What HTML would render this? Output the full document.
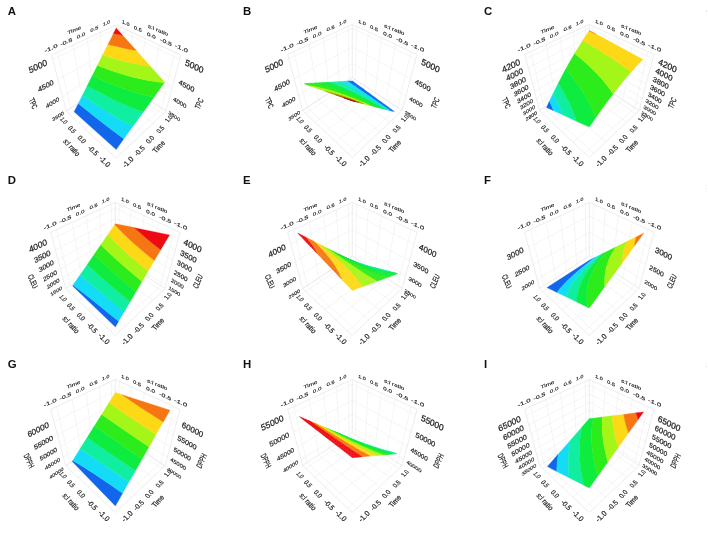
<!DOCTYPE html>
<html><head><meta charset="utf-8"><title>Response surface plots</title>
<style>html,body{margin:0;padding:0;background:#fff}svg{display:block}text{font-family:"Liberation Sans",sans-serif}</style></head>
<body>
<svg width="708" height="541" viewBox="0 0 708 541">
<rect width="708" height="541" fill="#fff"/>
<g transform="translate(0 0)">
<g fill="none" stroke="#efefef" stroke-width="0.6"><path d="M120.7 153.9L70.8 108.3"/><path d="M111.6 153.9L161.5 108.3"/><path d="M70.8 108.3L57.5 52.2"/><path d="M161.5 108.3L174.8 52.2"/><path d="M132.6 142.7L82.5 100.6"/><path d="M99.7 142.7L149.8 100.6"/><path d="M82.5 100.6L73 45"/><path d="M149.8 100.6L159.2 45"/><path d="M143.5 132.4L93.3 93.5"/><path d="M88.8 132.4L139 93.5"/><path d="M93.3 93.5L87.2 38.4"/><path d="M139 93.5L145.1 38.4"/><path d="M153.5 122.9L103.4 86.8"/><path d="M78.8 122.9L128.8 86.8"/><path d="M103.4 86.8L100.2 32.4"/><path d="M128.8 86.8L132.1 32.4"/><path d="M162.7 114.1L112.9 80.6"/><path d="M69.5 114.1L119.4 80.6"/><path d="M112.9 80.6L112.1 26.9"/><path d="M119.4 80.6L120.2 26.9"/><path d="M66.3 110.7L116.1 78"/><path d="M116.1 78L166 110.7"/><path d="M62.4 96.2L116.1 63.8"/><path d="M116.1 63.8L169.8 96.2"/><path d="M57.9 79.3L116.1 47.6"/><path d="M116.1 47.6L174.3 79.3"/><path d="M52.6 59.3L116.1 28.9"/><path d="M116.1 28.9L179.6 59.3"/></g><g fill="none" stroke="#e5e5e5" stroke-width="0.7"><path d="M66.4 111.2L116.1 158.2"/><path d="M116.1 158.2L165.9 111.2"/><path d="M165.9 111.2L116.1 78.5"/><path d="M116.1 78.5L66.4 111.2"/><path d="M66.4 111.2L51.5 55"/><path d="M165.9 111.2L180.8 55"/><path d="M116.1 78.5L116.1 25"/><path d="M51.5 55L116.1 25"/><path d="M116.1 25L180.8 55"/></g>
<g stroke-width="0.3" stroke-linejoin="round"><polygon points="78.3,103.5 74.1,111.8 116.2,149.6 123.9,138.8 112.9,130.7 102.8,123 91.7,114.2" fill="#1266ec" stroke="#1266ec"/><polygon points="82.3,95.4 78.3,103.5 91.6,114.3 102.8,123 115,132.3 123.9,138.8 132.9,126.3 127.8,123.7 120.4,119.7 115.8,117 109.2,113 102.9,109.1 96.9,105.3 89.4,100.3" fill="#14dcf6" stroke="#14dcf6"/><polygon points="87.3,85.6 82.3,95.5 89.4,100.3 96.9,105.3 102.8,109.2 109.1,113.1 115.8,117.1 120.4,119.7 127.7,123.7 132.9,126.4 143.5,111.7 134.9,108.7 129.4,106.6 123.5,104.1 116.8,101.1 109.8,97.8 103.2,94.4 95,90" fill="#10eea2" stroke="#10eea2"/><polygon points="92.3,75.6 87.2,85.7 94.9,90 101.1,93.3 107.6,96.7 113.2,99.5 119.2,102.3 126.8,105.6 132.1,107.7 137.6,109.8 143.5,111.7 154,97.2 144.4,95 138.4,93.5 132.6,91.8 124.5,89.1 116.8,86.3 109.6,83.4 100.6,79.5" fill="#0eec40" stroke="#0eec40"/><polygon points="97.4,65.4 92.3,75.7 98.5,78.6 105,81.5 112,84.4 116.8,86.3 124.5,89.1 129.8,90.9 135.5,92.7 141.3,94.3 147.5,95.8 154,97.2 164.4,82.8 155.2,81.6 147.4,80.3 141.1,79.1 132.3,76.9 123.9,74.6 116.1,72.2 106.4,68.8" fill="#2cec1c" stroke="#2cec1c"/><polygon points="102.6,55 97.4,65.5 106.4,68.9 116.1,72.3 121.3,73.9 126.6,75.5 135.1,77.7 144.2,79.8 149.6,80.8 153.9,81.5 160.4,82.4 164.4,82.8 164.8,82.2 150.6,66.5 145.1,65.6 139.3,64.6 133.1,63.3 126.6,61.8 120.1,60.2 114.8,58.7 109.8,57.2" fill="#a4f618" stroke="#a4f618"/><polygon points="108,44.3 102.6,55 109.8,57.3 114.8,58.8 120,60.2 126.6,61.9 133.1,63.4 139.3,64.6 145.1,65.7 150.6,66.5 136.4,50.6 129.5,49.3 121,47.5 115.7,46.3" fill="#fcd816" stroke="#fcd816"/><polygon points="113.5,33.4 108,44.4 115.6,46.3 123.8,48.2 130.3,49.6 136.4,50.6 122.6,35.3" fill="#f57612" stroke="#f57612"/><polygon points="116.2,28.1 113.4,33.5 122.6,35.3 122.6,35.3" fill="#ee0a12" stroke="#ee0a12"/></g>
<g fill="#222" stroke="#222" stroke-width="0.28" font-size="10" dominant-baseline="central"><text transform="matrix(0.505 -0.331 0.122 0.432 63.6 112.5)" text-anchor="end">3500</text><text transform="matrix(0.505 0.331 -0.122 0.432 168.7 112.5)" text-anchor="start">3500</text><text transform="matrix(0.586 -0.354 0.152 0.532 58.9 98.4)" text-anchor="end">4000</text><text transform="matrix(0.586 0.354 -0.152 0.532 173.4 98.4)" text-anchor="start">4000</text><text transform="matrix(0.685 -0.374 0.191 0.662 53.4 81.8)" text-anchor="end">4500</text><text transform="matrix(0.685 0.374 -0.191 0.662 178.9 81.8)" text-anchor="start">4500</text><text transform="matrix(0.806 -0.386 0.244 0.833 46.8 62.1)" text-anchor="end">5000</text><text transform="matrix(0.806 0.386 -0.244 0.833 185.4 62.1)" text-anchor="start">5000</text><text transform="matrix(0.208 0.492 -0.707 0.407 33.3 103.5)" text-anchor="middle">TPC</text><text transform="matrix(0.208 -0.492 0.707 0.407 199 103.5)" text-anchor="middle">TPC</text><text transform="matrix(0.752 -0.333 0.125 0.480 50.9 48.1)" text-anchor="middle">-1.0</text><text transform="matrix(0.752 0.333 -0.125 0.480 181.4 48.1)" text-anchor="middle">-1.0</text><text transform="matrix(0.685 -0.305 0.091 0.470 66.2 41.7)" text-anchor="middle">-0.5</text><text transform="matrix(0.685 0.305 -0.091 0.470 166.1 41.7)" text-anchor="middle">-0.5</text><text transform="matrix(0.624 -0.278 0.061 0.459 81 35.5)" text-anchor="middle">0.0</text><text transform="matrix(0.624 0.278 -0.061 0.459 151.3 35.5)" text-anchor="middle">0.0</text><text transform="matrix(0.573 -0.254 0.036 0.451 94.4 28.8)" text-anchor="middle">0.5</text><text transform="matrix(0.573 0.254 -0.036 0.451 137.9 28.8)" text-anchor="middle">0.5</text><text transform="matrix(0.528 -0.233 0.015 0.443 106.5 22.9)" text-anchor="middle">1.0</text><text transform="matrix(0.528 0.233 -0.015 0.443 125.8 22.9)" text-anchor="middle">1.0</text><text transform="matrix(0.617 -0.259 0.073 0.467 74.3 30.1)" text-anchor="middle">Time</text><text transform="matrix(0.624 0.262 -0.073 0.472 158 30.1)" text-anchor="middle">s:l ratio</text><text transform="matrix(0.362 0.362 -0.531 0.362 63.8 120.6)" text-anchor="middle">1.0</text><text transform="matrix(0.391 0.390 -0.538 0.390 72.3 129.3)" text-anchor="middle">0.5</text><text transform="matrix(0.424 0.425 -0.544 0.425 82 139.3)" text-anchor="middle">0.0</text><text transform="matrix(0.464 0.465 -0.548 0.465 93.2 150.5)" text-anchor="middle">-0.5</text><text transform="matrix(0.506 0.505 -0.550 0.505 104.8 161.4)" text-anchor="middle">-1.0</text><text transform="matrix(0.359 -0.356 0.527 0.356 168.6 118.8)" text-anchor="middle">1.0</text><text transform="matrix(0.390 -0.390 0.538 0.390 160 129.3)" text-anchor="middle">0.5</text><text transform="matrix(0.425 -0.425 0.543 0.425 149.8 139.4)" text-anchor="middle">0.0</text><text transform="matrix(0.464 -0.466 0.549 0.466 139.3 150.8)" text-anchor="middle">-0.5</text><text transform="matrix(0.507 -0.508 0.552 0.508 127.9 162)" text-anchor="middle">-1.0</text><text transform="matrix(0.434 0.469 -0.600 0.469 71.8 147.3)" text-anchor="middle">s:l ratio</text><text transform="matrix(0.437 -0.467 0.595 0.467 158.7 146.7)" text-anchor="middle">Time</text></g>
</g>
<text x="7.7" y="15.1" font-size="11.4" font-weight="bold" fill="#111">A</text>
<g transform="translate(236.2 -0.6)">
<g fill="none" stroke="#efefef" stroke-width="0.6"><path d="M120.7 153.9L70.8 108.3"/><path d="M111.6 153.9L161.5 108.3"/><path d="M70.8 108.3L57.5 52.2"/><path d="M161.5 108.3L174.8 52.2"/><path d="M132.6 142.7L82.5 100.6"/><path d="M99.7 142.7L149.8 100.6"/><path d="M82.5 100.6L73 45"/><path d="M149.8 100.6L159.2 45"/><path d="M143.5 132.4L93.3 93.5"/><path d="M88.8 132.4L139 93.5"/><path d="M93.3 93.5L87.2 38.4"/><path d="M139 93.5L145.1 38.4"/><path d="M153.5 122.9L103.4 86.8"/><path d="M78.8 122.9L128.8 86.8"/><path d="M103.4 86.8L100.2 32.4"/><path d="M128.8 86.8L132.1 32.4"/><path d="M162.7 114.1L112.9 80.6"/><path d="M69.5 114.1L119.4 80.6"/><path d="M112.9 80.6L112.1 26.9"/><path d="M119.4 80.6L120.2 26.9"/><path d="M66.3 110.7L116.1 78"/><path d="M116.1 78L166 110.7"/><path d="M62.4 96.2L116.1 63.8"/><path d="M116.1 63.8L169.8 96.2"/><path d="M57.9 79.3L116.1 47.6"/><path d="M116.1 47.6L174.3 79.3"/><path d="M52.6 59.3L116.1 28.9"/><path d="M116.1 28.9L179.6 59.3"/></g><g fill="none" stroke="#e5e5e5" stroke-width="0.7"><path d="M66.4 111.2L116.1 158.2"/><path d="M116.1 158.2L165.9 111.2"/><path d="M165.9 111.2L116.1 78.5"/><path d="M116.1 78.5L66.4 111.2"/><path d="M66.4 111.2L51.5 55"/><path d="M165.9 111.2L180.8 55"/><path d="M116.1 78.5L116.1 25"/><path d="M51.5 55L116.1 25"/><path d="M116.1 25L180.8 55"/></g>
<g stroke-width="0.35" stroke-linejoin="round"><polygon points="116.1,82.7 117.7,82.6 116.1,81.5 114.6,81.6" fill="#1266ec" stroke="#1266ec"/><polygon points="117.7,83.8 119.2,83.8 117.7,82.6 116.1,82.7" fill="#1266ec" stroke="#1266ec"/><polygon points="119.3,84.9 120.8,84.9 119.2,83.8 117.7,83.8" fill="#1266ec" stroke="#1266ec"/><polygon points="120.9,86.1 122.4,86.1 120.8,84.9 119.3,84.9" fill="#1266ec" stroke="#1266ec"/><polygon points="122.5,87.2 124,87.3 122.4,86.1 120.9,86.1" fill="#1266ec" stroke="#1266ec"/><polygon points="124.1,88.4 125.6,88.4 124,87.3 122.5,87.2" fill="#1266ec" stroke="#1266ec"/><polygon points="125.8,89.6 127.3,89.6 125.6,88.4 124.1,88.4" fill="#1266ec" stroke="#1266ec"/><polygon points="127.5,90.8 128.9,90.9 127.3,89.6 125.8,89.6" fill="#1266ec" stroke="#1266ec"/><polygon points="129.1,92 130.6,92.1 128.9,90.9 127.5,90.8" fill="#1266ec" stroke="#1266ec"/><polygon points="130.9,93.2 132.3,93.3 130.6,92.1 129.1,92" fill="#1266ec" stroke="#1266ec"/><polygon points="132.6,94.5 134,94.6 132.3,93.3 130.9,93.2" fill="#1266ec" stroke="#1266ec"/><polygon points="134.3,95.7 135.7,95.9 134,94.6 132.6,94.5" fill="#1266ec" stroke="#1266ec"/><polygon points="136.1,97 137.5,97.1 135.7,95.9 134.3,95.7" fill="#1266ec" stroke="#1266ec"/><polygon points="137.9,98.3 139.2,98.4 137.5,97.1 136.1,97" fill="#1266ec" stroke="#1266ec"/><polygon points="139.7,99.6 141,99.8 139.2,98.4 137.9,98.3" fill="#1266ec" stroke="#1266ec"/><polygon points="141.5,100.9 142.8,101.1 141,99.8 139.7,99.6" fill="#1266ec" stroke="#1266ec"/><polygon points="143.4,102.2 144.7,102.4 142.8,101.1 141.5,100.9" fill="#1266ec" stroke="#1266ec"/><polygon points="145.2,103.6 146.5,103.8 144.7,102.4 143.4,102.2" fill="#1266ec" stroke="#1266ec"/><polygon points="147.1,104.9 148.4,105.1 146.5,103.8 145.2,103.6" fill="#1266ec" stroke="#1266ec"/><polygon points="149,106.3 150.3,106.5 148.4,105.1 147.1,104.9" fill="#1266ec" stroke="#1266ec"/><polygon points="151,107.7 152.2,107.9 150.3,106.5 149,106.3" fill="#1266ec" stroke="#1266ec"/><polygon points="152.9,109.1 154.1,109.4 152.2,107.9 151,107.7" fill="#1266ec" stroke="#1266ec"/><polygon points="154.9,110.5 156.1,110.8 154.1,109.4 152.9,109.1" fill="#1266ec" stroke="#1266ec"/><polygon points="156.9,111.9 158.1,112.2 156.1,110.8 154.9,110.5" fill="#1266ec" stroke="#1266ec"/><polygon points="114.6,82.7 116.1,82.7 114.6,81.6 113,81.7" fill="#1266ec" stroke="#1266ec"/><polygon points="116.1,83.9 117.7,83.8 116.1,82.7 114.6,82.7" fill="#1266ec" stroke="#1266ec"/><polygon points="117.7,85 119.3,84.9 117.7,83.8 116.1,83.9" fill="#1266ec" stroke="#1266ec"/><polygon points="119.3,86.1 120.9,86.1 119.3,84.9 117.7,85" fill="#1266ec" stroke="#1266ec"/><polygon points="121,87.2 122.5,87.2 120.9,86.1 119.3,86.1" fill="#1266ec" stroke="#1266ec"/><polygon points="122.6,88.4 124.1,88.4 122.5,87.2 121,87.2" fill="#1266ec" stroke="#1266ec"/><polygon points="124.3,89.6 125.8,89.6 124.1,88.4 122.6,88.4" fill="#1266ec" stroke="#1266ec"/><polygon points="126,90.7 127.5,90.8 125.8,89.6 124.3,89.6" fill="#1266ec" stroke="#1266ec"/><polygon points="127.7,91.9 129.1,92 127.5,90.8 126,90.7" fill="#1266ec" stroke="#1266ec"/><polygon points="129.4,93.1 130.9,93.2 129.1,92 127.7,91.9" fill="#1266ec" stroke="#1266ec"/><polygon points="131.1,94.4 132.6,94.5 130.9,93.2 129.4,93.1" fill="#1266ec" stroke="#1266ec"/><polygon points="132.9,95.6 134.3,95.7 132.6,94.5 131.1,94.4" fill="#1266ec" stroke="#1266ec"/><polygon points="134.7,96.8 136.1,97 134.3,95.7 132.9,95.6" fill="#1266ec" stroke="#1266ec"/><polygon points="136.5,98.1 137.9,98.3 136.1,97 134.7,96.8" fill="#1266ec" stroke="#1266ec"/><polygon points="138.3,99.4 139.7,99.6 137.9,98.3 136.5,98.1" fill="#1266ec" stroke="#1266ec"/><polygon points="140.1,100.7 141.5,100.9 139.7,99.6 138.3,99.4" fill="#1266ec" stroke="#1266ec"/><polygon points="142,102 143.4,102.2 141.5,100.9 140.1,100.7" fill="#1266ec" stroke="#1266ec"/><polygon points="143.9,103.3 145.2,103.6 143.4,102.2 142,102" fill="#1266ec" stroke="#1266ec"/><polygon points="145.8,104.7 147.1,104.9 145.2,103.6 143.9,103.3" fill="#1266ec" stroke="#1266ec"/><polygon points="147.8,106 149,106.3 147.1,104.9 145.8,104.7" fill="#1266ec" stroke="#1266ec"/><polygon points="149.7,107.4 151,107.7 149,106.3 147.8,106" fill="#1266ec" stroke="#1266ec"/><polygon points="151.7,108.8 152.9,109.1 151,107.7 149.7,107.4" fill="#1266ec" stroke="#1266ec"/><polygon points="153.7,110.2 154.9,110.5 152.9,109.1 151.7,108.8" fill="#1266ec" stroke="#1266ec"/><polygon points="155.8,111.7 156.9,111.9 154.9,110.5 153.7,110.2" fill="#1266ec" stroke="#1266ec"/><polygon points="113,82.8 114.6,82.7 113,81.7 111.4,81.7" fill="#1266ec" stroke="#1266ec"/><polygon points="114.5,83.9 116.1,83.9 114.6,82.7 113,82.8" fill="#1266ec" stroke="#1266ec"/><polygon points="116.1,85 117.7,85 116.1,83.9 114.5,83.9" fill="#1266ec" stroke="#1266ec"/><polygon points="117.8,86.1 119.3,86.1 117.7,85 116.1,85" fill="#1266ec" stroke="#1266ec"/><polygon points="119.4,87.2 121,87.2 119.3,86.1 117.8,86.1" fill="#1266ec" stroke="#1266ec"/><polygon points="121,88.4 122.6,88.4 121,87.2 119.4,87.2" fill="#1266ec" stroke="#1266ec"/><polygon points="122.7,89.5 124.3,89.6 122.6,88.4 121,88.4" fill="#1266ec" stroke="#1266ec"/><polygon points="124.4,90.7 126,90.7 124.3,89.6 122.7,89.5" fill="#1266ec" stroke="#1266ec"/><polygon points="126.1,91.8 127.7,91.9 126,90.7 124.4,90.7" fill="#1266ec" stroke="#1266ec"/><polygon points="127.9,93 129.4,93.1 127.7,91.9 126.1,91.8" fill="#1266ec" stroke="#1266ec"/><polygon points="129.6,94.2 131.1,94.4 129.4,93.1 127.9,93" fill="#1266ec" stroke="#1266ec"/><polygon points="131.4,95.5 132.9,95.6 131.1,94.4 129.6,94.2" fill="#1266ec" stroke="#1266ec"/><polygon points="133.2,96.7 134.7,96.8 132.9,95.6 131.4,95.5" fill="#1266ec" stroke="#1266ec"/><polygon points="135,97.9 136.5,98.1 134.7,96.8 133.2,96.7" fill="#1266ec" stroke="#1266ec"/><polygon points="136.9,99.2 138.3,99.4 136.5,98.1 135,97.9" fill="#1266ec" stroke="#1266ec"/><polygon points="138.7,100.5 140.1,100.7 138.3,99.4 136.9,99.2" fill="#1266ec" stroke="#1266ec"/><polygon points="140.6,101.8 142,102 140.1,100.7 138.7,100.5" fill="#1266ec" stroke="#1266ec"/><polygon points="142.5,103.1 143.9,103.3 142,102 140.6,101.8" fill="#1266ec" stroke="#1266ec"/><polygon points="144.5,104.4 145.8,104.7 143.9,103.3 142.5,103.1" fill="#1266ec" stroke="#1266ec"/><polygon points="146.4,105.8 147.8,106 145.8,104.7 144.5,104.4" fill="#1266ec" stroke="#1266ec"/><polygon points="148.4,107.1 149.7,107.4 147.8,106 146.4,105.8" fill="#1266ec" stroke="#1266ec"/><polygon points="150.4,108.5 151.7,108.8 149.7,107.4 148.4,107.1" fill="#1266ec" stroke="#1266ec"/><polygon points="152.5,109.9 153.7,110.2 151.7,108.8 150.4,108.5" fill="#1266ec" stroke="#1266ec"/><polygon points="154.6,111.3 155.8,111.7 153.7,110.2 152.5,109.9" fill="#1266ec" stroke="#1266ec"/><polygon points="112.9,82.8 113,82.8 111.4,81.7 111.3,81.8" fill="#1266ec" stroke="#1266ec"/><polygon points="111.3,82.9 112.9,82.8 111.3,81.8 109.7,81.8" fill="#14dcf6" stroke="#14dcf6"/><polygon points="114.5,83.9 114.5,83.9 113,82.8 112.9,82.8" fill="#1266ec" stroke="#1266ec"/><polygon points="112.9,84 114.5,83.9 112.9,82.8 111.3,82.9" fill="#14dcf6" stroke="#14dcf6"/><polygon points="116.1,85 116.1,85 114.5,83.9 114.5,83.9" fill="#1266ec" stroke="#1266ec"/><polygon points="114.5,85 116.1,85 114.5,83.9 112.9,84" fill="#14dcf6" stroke="#14dcf6"/><polygon points="117.7,86.1 117.8,86.1 116.1,85 116.1,85" fill="#1266ec" stroke="#1266ec"/><polygon points="116.1,86.1 117.7,86.1 116.1,85 114.5,85" fill="#14dcf6" stroke="#14dcf6"/><polygon points="119.3,87.2 119.4,87.2 117.8,86.1 117.7,86.1" fill="#1266ec" stroke="#1266ec"/><polygon points="117.8,87.2 119.3,87.2 117.7,86.1 116.1,86.1" fill="#14dcf6" stroke="#14dcf6"/><polygon points="120.9,88.4 121,88.4 119.4,87.2 119.3,87.2" fill="#1266ec" stroke="#1266ec"/><polygon points="119.4,88.3 120.9,88.4 119.3,87.2 117.8,87.2" fill="#14dcf6" stroke="#14dcf6"/><polygon points="122.6,89.5 122.7,89.5 121,88.4 120.9,88.4" fill="#1266ec" stroke="#1266ec"/><polygon points="121.1,89.5 122.6,89.5 120.9,88.4 119.4,88.3" fill="#14dcf6" stroke="#14dcf6"/><polygon points="124.3,90.7 124.4,90.7 122.7,89.5 122.6,89.5" fill="#1266ec" stroke="#1266ec"/><polygon points="122.8,90.6 124.3,90.7 122.6,89.5 121.1,89.5" fill="#14dcf6" stroke="#14dcf6"/><polygon points="126,91.8 126.1,91.8 124.4,90.7 124.3,90.7" fill="#1266ec" stroke="#1266ec"/><polygon points="124.6,91.8 126,91.8 124.3,90.7 122.8,90.6" fill="#14dcf6" stroke="#14dcf6"/><polygon points="127.7,93 127.9,93 126.1,91.8 126,91.8" fill="#1266ec" stroke="#1266ec"/><polygon points="126.3,92.9 127.7,93 126,91.8 124.6,91.8" fill="#14dcf6" stroke="#14dcf6"/><polygon points="129.5,94.2 129.6,94.2 127.9,93 127.7,93" fill="#1266ec" stroke="#1266ec"/><polygon points="128.1,94.1 129.5,94.2 127.7,93 126.3,92.9" fill="#14dcf6" stroke="#14dcf6"/><polygon points="131.3,95.5 131.4,95.5 129.6,94.2 129.5,94.2" fill="#1266ec" stroke="#1266ec"/><polygon points="129.9,95.3 131.3,95.5 129.5,94.2 128.1,94.1" fill="#14dcf6" stroke="#14dcf6"/><polygon points="133.1,96.7 133.2,96.7 131.4,95.5 131.3,95.5" fill="#1266ec" stroke="#1266ec"/><polygon points="131.7,96.5 133.1,96.7 131.3,95.5 129.9,95.3" fill="#14dcf6" stroke="#14dcf6"/><polygon points="134.9,97.9 135,97.9 133.2,96.7 133.1,96.7" fill="#1266ec" stroke="#1266ec"/><polygon points="133.5,97.8 134.9,97.9 133.1,96.7 131.7,96.5" fill="#14dcf6" stroke="#14dcf6"/><polygon points="136.7,99.2 136.9,99.2 135,97.9 134.9,97.9" fill="#1266ec" stroke="#1266ec"/><polygon points="135.4,99 136.7,99.2 134.9,97.9 133.5,97.8" fill="#14dcf6" stroke="#14dcf6"/><polygon points="138.6,100.5 138.7,100.5 136.9,99.2 136.7,99.2" fill="#1266ec" stroke="#1266ec"/><polygon points="137.3,100.3 138.6,100.5 136.7,99.2 135.4,99" fill="#14dcf6" stroke="#14dcf6"/><polygon points="140.5,101.8 140.6,101.8 138.7,100.5 138.6,100.5" fill="#1266ec" stroke="#1266ec"/><polygon points="139.2,101.6 140.5,101.8 138.6,100.5 137.3,100.3" fill="#14dcf6" stroke="#14dcf6"/><polygon points="142.4,103.1 142.5,103.1 140.6,101.8 140.5,101.8" fill="#1266ec" stroke="#1266ec"/><polygon points="141.1,102.9 142.4,103.1 140.5,101.8 139.2,101.6" fill="#14dcf6" stroke="#14dcf6"/><polygon points="144.3,104.4 144.5,104.4 142.5,103.1 142.4,103.1" fill="#1266ec" stroke="#1266ec"/><polygon points="143.1,104.2 144.3,104.4 142.4,103.1 141.1,102.9" fill="#14dcf6" stroke="#14dcf6"/><polygon points="146.3,105.8 146.4,105.8 144.5,104.4 144.3,104.4" fill="#1266ec" stroke="#1266ec"/><polygon points="145.1,105.5 146.3,105.8 144.3,104.4 143.1,104.2" fill="#14dcf6" stroke="#14dcf6"/><polygon points="148.3,107.1 148.4,107.1 146.4,105.8 146.3,105.8" fill="#1266ec" stroke="#1266ec"/><polygon points="147.1,106.9 148.3,107.1 146.3,105.8 145.1,105.5" fill="#14dcf6" stroke="#14dcf6"/><polygon points="150.3,108.5 150.4,108.5 148.4,107.1 148.3,107.1" fill="#1266ec" stroke="#1266ec"/><polygon points="149.1,108.2 150.3,108.5 148.3,107.1 147.1,106.9" fill="#14dcf6" stroke="#14dcf6"/><polygon points="152.4,109.9 152.5,109.9 150.4,108.5 150.3,108.5" fill="#1266ec" stroke="#1266ec"/><polygon points="151.2,109.6 152.4,109.9 150.3,108.5 149.1,108.2" fill="#14dcf6" stroke="#14dcf6"/><polygon points="154.4,111.3 154.6,111.3 152.5,109.9 152.4,109.9" fill="#1266ec" stroke="#1266ec"/><polygon points="153.3,111 154.4,111.3 152.4,109.9 151.2,109.6" fill="#14dcf6" stroke="#14dcf6"/><polygon points="109.6,83 111.3,82.9 109.7,81.8 108.1,81.9" fill="#14dcf6" stroke="#14dcf6"/><polygon points="111.2,84 112.9,84 111.3,82.9 109.6,83" fill="#14dcf6" stroke="#14dcf6"/><polygon points="112.8,85.1 114.5,85 112.9,84 111.2,84" fill="#14dcf6" stroke="#14dcf6"/><polygon points="114.5,86.1 116.1,86.1 114.5,85 112.8,85.1" fill="#14dcf6" stroke="#14dcf6"/><polygon points="116.1,87.2 117.8,87.2 116.1,86.1 114.5,86.1" fill="#14dcf6" stroke="#14dcf6"/><polygon points="117.8,88.3 119.4,88.3 117.8,87.2 116.1,87.2" fill="#14dcf6" stroke="#14dcf6"/><polygon points="119.5,89.4 121.1,89.5 119.4,88.3 117.8,88.3" fill="#14dcf6" stroke="#14dcf6"/><polygon points="121.2,90.5 122.8,90.6 121.1,89.5 119.5,89.4" fill="#14dcf6" stroke="#14dcf6"/><polygon points="123,91.7 124.6,91.8 122.8,90.6 121.2,90.5" fill="#14dcf6" stroke="#14dcf6"/><polygon points="124.7,92.8 126.3,92.9 124.6,91.8 123,91.7" fill="#14dcf6" stroke="#14dcf6"/><polygon points="126.5,94 128.1,94.1 126.3,92.9 124.7,92.8" fill="#14dcf6" stroke="#14dcf6"/><polygon points="128.3,95.2 129.9,95.3 128.1,94.1 126.5,94" fill="#14dcf6" stroke="#14dcf6"/><polygon points="130.1,96.4 131.7,96.5 129.9,95.3 128.3,95.2" fill="#14dcf6" stroke="#14dcf6"/><polygon points="132,97.6 133.5,97.8 131.7,96.5 130.1,96.4" fill="#14dcf6" stroke="#14dcf6"/><polygon points="133.9,98.8 135.4,99 133.5,97.8 132,97.6" fill="#14dcf6" stroke="#14dcf6"/><polygon points="135.8,100.1 137.3,100.3 135.4,99 133.9,98.8" fill="#14dcf6" stroke="#14dcf6"/><polygon points="137.7,101.3 139.2,101.6 137.3,100.3 135.8,100.1" fill="#14dcf6" stroke="#14dcf6"/><polygon points="139.7,102.6 141.1,102.9 139.2,101.6 137.7,101.3" fill="#14dcf6" stroke="#14dcf6"/><polygon points="141.7,103.9 143.1,104.2 141.1,102.9 139.7,102.6" fill="#14dcf6" stroke="#14dcf6"/><polygon points="143.7,105.2 145.1,105.5 143.1,104.2 141.7,103.9" fill="#14dcf6" stroke="#14dcf6"/><polygon points="145.7,106.6 147.1,106.9 145.1,105.5 143.7,105.2" fill="#14dcf6" stroke="#14dcf6"/><polygon points="147.8,107.9 149.1,108.2 147.1,106.9 145.7,106.6" fill="#14dcf6" stroke="#14dcf6"/><polygon points="149.9,109.3 151.2,109.6 149.1,108.2 147.8,107.9" fill="#14dcf6" stroke="#14dcf6"/><polygon points="152,110.7 153.3,111 151.2,109.6 149.9,109.3" fill="#14dcf6" stroke="#14dcf6"/><polygon points="107.9,83 109.6,83 108.1,81.9 106.4,82" fill="#14dcf6" stroke="#14dcf6"/><polygon points="109.5,84.1 111.2,84 109.6,83 107.9,83" fill="#14dcf6" stroke="#14dcf6"/><polygon points="111.1,85.1 112.8,85.1 111.2,84 109.5,84.1" fill="#14dcf6" stroke="#14dcf6"/><polygon points="112.8,86.1 114.5,86.1 112.8,85.1 111.1,85.1" fill="#14dcf6" stroke="#14dcf6"/><polygon points="114.5,87.2 116.1,87.2 114.5,86.1 112.8,86.1" fill="#14dcf6" stroke="#14dcf6"/><polygon points="116.1,88.3 117.8,88.3 116.1,87.2 114.5,87.2" fill="#14dcf6" stroke="#14dcf6"/><polygon points="117.8,89.4 119.5,89.4 117.8,88.3 116.1,88.3" fill="#14dcf6" stroke="#14dcf6"/><polygon points="119.6,90.5 121.2,90.5 119.5,89.4 117.8,89.4" fill="#14dcf6" stroke="#14dcf6"/><polygon points="121.3,91.6 123,91.7 121.2,90.5 119.6,90.5" fill="#14dcf6" stroke="#14dcf6"/><polygon points="123.1,92.7 124.7,92.8 123,91.7 121.3,91.6" fill="#14dcf6" stroke="#14dcf6"/><polygon points="124.9,93.9 126.5,94 124.7,92.8 123.1,92.7" fill="#14dcf6" stroke="#14dcf6"/><polygon points="126.7,95 128.3,95.2 126.5,94 124.9,93.9" fill="#14dcf6" stroke="#14dcf6"/><polygon points="128.6,96.2 130.1,96.4 128.3,95.2 126.7,95" fill="#14dcf6" stroke="#14dcf6"/><polygon points="130.4,97.4 132,97.6 130.1,96.4 128.6,96.2" fill="#14dcf6" stroke="#14dcf6"/><polygon points="132.3,98.6 133.9,98.8 132,97.6 130.4,97.4" fill="#14dcf6" stroke="#14dcf6"/><polygon points="134.3,99.9 135.8,100.1 133.9,98.8 132.3,98.6" fill="#14dcf6" stroke="#14dcf6"/><polygon points="136.2,101.1 137.7,101.3 135.8,100.1 134.3,99.9" fill="#14dcf6" stroke="#14dcf6"/><polygon points="138.2,102.4 139.7,102.6 137.7,101.3 136.2,101.1" fill="#14dcf6" stroke="#14dcf6"/><polygon points="140.2,103.7 141.7,103.9 139.7,102.6 138.2,102.4" fill="#14dcf6" stroke="#14dcf6"/><polygon points="142.3,105 143.7,105.2 141.7,103.9 140.2,103.7" fill="#14dcf6" stroke="#14dcf6"/><polygon points="144.3,106.3 145.7,106.6 143.7,105.2 142.3,105 144,106.1" fill="#14dcf6" stroke="#14dcf6"/><polygon points="144.3,106.3 144.3,106.3 144,106.1" fill="#10eea2" stroke="#10eea2"/><polygon points="146.5,107.6 147.8,107.9 145.7,106.6 144.3,106.3" fill="#14dcf6" stroke="#14dcf6"/><polygon points="146.4,107.6 146.5,107.6 144.3,106.3 144.3,106.3" fill="#10eea2" stroke="#10eea2"/><polygon points="148.7,109 149.9,109.3 147.8,107.9 146.5,107.6" fill="#14dcf6" stroke="#14dcf6"/><polygon points="148.6,109 148.7,109 146.5,107.6 146.4,107.6" fill="#10eea2" stroke="#10eea2"/><polygon points="150.9,110.4 152,110.7 149.9,109.3 148.7,109" fill="#14dcf6" stroke="#14dcf6"/><polygon points="150.7,110.4 150.9,110.4 148.7,109 148.6,109" fill="#10eea2" stroke="#10eea2"/><polygon points="106.2,83.1 107.9,83 106.4,82 104.6,82.1" fill="#14dcf6" stroke="#14dcf6"/><polygon points="107.8,84.1 109.5,84.1 107.9,83 106.2,83.1" fill="#14dcf6" stroke="#14dcf6"/><polygon points="109.4,85.1 111.1,85.1 109.5,84.1 107.8,84.1" fill="#14dcf6" stroke="#14dcf6"/><polygon points="111.1,86.2 112.8,86.1 111.1,85.1 109.4,85.1" fill="#14dcf6" stroke="#14dcf6"/><polygon points="112.7,87.2 114.5,87.2 112.8,86.1 111.1,86.2" fill="#14dcf6" stroke="#14dcf6"/><polygon points="114.4,88.3 116.1,88.3 114.5,87.2 112.7,87.2" fill="#14dcf6" stroke="#14dcf6"/><polygon points="116.1,89.3 117.8,89.4 116.1,88.3 114.4,88.3" fill="#14dcf6" stroke="#14dcf6"/><polygon points="118,90.4 119.6,90.5 117.8,89.4 116.1,89.3 116.7,89.7" fill="#14dcf6" stroke="#14dcf6"/><polygon points="117.9,90.4 118,90.4 116.7,89.7" fill="#10eea2" stroke="#10eea2"/><polygon points="119.9,91.5 121.3,91.6 119.6,90.5 118,90.4" fill="#14dcf6" stroke="#14dcf6"/><polygon points="119.6,91.5 119.9,91.5 118,90.4 117.9,90.4" fill="#10eea2" stroke="#10eea2"/><polygon points="121.8,92.6 123.1,92.7 121.3,91.6 119.9,91.5" fill="#14dcf6" stroke="#14dcf6"/><polygon points="121.4,92.6 121.8,92.6 119.9,91.5 119.6,91.5" fill="#10eea2" stroke="#10eea2"/><polygon points="123.8,93.8 124.9,93.9 123.1,92.7 121.8,92.6" fill="#14dcf6" stroke="#14dcf6"/><polygon points="123.2,93.7 123.8,93.8 121.8,92.6 121.4,92.6" fill="#10eea2" stroke="#10eea2"/><polygon points="125.8,94.9 126.7,95 124.9,93.9 123.8,93.8" fill="#14dcf6" stroke="#14dcf6"/><polygon points="125.1,94.9 125.8,94.9 123.8,93.8 123.2,93.7" fill="#10eea2" stroke="#10eea2"/><polygon points="127.7,96.1 128.6,96.2 126.7,95 125.8,94.9" fill="#14dcf6" stroke="#14dcf6"/><polygon points="126.9,96 127.7,96.1 125.8,94.9 125.1,94.9" fill="#10eea2" stroke="#10eea2"/><polygon points="129.7,97.3 130.4,97.4 128.6,96.2 127.7,96.1" fill="#14dcf6" stroke="#14dcf6"/><polygon points="128.8,97.2 129.7,97.3 127.7,96.1 126.9,96" fill="#10eea2" stroke="#10eea2"/><polygon points="131.8,98.6 132.3,98.6 130.4,97.4 129.7,97.3" fill="#14dcf6" stroke="#14dcf6"/><polygon points="130.7,98.4 131.8,98.6 129.7,97.3 128.8,97.2" fill="#10eea2" stroke="#10eea2"/><polygon points="133.8,99.8 134.3,99.9 132.3,98.6 131.8,98.6" fill="#14dcf6" stroke="#14dcf6"/><polygon points="132.7,99.6 133.8,99.8 131.8,98.6 130.7,98.4" fill="#10eea2" stroke="#10eea2"/><polygon points="135.9,101 136.2,101.1 134.3,99.9 133.8,99.8" fill="#14dcf6" stroke="#14dcf6"/><polygon points="134.7,100.9 135.9,101 133.8,99.8 132.7,99.6" fill="#10eea2" stroke="#10eea2"/><polygon points="138,102.3 138.2,102.4 136.2,101.1 135.9,101" fill="#14dcf6" stroke="#14dcf6"/><polygon points="136.7,102.1 138,102.3 135.9,101 134.7,100.9" fill="#10eea2" stroke="#10eea2"/><polygon points="140.1,103.6 140.2,103.7 138.2,102.4 138,102.3" fill="#14dcf6" stroke="#14dcf6"/><polygon points="138.7,103.4 140.1,103.6 138,102.3 136.7,102.1" fill="#10eea2" stroke="#10eea2"/><polygon points="142.2,104.9 142.3,105 140.2,103.7 140.1,103.6" fill="#14dcf6" stroke="#14dcf6"/><polygon points="140.8,104.7 142.2,104.9 140.1,103.6 138.7,103.4" fill="#10eea2" stroke="#10eea2"/><polygon points="144,106.1 142.3,105 142.2,104.9" fill="#14dcf6" stroke="#14dcf6"/><polygon points="142.9,106 144.3,106.3 144,106.1 142.2,104.9 140.8,104.7" fill="#10eea2" stroke="#10eea2"/><polygon points="145,107.3 146.4,107.6 144.3,106.3 142.9,106" fill="#10eea2" stroke="#10eea2"/><polygon points="147.2,108.6 148.6,109 146.4,107.6 145,107.3" fill="#10eea2" stroke="#10eea2"/><polygon points="149.3,110 150.7,110.4 148.6,109 147.2,108.6" fill="#10eea2" stroke="#10eea2"/><polygon points="104.8,83.2 106.2,83.1 104.6,82.1 103,82.2" fill="#14dcf6" stroke="#14dcf6"/><polygon points="104.4,83.2 104.8,83.2 103,82.2 102.8,82.2" fill="#10eea2" stroke="#10eea2"/><polygon points="106.7,84.2 107.8,84.1 106.2,83.1 104.8,83.2" fill="#14dcf6" stroke="#14dcf6"/><polygon points="106,84.2 106.7,84.2 104.8,83.2 104.4,83.2" fill="#10eea2" stroke="#10eea2"/><polygon points="108.5,85.1 109.4,85.1 107.8,84.1 106.7,84.2" fill="#14dcf6" stroke="#14dcf6"/><polygon points="107.6,85.2 108.5,85.1 106.7,84.2 106,84.2" fill="#10eea2" stroke="#10eea2"/><polygon points="110.4,86.2 111.1,86.2 109.4,85.1 108.5,85.1" fill="#14dcf6" stroke="#14dcf6"/><polygon points="109.3,86.2 110.4,86.2 108.5,85.1 107.6,85.2" fill="#10eea2" stroke="#10eea2"/><polygon points="112.3,87.2 112.7,87.2 111.1,86.2 110.4,86.2" fill="#14dcf6" stroke="#14dcf6"/><polygon points="111,87.2 112.3,87.2 110.4,86.2 109.3,86.2" fill="#10eea2" stroke="#10eea2"/><polygon points="114.2,88.2 114.4,88.3 112.7,87.2 112.3,87.2" fill="#14dcf6" stroke="#14dcf6"/><polygon points="112.7,88.2 114.2,88.2 112.3,87.2 111,87.2" fill="#10eea2" stroke="#10eea2"/><polygon points="116.1,89.3 116.1,89.3 114.4,88.3 114.2,88.2" fill="#14dcf6" stroke="#14dcf6"/><polygon points="114.4,89.3 116.1,89.3 114.2,88.2 112.7,88.2" fill="#10eea2" stroke="#10eea2"/><polygon points="116.7,89.7 116.1,89.3 116.1,89.3" fill="#14dcf6" stroke="#14dcf6"/><polygon points="116.1,90.3 117.9,90.4 116.7,89.7 116.1,89.3 114.4,89.3" fill="#10eea2" stroke="#10eea2"/><polygon points="117.9,91.4 119.6,91.5 117.9,90.4 116.1,90.3" fill="#10eea2" stroke="#10eea2"/><polygon points="119.7,92.5 121.4,92.6 119.6,91.5 117.9,91.4" fill="#10eea2" stroke="#10eea2"/><polygon points="121.5,93.6 123.2,93.7 121.4,92.6 119.7,92.5" fill="#10eea2" stroke="#10eea2"/><polygon points="123.4,94.7 125.1,94.9 123.2,93.7 121.5,93.6" fill="#10eea2" stroke="#10eea2"/><polygon points="125.3,95.9 126.9,96 125.1,94.9 123.4,94.7" fill="#10eea2" stroke="#10eea2"/><polygon points="127.2,97 128.8,97.2 126.9,96 125.3,95.9" fill="#10eea2" stroke="#10eea2"/><polygon points="129.1,98.2 130.7,98.4 128.8,97.2 127.2,97" fill="#10eea2" stroke="#10eea2"/><polygon points="131.1,99.4 132.7,99.6 130.7,98.4 129.1,98.2" fill="#10eea2" stroke="#10eea2"/><polygon points="133.1,100.6 134.7,100.9 132.7,99.6 131.1,99.4" fill="#10eea2" stroke="#10eea2"/><polygon points="135.1,101.8 136.7,102.1 134.7,100.9 133.1,100.6" fill="#10eea2" stroke="#10eea2"/><polygon points="137.1,103.1 138.7,103.4 136.7,102.1 135.1,101.8" fill="#10eea2" stroke="#10eea2"/><polygon points="139.2,104.4 140.8,104.7 138.7,103.4 137.1,103.1" fill="#10eea2" stroke="#10eea2"/><polygon points="141.4,105.7 142.9,106 140.8,104.7 139.2,104.4" fill="#10eea2" stroke="#10eea2"/><polygon points="143.5,107 145,107.3 142.9,106 141.4,105.7" fill="#10eea2" stroke="#10eea2"/><polygon points="145.7,108.3 147.2,108.6 145,107.3 143.5,107" fill="#10eea2" stroke="#10eea2"/><polygon points="147.9,109.6 149.3,110 147.2,108.6 145.7,108.3" fill="#10eea2" stroke="#10eea2"/><polygon points="102.6,83.3 104.4,83.2 102.8,82.2 101,82.3" fill="#10eea2" stroke="#10eea2"/><polygon points="104.2,84.2 106,84.2 104.4,83.2 102.6,83.3" fill="#10eea2" stroke="#10eea2"/><polygon points="105.8,85.2 107.6,85.2 106,84.2 104.2,84.2" fill="#10eea2" stroke="#10eea2"/><polygon points="107.5,86.2 109.3,86.2 107.6,85.2 105.8,85.2" fill="#10eea2" stroke="#10eea2"/><polygon points="109.2,87.2 111,87.2 109.3,86.2 107.5,86.2" fill="#10eea2" stroke="#10eea2"/><polygon points="110.9,88.2 112.7,88.2 111,87.2 109.2,87.2" fill="#10eea2" stroke="#10eea2"/><polygon points="112.6,89.2 114.4,89.3 112.7,88.2 110.9,88.2" fill="#10eea2" stroke="#10eea2"/><polygon points="114.4,90.3 116.1,90.3 114.4,89.3 112.6,89.2" fill="#10eea2" stroke="#10eea2"/><polygon points="116.1,91.3 117.9,91.4 116.1,90.3 114.4,90.3" fill="#10eea2" stroke="#10eea2"/><polygon points="117.9,92.4 119.7,92.5 117.9,91.4 116.1,91.3" fill="#10eea2" stroke="#10eea2"/><polygon points="119.8,93.5 121.5,93.6 119.7,92.5 117.9,92.4" fill="#10eea2" stroke="#10eea2"/><polygon points="121.6,94.6 123.4,94.7 121.5,93.6 119.8,93.5" fill="#10eea2" stroke="#10eea2"/><polygon points="123.5,95.7 125.3,95.9 123.4,94.7 121.6,94.6" fill="#10eea2" stroke="#10eea2"/><polygon points="125.5,96.8 127.2,97 125.3,95.9 123.5,95.7" fill="#10eea2" stroke="#10eea2"/><polygon points="127.4,98 129.1,98.2 127.2,97 125.5,96.8" fill="#10eea2" stroke="#10eea2"/><polygon points="129.4,99.2 131.1,99.4 129.1,98.2 127.4,98" fill="#10eea2" stroke="#10eea2"/><polygon points="131.4,100.4 133.1,100.6 131.1,99.4 129.4,99.2" fill="#10eea2" stroke="#10eea2"/><polygon points="133.5,101.6 135.1,101.8 133.1,100.6 131.4,100.4" fill="#10eea2" stroke="#10eea2"/><polygon points="135.5,102.8 137.1,103.1 135.1,101.8 133.5,101.6" fill="#10eea2" stroke="#10eea2"/><polygon points="137.7,104.1 139.2,104.4 137.1,103.1 135.5,102.8" fill="#10eea2" stroke="#10eea2"/><polygon points="139.8,105.3 141.4,105.7 139.2,104.4 137.7,104.1" fill="#10eea2" stroke="#10eea2"/><polygon points="142,106.6 143.5,107 141.4,105.7 139.8,105.3" fill="#10eea2" stroke="#10eea2"/><polygon points="144.2,107.9 145.7,108.3 143.5,107 142,106.6" fill="#10eea2" stroke="#10eea2"/><polygon points="146.5,109.3 147.9,109.6 145.7,108.3 144.2,107.9" fill="#10eea2" stroke="#10eea2"/><polygon points="100.7,83.4 102.6,83.3 101,82.3 99.1,82.4" fill="#10eea2" stroke="#10eea2"/><polygon points="102.3,84.3 104.2,84.2 102.6,83.3 100.7,83.4" fill="#10eea2" stroke="#10eea2"/><polygon points="104,85.2 105.8,85.2 104.2,84.2 102.3,84.3" fill="#10eea2" stroke="#10eea2"/><polygon points="105.6,86.2 107.5,86.2 105.8,85.2 104,85.2" fill="#10eea2" stroke="#10eea2"/><polygon points="107.3,87.2 109.2,87.2 107.5,86.2 105.6,86.2" fill="#10eea2" stroke="#10eea2"/><polygon points="109,88.2 110.9,88.2 109.2,87.2 107.3,87.2" fill="#10eea2" stroke="#10eea2"/><polygon points="110.8,89.2 112.6,89.2 110.9,88.2 109,88.2" fill="#10eea2" stroke="#10eea2"/><polygon points="112.5,90.2 114.4,90.3 112.6,89.2 110.8,89.2" fill="#10eea2" stroke="#10eea2"/><polygon points="114.3,91.2 116.1,91.3 114.4,90.3 112.5,90.2" fill="#10eea2" stroke="#10eea2"/><polygon points="116.1,92.3 117.9,92.4 116.1,91.3 114.3,91.2" fill="#10eea2" stroke="#10eea2"/><polygon points="118,93.3 119.8,93.5 117.9,92.4 116.1,92.3" fill="#10eea2" stroke="#10eea2"/><polygon points="119.9,94.4 121.6,94.6 119.8,93.5 118,93.3" fill="#10eea2" stroke="#10eea2"/><polygon points="121.8,95.5 123.5,95.7 121.6,94.6 119.9,94.4" fill="#10eea2" stroke="#10eea2"/><polygon points="123.7,96.6 125.5,96.8 123.5,95.7 121.8,95.5" fill="#10eea2" stroke="#10eea2"/><polygon points="125.7,97.8 127.4,98 125.5,96.8 123.7,96.6" fill="#10eea2" stroke="#10eea2"/><polygon points="127.7,98.9 129.4,99.2 127.4,98 125.7,97.8" fill="#10eea2" stroke="#10eea2"/><polygon points="129.8,100.1 131.4,100.4 129.4,99.2 127.7,98.9 129,99.7" fill="#10eea2" stroke="#10eea2"/><polygon points="129.7,100.1 129.8,100.1 129,99.7" fill="#0eec40" stroke="#0eec40"/><polygon points="132.1,101.3 133.5,101.6 131.4,100.4 129.8,100.1" fill="#10eea2" stroke="#10eea2"/><polygon points="131.8,101.3 132.1,101.3 129.8,100.1 129.7,100.1" fill="#0eec40" stroke="#0eec40"/><polygon points="134.4,102.6 135.5,102.8 133.5,101.6 132.1,101.3" fill="#10eea2" stroke="#10eea2"/><polygon points="133.9,102.5 134.4,102.6 132.1,101.3 131.8,101.3" fill="#0eec40" stroke="#0eec40"/><polygon points="136.8,103.9 137.7,104.1 135.5,102.8 134.4,102.6" fill="#10eea2" stroke="#10eea2"/><polygon points="136,103.7 136.8,103.9 134.4,102.6 133.9,102.5" fill="#0eec40" stroke="#0eec40"/><polygon points="139.1,105.2 139.8,105.3 137.7,104.1 136.8,103.9" fill="#10eea2" stroke="#10eea2"/><polygon points="138.2,105 139.1,105.2 136.8,103.9 136,103.7" fill="#0eec40" stroke="#0eec40"/><polygon points="141.5,106.5 142,106.6 139.8,105.3 139.1,105.2" fill="#10eea2" stroke="#10eea2"/><polygon points="140.4,106.3 141.5,106.5 139.1,105.2 138.2,105" fill="#0eec40" stroke="#0eec40"/><polygon points="143.9,107.9 144.2,107.9 142,106.6 141.5,106.5" fill="#10eea2" stroke="#10eea2"/><polygon points="142.7,107.6 143.9,107.9 141.5,106.5 140.4,106.3" fill="#0eec40" stroke="#0eec40"/><polygon points="146.3,109.2 146.5,109.3 144.2,107.9 143.9,107.9" fill="#10eea2" stroke="#10eea2"/><polygon points="144.9,108.9 146.3,109.2 143.9,107.9 142.7,107.6" fill="#0eec40" stroke="#0eec40"/><polygon points="98.8,83.5 100.7,83.4 99.1,82.4 97.2,82.6" fill="#10eea2" stroke="#10eea2"/><polygon points="100.4,84.4 102.3,84.3 100.7,83.4 98.8,83.5" fill="#10eea2" stroke="#10eea2"/><polygon points="102.1,85.3 104,85.2 102.3,84.3 100.4,84.4" fill="#10eea2" stroke="#10eea2"/><polygon points="103.7,86.2 105.6,86.2 104,85.2 102.1,85.3" fill="#10eea2" stroke="#10eea2"/><polygon points="105.4,87.2 107.3,87.2 105.6,86.2 103.7,86.2" fill="#10eea2" stroke="#10eea2"/><polygon points="107.1,88.1 109,88.2 107.3,87.2 105.4,87.2" fill="#10eea2" stroke="#10eea2"/><polygon points="108.9,89.1 110.8,89.2 109,88.2 107.1,88.1" fill="#10eea2" stroke="#10eea2"/><polygon points="110.6,90.1 112.5,90.2 110.8,89.2 108.9,89.1" fill="#10eea2" stroke="#10eea2"/><polygon points="112.4,91.1 114.3,91.2 112.5,90.2 110.6,90.1" fill="#10eea2" stroke="#10eea2"/><polygon points="114.3,92.1 116.1,92.3 114.3,91.2 112.4,91.1" fill="#10eea2" stroke="#10eea2"/><polygon points="116.3,93.2 118,93.3 116.1,92.3 114.3,92.1 115.5,92.8" fill="#10eea2" stroke="#10eea2"/><polygon points="116.1,93.2 116.3,93.2 115.5,92.8" fill="#0eec40" stroke="#0eec40"/><polygon points="118.5,94.3 119.9,94.4 118,93.3 116.3,93.2" fill="#10eea2" stroke="#10eea2"/><polygon points="118,94.2 118.5,94.3 116.3,93.2 116.1,93.2" fill="#0eec40" stroke="#0eec40"/><polygon points="120.7,95.4 121.8,95.5 119.9,94.4 118.5,94.3" fill="#10eea2" stroke="#10eea2"/><polygon points="119.9,95.3 120.7,95.4 118.5,94.3 118,94.2" fill="#0eec40" stroke="#0eec40"/><polygon points="123,96.5 123.7,96.6 121.8,95.5 120.7,95.4" fill="#10eea2" stroke="#10eea2"/><polygon points="121.9,96.4 123,96.5 120.7,95.4 119.9,95.3" fill="#0eec40" stroke="#0eec40"/><polygon points="125.2,97.7 125.7,97.8 123.7,96.6 123,96.5" fill="#10eea2" stroke="#10eea2"/><polygon points="123.9,97.5 125.2,97.7 123,96.5 121.9,96.4" fill="#0eec40" stroke="#0eec40"/><polygon points="127.5,98.9 127.7,98.9 125.7,97.8 125.2,97.7" fill="#10eea2" stroke="#10eea2"/><polygon points="125.9,98.7 127.5,98.9 125.2,97.7 123.9,97.5" fill="#0eec40" stroke="#0eec40"/><polygon points="129,99.7 127.7,98.9 127.5,98.9" fill="#10eea2" stroke="#10eea2"/><polygon points="128,99.8 129.7,100.1 129,99.7 127.5,98.9 125.9,98.7" fill="#0eec40" stroke="#0eec40"/><polygon points="130,101 131.8,101.3 129.7,100.1 128,99.8" fill="#0eec40" stroke="#0eec40"/><polygon points="132.2,102.2 133.9,102.5 131.8,101.3 130,101" fill="#0eec40" stroke="#0eec40"/><polygon points="134.3,103.4 136,103.7 133.9,102.5 132.2,102.2" fill="#0eec40" stroke="#0eec40"/><polygon points="136.5,104.6 138.2,105 136,103.7 134.3,103.4" fill="#0eec40" stroke="#0eec40"/><polygon points="138.8,105.9 140.4,106.3 138.2,105 136.5,104.6" fill="#0eec40" stroke="#0eec40"/><polygon points="141.1,107.2 142.7,107.6 140.4,106.3 138.8,105.9" fill="#0eec40" stroke="#0eec40"/><polygon points="143.4,108.5 144.9,108.9 142.7,107.6 141.1,107.2" fill="#0eec40" stroke="#0eec40"/><polygon points="96.9,83.5 98.8,83.5 97.2,82.6 95.3,82.7" fill="#10eea2" stroke="#10eea2"/><polygon points="98.5,84.4 100.4,84.4 98.8,83.5 96.9,83.5" fill="#10eea2" stroke="#10eea2"/><polygon points="100.1,85.3 102.1,85.3 100.4,84.4 98.5,84.4" fill="#10eea2" stroke="#10eea2"/><polygon points="101.8,86.2 103.7,86.2 102.1,85.3 100.1,85.3" fill="#10eea2" stroke="#10eea2"/><polygon points="103.5,87.2 105.4,87.2 103.7,86.2 101.8,86.2" fill="#10eea2" stroke="#10eea2"/><polygon points="105.2,88.1 107.1,88.1 105.4,87.2 103.5,87.2" fill="#10eea2" stroke="#10eea2"/><polygon points="107.4,89.1 108.9,89.1 107.1,88.1 105.2,88.1 105.2,88.1" fill="#10eea2" stroke="#10eea2"/><polygon points="106.9,89 107.4,89.1 105.2,88.1 105.2,88.1" fill="#0eec40" stroke="#0eec40"/><polygon points="109.6,90.1 110.6,90.1 108.9,89.1 107.4,89.1" fill="#10eea2" stroke="#10eea2"/><polygon points="108.7,90 109.6,90.1 107.4,89.1 106.9,89" fill="#0eec40" stroke="#0eec40"/><polygon points="111.8,91.1 112.4,91.1 110.6,90.1 109.6,90.1" fill="#10eea2" stroke="#10eea2"/><polygon points="110.5,91 111.8,91.1 109.6,90.1 108.7,90" fill="#0eec40" stroke="#0eec40"/><polygon points="114,92.1 114.3,92.1 112.4,91.1 111.8,91.1" fill="#10eea2" stroke="#10eea2"/><polygon points="112.4,92 114,92.1 111.8,91.1 110.5,91" fill="#0eec40" stroke="#0eec40"/><polygon points="115.5,92.8 114.3,92.1 114,92.1" fill="#10eea2" stroke="#10eea2"/><polygon points="114.2,93 116.1,93.2 115.5,92.8 114,92.1 112.4,92" fill="#0eec40" stroke="#0eec40"/><polygon points="116.1,94.1 118,94.2 116.1,93.2 114.2,93" fill="#0eec40" stroke="#0eec40"/><polygon points="118.1,95.1 119.9,95.3 118,94.2 116.1,94.1" fill="#0eec40" stroke="#0eec40"/><polygon points="120,96.2 121.9,96.4 119.9,95.3 118.1,95.1" fill="#0eec40" stroke="#0eec40"/><polygon points="122,97.3 123.9,97.5 121.9,96.4 120,96.2" fill="#0eec40" stroke="#0eec40"/><polygon points="124.1,98.4 125.9,98.7 123.9,97.5 122,97.3" fill="#0eec40" stroke="#0eec40"/><polygon points="126.1,99.5 128,99.8 125.9,98.7 124.1,98.4" fill="#0eec40" stroke="#0eec40"/><polygon points="128.3,100.7 130,101 128,99.8 126.1,99.5" fill="#0eec40" stroke="#0eec40"/><polygon points="130.4,101.9 132.2,102.2 130,101 128.3,100.7" fill="#0eec40" stroke="#0eec40"/><polygon points="132.6,103.1 134.3,103.4 132.2,102.2 130.4,101.9" fill="#0eec40" stroke="#0eec40"/><polygon points="134.8,104.3 136.5,104.6 134.3,103.4 132.6,103.1" fill="#0eec40" stroke="#0eec40"/><polygon points="137.1,105.5 138.8,105.9 136.5,104.6 134.8,104.3" fill="#0eec40" stroke="#0eec40"/><polygon points="139.4,106.8 141.1,107.2 138.8,105.9 137.1,105.5" fill="#0eec40" stroke="#0eec40"/><polygon points="141.7,108.1 143.4,108.5 141.1,107.2 139.4,106.8" fill="#0eec40" stroke="#0eec40"/><polygon points="94.9,83.6 96.9,83.5 95.3,82.7 93.3,82.8" fill="#10eea2" stroke="#10eea2"/><polygon points="96.5,84.5 98.5,84.4 96.9,83.5 94.9,83.6" fill="#10eea2" stroke="#10eea2"/><polygon points="98.5,85.3 100.1,85.3 98.5,84.4 96.5,84.5 97,84.7" fill="#10eea2" stroke="#10eea2"/><polygon points="98.1,85.4 98.5,85.3 97,84.7" fill="#0eec40" stroke="#0eec40"/><polygon points="100.8,86.2 101.8,86.2 100.1,85.3 98.5,85.3" fill="#10eea2" stroke="#10eea2"/><polygon points="99.8,86.2 100.8,86.2 98.5,85.3 98.1,85.4" fill="#0eec40" stroke="#0eec40"/><polygon points="103,87.2 103.5,87.2 101.8,86.2 100.8,86.2" fill="#10eea2" stroke="#10eea2"/><polygon points="101.5,87.1 103,87.2 100.8,86.2 99.8,86.2" fill="#0eec40" stroke="#0eec40"/><polygon points="105.2,88.1 105.2,88.1 103.5,87.2 103,87.2" fill="#10eea2" stroke="#10eea2"/><polygon points="103.2,88.1 105.2,88.1 105.2,88.1 103,87.2 101.5,87.1" fill="#0eec40" stroke="#0eec40"/><polygon points="105,89 106.9,89 105.2,88.1 103.2,88.1" fill="#0eec40" stroke="#0eec40"/><polygon points="106.7,89.9 108.7,90 106.9,89 105,89" fill="#0eec40" stroke="#0eec40"/><polygon points="108.6,90.9 110.5,91 108.7,90 106.7,89.9" fill="#0eec40" stroke="#0eec40"/><polygon points="110.4,91.9 112.4,92 110.5,91 108.6,90.9" fill="#0eec40" stroke="#0eec40"/><polygon points="112.3,92.9 114.2,93 112.4,92 110.4,91.9" fill="#0eec40" stroke="#0eec40"/><polygon points="114.2,93.9 116.1,94.1 114.2,93 112.3,92.9" fill="#0eec40" stroke="#0eec40"/><polygon points="116.1,94.9 118.1,95.1 116.1,94.1 114.2,93.9" fill="#0eec40" stroke="#0eec40"/><polygon points="118.1,96 120,96.2 118.1,95.1 116.1,94.9" fill="#0eec40" stroke="#0eec40"/><polygon points="120.1,97 122,97.3 120,96.2 118.1,96" fill="#0eec40" stroke="#0eec40"/><polygon points="122.2,98.1 124.1,98.4 122,97.3 120.1,97" fill="#0eec40" stroke="#0eec40"/><polygon points="124.3,99.2 126.1,99.5 124.1,98.4 122.2,98.1" fill="#0eec40" stroke="#0eec40"/><polygon points="126.4,100.4 128.3,100.7 126.1,99.5 124.3,99.2" fill="#0eec40" stroke="#0eec40"/><polygon points="128.6,101.5 130.4,101.9 128.3,100.7 126.4,100.4" fill="#0eec40" stroke="#0eec40"/><polygon points="130.8,102.7 132.6,103.1 130.4,101.9 128.6,101.5" fill="#0eec40" stroke="#0eec40"/><polygon points="133.3,104 134.8,104.3 132.6,103.1 130.8,102.7 131.4,103" fill="#0eec40" stroke="#0eec40"/><polygon points="133,103.9 133.3,104 131.4,103" fill="#2cec1c" stroke="#2cec1c"/><polygon points="135.9,105.2 137.1,105.5 134.8,104.3 133.3,104" fill="#0eec40" stroke="#0eec40"/><polygon points="135.3,105.1 135.9,105.2 133.3,104 133,103.9" fill="#2cec1c" stroke="#2cec1c"/><polygon points="138.5,106.6 139.4,106.8 137.1,105.5 135.9,105.2" fill="#0eec40" stroke="#0eec40"/><polygon points="137.7,106.4 138.5,106.6 135.9,105.2 135.3,105.1" fill="#2cec1c" stroke="#2cec1c"/><polygon points="141.2,107.9 141.7,108.1 139.4,106.8 138.5,106.6" fill="#0eec40" stroke="#0eec40"/><polygon points="140.1,107.6 141.2,107.9 138.5,106.6 137.7,106.4" fill="#2cec1c" stroke="#2cec1c"/><polygon points="94,83.7 94.9,83.6 93.3,82.8 91.7,82.9" fill="#10eea2" stroke="#10eea2"/><polygon points="92.8,83.7 94,83.7 91.7,82.9 91.2,82.9" fill="#0eec40" stroke="#0eec40"/><polygon points="96.3,84.5 96.5,84.5 94.9,83.6 94,83.7" fill="#10eea2" stroke="#10eea2"/><polygon points="94.4,84.6 96.3,84.5 94,83.7 92.8,83.7" fill="#0eec40" stroke="#0eec40"/><polygon points="97,84.7 96.5,84.5 96.3,84.5" fill="#10eea2" stroke="#10eea2"/><polygon points="96.1,85.4 98.1,85.4 97,84.7 96.3,84.5 94.4,84.6" fill="#0eec40" stroke="#0eec40"/><polygon points="97.7,86.3 99.8,86.2 98.1,85.4 96.1,85.4" fill="#0eec40" stroke="#0eec40"/><polygon points="99.4,87.1 101.5,87.1 99.8,86.2 97.7,86.3" fill="#0eec40" stroke="#0eec40"/><polygon points="101.2,88 103.2,88.1 101.5,87.1 99.4,87.1" fill="#0eec40" stroke="#0eec40"/><polygon points="102.9,88.9 105,89 103.2,88.1 101.2,88" fill="#0eec40" stroke="#0eec40"/><polygon points="104.7,89.9 106.7,89.9 105,89 102.9,88.9" fill="#0eec40" stroke="#0eec40"/><polygon points="106.5,90.8 108.6,90.9 106.7,89.9 104.7,89.9" fill="#0eec40" stroke="#0eec40"/><polygon points="108.4,91.7 110.4,91.9 108.6,90.9 106.5,90.8" fill="#0eec40" stroke="#0eec40"/><polygon points="110.3,92.7 112.3,92.9 110.4,91.9 108.4,91.7" fill="#0eec40" stroke="#0eec40"/><polygon points="112.2,93.7 114.2,93.9 112.3,92.9 110.3,92.7" fill="#0eec40" stroke="#0eec40"/><polygon points="114.1,94.7 116.1,94.9 114.2,93.9 112.2,93.7" fill="#0eec40" stroke="#0eec40"/><polygon points="116.1,95.7 118.1,96 116.1,94.9 114.1,94.7" fill="#0eec40" stroke="#0eec40"/><polygon points="118.2,96.8 120.1,97 118.1,96 116.1,95.7" fill="#0eec40" stroke="#0eec40"/><polygon points="120.4,97.9 122.2,98.1 120.1,97 118.2,96.8 119.4,97.4" fill="#0eec40" stroke="#0eec40"/><polygon points="120.2,97.9 120.4,97.9 119.4,97.4" fill="#2cec1c" stroke="#2cec1c"/><polygon points="123,99 124.3,99.2 122.2,98.1 120.4,97.9" fill="#0eec40" stroke="#0eec40"/><polygon points="122.3,98.9 123,99 120.4,97.9 120.2,97.9" fill="#2cec1c" stroke="#2cec1c"/><polygon points="125.5,100.2 126.4,100.4 124.3,99.2 123,99" fill="#0eec40" stroke="#0eec40"/><polygon points="124.5,100.1 125.5,100.2 123,99 122.3,98.9" fill="#2cec1c" stroke="#2cec1c"/><polygon points="128.1,101.4 128.6,101.5 126.4,100.4 125.5,100.2" fill="#0eec40" stroke="#0eec40"/><polygon points="126.7,101.2 128.1,101.4 125.5,100.2 124.5,100.1" fill="#2cec1c" stroke="#2cec1c"/><polygon points="130.7,102.7 130.8,102.7 128.6,101.5 128.1,101.4" fill="#0eec40" stroke="#0eec40"/><polygon points="128.9,102.3 130.7,102.7 128.1,101.4 126.7,101.2" fill="#2cec1c" stroke="#2cec1c"/><polygon points="131.4,103 130.8,102.7 130.7,102.7" fill="#0eec40" stroke="#0eec40"/><polygon points="131.2,103.5 133,103.9 131.4,103 130.7,102.7 128.9,102.3" fill="#2cec1c" stroke="#2cec1c"/><polygon points="133.5,104.7 135.3,105.1 133,103.9 131.2,103.5" fill="#2cec1c" stroke="#2cec1c"/><polygon points="135.9,105.9 137.7,106.4 135.3,105.1 133.5,104.7" fill="#2cec1c" stroke="#2cec1c"/><polygon points="138.3,107.2 140.1,107.6 137.7,106.4 135.9,105.9" fill="#2cec1c" stroke="#2cec1c"/><polygon points="90.7,83.8 92.8,83.7 91.2,82.9 89.1,83" fill="#0eec40" stroke="#0eec40"/><polygon points="92.3,84.6 94.4,84.6 92.8,83.7 90.7,83.8" fill="#0eec40" stroke="#0eec40"/><polygon points="94,85.4 96.1,85.4 94.4,84.6 92.3,84.6" fill="#0eec40" stroke="#0eec40"/><polygon points="95.6,86.3 97.7,86.3 96.1,85.4 94,85.4" fill="#0eec40" stroke="#0eec40"/><polygon points="97.3,87.1 99.4,87.1 97.7,86.3 95.6,86.3" fill="#0eec40" stroke="#0eec40"/><polygon points="99.1,88 101.2,88 99.4,87.1 97.3,87.1" fill="#0eec40" stroke="#0eec40"/><polygon points="100.8,88.9 102.9,88.9 101.2,88 99.1,88" fill="#0eec40" stroke="#0eec40"/><polygon points="102.6,89.8 104.7,89.9 102.9,88.9 100.8,88.9" fill="#0eec40" stroke="#0eec40"/><polygon points="104.4,90.7 106.5,90.8 104.7,89.9 102.6,89.8" fill="#0eec40" stroke="#0eec40"/><polygon points="106.3,91.6 108.4,91.7 106.5,90.8 104.4,90.7" fill="#0eec40" stroke="#0eec40"/><polygon points="108.2,92.6 110.3,92.7 108.4,91.7 106.3,91.6" fill="#0eec40" stroke="#0eec40"/><polygon points="110.3,93.5 112.2,93.7 110.3,92.7 108.2,92.6 109.5,93.2" fill="#0eec40" stroke="#0eec40"/><polygon points="110.1,93.5 110.3,93.5 109.5,93.2" fill="#2cec1c" stroke="#2cec1c"/><polygon points="112.8,94.6 114.1,94.7 112.2,93.7 110.3,93.5" fill="#0eec40" stroke="#0eec40"/><polygon points="112.1,94.5 112.8,94.6 110.3,93.5 110.1,93.5" fill="#2cec1c" stroke="#2cec1c"/><polygon points="115.4,95.7 116.1,95.7 114.1,94.7 112.8,94.6" fill="#0eec40" stroke="#0eec40"/><polygon points="114.1,95.5 115.4,95.7 112.8,94.6 112.1,94.5" fill="#2cec1c" stroke="#2cec1c"/><polygon points="117.9,96.8 118.2,96.8 116.1,95.7 115.4,95.7" fill="#0eec40" stroke="#0eec40"/><polygon points="116.1,96.5 117.9,96.8 115.4,95.7 114.1,95.5" fill="#2cec1c" stroke="#2cec1c"/><polygon points="119.4,97.4 118.2,96.8 117.9,96.8" fill="#0eec40" stroke="#0eec40"/><polygon points="118.2,97.6 120.2,97.9 119.4,97.4 117.9,96.8 116.1,96.5" fill="#2cec1c" stroke="#2cec1c"/><polygon points="120.3,98.6 122.3,98.9 120.2,97.9 118.2,97.6" fill="#2cec1c" stroke="#2cec1c"/><polygon points="122.5,99.7 124.5,100.1 122.3,98.9 120.3,98.6" fill="#2cec1c" stroke="#2cec1c"/><polygon points="124.7,100.8 126.7,101.2 124.5,100.1 122.5,99.7" fill="#2cec1c" stroke="#2cec1c"/><polygon points="127,102 128.9,102.3 126.7,101.2 124.7,100.8" fill="#2cec1c" stroke="#2cec1c"/><polygon points="129.3,103.1 131.2,103.5 128.9,102.3 127,102" fill="#2cec1c" stroke="#2cec1c"/><polygon points="131.6,104.3 133.5,104.7 131.2,103.5 129.3,103.1" fill="#2cec1c" stroke="#2cec1c"/><polygon points="134,105.5 135.9,105.9 133.5,104.7 131.6,104.3" fill="#2cec1c" stroke="#2cec1c"/><polygon points="136.5,106.7 138.3,107.2 135.9,105.9 134,105.5" fill="#2cec1c" stroke="#2cec1c"/><polygon points="88.6,83.9 90.7,83.8 89.1,83 87,83.1" fill="#0eec40" stroke="#0eec40"/><polygon points="90.2,84.7 92.3,84.6 90.7,83.8 88.6,83.9" fill="#0eec40" stroke="#0eec40"/><polygon points="91.8,85.5 94,85.4 92.3,84.6 90.2,84.7" fill="#0eec40" stroke="#0eec40"/><polygon points="93.5,86.3 95.6,86.3 94,85.4 91.8,85.5" fill="#0eec40" stroke="#0eec40"/><polygon points="95.2,87.1 97.3,87.1 95.6,86.3 93.5,86.3" fill="#0eec40" stroke="#0eec40"/><polygon points="96.9,88 99.1,88 97.3,87.1 95.2,87.1" fill="#0eec40" stroke="#0eec40"/><polygon points="98.7,88.8 100.8,88.9 99.1,88 96.9,88" fill="#0eec40" stroke="#0eec40"/><polygon points="100.5,89.7 102.6,89.8 100.8,88.9 98.7,88.8" fill="#0eec40" stroke="#0eec40"/><polygon points="102.7,90.6 104.4,90.7 102.6,89.8 100.5,89.7 101.2,90.1" fill="#0eec40" stroke="#0eec40"/><polygon points="102.3,90.6 102.7,90.6 101.2,90.1" fill="#2cec1c" stroke="#2cec1c"/><polygon points="105.2,91.5 106.3,91.6 104.4,90.7 102.7,90.6" fill="#0eec40" stroke="#0eec40"/><polygon points="104.2,91.5 105.2,91.5 102.7,90.6 102.3,90.6" fill="#2cec1c" stroke="#2cec1c"/><polygon points="107.8,92.5 108.2,92.6 106.3,91.6 105.2,91.5" fill="#0eec40" stroke="#0eec40"/><polygon points="106.1,92.4 107.8,92.5 105.2,91.5 104.2,91.5" fill="#2cec1c" stroke="#2cec1c"/><polygon points="109.5,93.2 108.2,92.6 107.8,92.5" fill="#0eec40" stroke="#0eec40"/><polygon points="108,93.3 110.1,93.5 109.5,93.2 107.8,92.5 106.1,92.4" fill="#2cec1c" stroke="#2cec1c"/><polygon points="110,94.3 112.1,94.5 110.1,93.5 108,93.3" fill="#2cec1c" stroke="#2cec1c"/><polygon points="112,95.3 114.1,95.5 112.1,94.5 110,94.3" fill="#2cec1c" stroke="#2cec1c"/><polygon points="114,96.3 116.1,96.5 114.1,95.5 112,95.3" fill="#2cec1c" stroke="#2cec1c"/><polygon points="116.1,97.3 118.2,97.6 116.1,96.5 114,96.3" fill="#2cec1c" stroke="#2cec1c"/><polygon points="118.3,98.3 120.3,98.6 118.2,97.6 116.1,97.3" fill="#2cec1c" stroke="#2cec1c"/><polygon points="120.5,99.4 122.5,99.7 120.3,98.6 118.3,98.3" fill="#2cec1c" stroke="#2cec1c"/><polygon points="122.7,100.5 124.7,100.8 122.5,99.7 120.5,99.4" fill="#2cec1c" stroke="#2cec1c"/><polygon points="125,101.6 127,102 124.7,100.8 122.7,100.5" fill="#2cec1c" stroke="#2cec1c"/><polygon points="127.3,102.7 129.3,103.1 127,102 125,101.6" fill="#2cec1c" stroke="#2cec1c"/><polygon points="129.7,103.8 131.6,104.3 129.3,103.1 127.3,102.7" fill="#2cec1c" stroke="#2cec1c"/><polygon points="132.1,105 134,105.5 131.6,104.3 129.7,103.8" fill="#2cec1c" stroke="#2cec1c"/><polygon points="134.6,106.2 136.5,106.7 134,105.5 132.1,105" fill="#2cec1c" stroke="#2cec1c"/><polygon points="86.4,84 88.6,83.9 87,83.1 84.8,83.3" fill="#0eec40" stroke="#0eec40"/><polygon points="88,84.8 90.2,84.7 88.6,83.9 86.4,84" fill="#0eec40" stroke="#0eec40"/><polygon points="89.6,85.5 91.8,85.5 90.2,84.7 88,84.8" fill="#0eec40" stroke="#0eec40"/><polygon points="91.3,86.3 93.5,86.3 91.8,85.5 89.6,85.5" fill="#0eec40" stroke="#0eec40"/><polygon points="93,87.1 95.2,87.1 93.5,86.3 91.3,86.3" fill="#0eec40" stroke="#0eec40"/><polygon points="95,87.9 96.9,88 95.2,87.1 93,87.1 94.1,87.6" fill="#0eec40" stroke="#0eec40"/><polygon points="94.7,87.9 95,87.9 94.1,87.6" fill="#2cec1c" stroke="#2cec1c"/><polygon points="97.6,88.8 98.7,88.8 96.9,88 95,87.9" fill="#0eec40" stroke="#0eec40"/><polygon points="96.5,88.7 97.6,88.8 95,87.9 94.7,87.9" fill="#2cec1c" stroke="#2cec1c"/><polygon points="100.2,89.7 100.5,89.7 98.7,88.8 97.6,88.8" fill="#0eec40" stroke="#0eec40"/><polygon points="98.3,89.6 100.2,89.7 97.6,88.8 96.5,88.7" fill="#2cec1c" stroke="#2cec1c"/><polygon points="101.2,90.1 100.5,89.7 100.2,89.7" fill="#0eec40" stroke="#0eec40"/><polygon points="100.1,90.4 102.3,90.6 101.2,90.1 100.2,89.7 98.3,89.6" fill="#2cec1c" stroke="#2cec1c"/><polygon points="102,91.3 104.2,91.5 102.3,90.6 100.1,90.4" fill="#2cec1c" stroke="#2cec1c"/><polygon points="103.9,92.2 106.1,92.4 104.2,91.5 102,91.3" fill="#2cec1c" stroke="#2cec1c"/><polygon points="105.8,93.1 108,93.3 106.1,92.4 103.9,92.2" fill="#2cec1c" stroke="#2cec1c"/><polygon points="107.8,94.1 110,94.3 108,93.3 105.8,93.1" fill="#2cec1c" stroke="#2cec1c"/><polygon points="109.8,95 112,95.3 110,94.3 107.8,94.1" fill="#2cec1c" stroke="#2cec1c"/><polygon points="111.9,96 114,96.3 112,95.3 109.8,95" fill="#2cec1c" stroke="#2cec1c"/><polygon points="114,97 116.1,97.3 114,96.3 111.9,96" fill="#2cec1c" stroke="#2cec1c"/><polygon points="116.1,98 118.3,98.3 116.1,97.3 114,97" fill="#2cec1c" stroke="#2cec1c"/><polygon points="118.3,99 120.5,99.4 118.3,98.3 116.1,98" fill="#2cec1c" stroke="#2cec1c"/><polygon points="120.6,100.1 122.7,100.5 120.5,99.4 118.3,99" fill="#2cec1c" stroke="#2cec1c"/><polygon points="122.9,101.1 125,101.6 122.7,100.5 120.6,100.1" fill="#2cec1c" stroke="#2cec1c"/><polygon points="125.3,102.3 127.3,102.7 125,101.6 122.9,101.1 125,102.2" fill="#2cec1c" stroke="#2cec1c"/><polygon points="125.2,102.3 125.3,102.3 125,102.2" fill="#a4f618" stroke="#a4f618"/><polygon points="128.2,103.5 129.7,103.8 127.3,102.7 125.3,102.3" fill="#2cec1c" stroke="#2cec1c"/><polygon points="127.6,103.4 128.2,103.5 125.3,102.3 125.2,102.3" fill="#a4f618" stroke="#a4f618"/><polygon points="131.2,104.8 132.1,105 129.7,103.8 128.2,103.5" fill="#2cec1c" stroke="#2cec1c"/><polygon points="130.1,104.5 131.2,104.8 128.2,103.5 127.6,103.4" fill="#a4f618" stroke="#a4f618"/><polygon points="134.2,106.1 134.6,106.2 132.1,105 131.2,104.8" fill="#2cec1c" stroke="#2cec1c"/><polygon points="132.6,105.7 134.2,106.1 131.2,104.8 130.1,104.5" fill="#a4f618" stroke="#a4f618"/><polygon points="84.1,84.1 86.4,84 84.8,83.3 82.6,83.4" fill="#0eec40" stroke="#0eec40"/><polygon points="85.7,84.8 88,84.8 86.4,84 84.1,84.1" fill="#0eec40" stroke="#0eec40"/><polygon points="87.4,85.6 89.6,85.5 88,84.8 85.7,84.8" fill="#0eec40" stroke="#0eec40"/><polygon points="89.8,86.3 91.3,86.3 89.6,85.5 87.4,85.6 87.7,85.7" fill="#0eec40" stroke="#0eec40"/><polygon points="89,86.3 89.8,86.3 87.7,85.7" fill="#2cec1c" stroke="#2cec1c"/><polygon points="92.4,87.1 93,87.1 91.3,86.3 89.8,86.3" fill="#0eec40" stroke="#0eec40"/><polygon points="90.7,87.1 92.4,87.1 89.8,86.3 89,86.3" fill="#2cec1c" stroke="#2cec1c"/><polygon points="94.1,87.6 93,87.1 92.4,87.1" fill="#0eec40" stroke="#0eec40"/><polygon points="92.4,87.9 94.7,87.9 94.1,87.6 92.4,87.1 90.7,87.1" fill="#2cec1c" stroke="#2cec1c"/><polygon points="94.2,88.7 96.5,88.7 94.7,87.9 92.4,87.9" fill="#2cec1c" stroke="#2cec1c"/><polygon points="96,89.5 98.3,89.6 96.5,88.7 94.2,88.7" fill="#2cec1c" stroke="#2cec1c"/><polygon points="97.8,90.3 100.1,90.4 98.3,89.6 96,89.5" fill="#2cec1c" stroke="#2cec1c"/><polygon points="99.7,91.2 102,91.3 100.1,90.4 97.8,90.3" fill="#2cec1c" stroke="#2cec1c"/><polygon points="101.6,92 103.9,92.2 102,91.3 99.7,91.2" fill="#2cec1c" stroke="#2cec1c"/><polygon points="103.5,92.9 105.8,93.1 103.9,92.2 101.6,92" fill="#2cec1c" stroke="#2cec1c"/><polygon points="105.5,93.8 107.8,94.1 105.8,93.1 103.5,92.9" fill="#2cec1c" stroke="#2cec1c"/><polygon points="107.6,94.7 109.8,95 107.8,94.1 105.5,93.8" fill="#2cec1c" stroke="#2cec1c"/><polygon points="109.6,95.7 111.9,96 109.8,95 107.6,94.7" fill="#2cec1c" stroke="#2cec1c"/><polygon points="111.8,96.7 114,97 111.9,96 109.6,95.7" fill="#2cec1c" stroke="#2cec1c"/><polygon points="113.9,97.6 116.1,98 114,97 111.8,96.7" fill="#2cec1c" stroke="#2cec1c"/><polygon points="116.5,98.7 118.3,99 116.1,98 113.9,97.6 114.9,98.1" fill="#2cec1c" stroke="#2cec1c"/><polygon points="116.1,98.6 116.5,98.7 114.9,98.1" fill="#a4f618" stroke="#a4f618"/><polygon points="119.4,99.9 120.6,100.1 118.3,99 116.5,98.7" fill="#2cec1c" stroke="#2cec1c"/><polygon points="118.4,99.7 119.4,99.9 116.5,98.7 116.1,98.6" fill="#a4f618" stroke="#a4f618"/><polygon points="122.3,101 122.9,101.1 120.6,100.1 119.4,99.9" fill="#2cec1c" stroke="#2cec1c"/><polygon points="120.7,100.7 122.3,101 119.4,99.9 118.4,99.7" fill="#a4f618" stroke="#a4f618"/><polygon points="125,102.2 122.9,101.1 122.3,101" fill="#2cec1c" stroke="#2cec1c"/><polygon points="123.1,101.8 125.2,102.3 125,102.2 122.3,101 120.7,100.7" fill="#a4f618" stroke="#a4f618"/><polygon points="125.5,102.9 127.6,103.4 125.2,102.3 123.1,101.8" fill="#a4f618" stroke="#a4f618"/><polygon points="128,104 130.1,104.5 127.6,103.4 125.5,102.9" fill="#a4f618" stroke="#a4f618"/><polygon points="130.5,105.2 132.6,105.7 130.1,104.5 128,104" fill="#a4f618" stroke="#a4f618"/><polygon points="81.8,84.2 84.1,84.1 82.6,83.4 80.3,83.5" fill="#0eec40" stroke="#0eec40"/><polygon points="84.5,84.9 85.7,84.8 84.1,84.1 81.8,84.2 82,84.3" fill="#0eec40" stroke="#0eec40"/><polygon points="83.4,84.9 84.5,84.9 82,84.3" fill="#2cec1c" stroke="#2cec1c"/><polygon points="87.2,85.6 87.4,85.6 85.7,84.8 84.5,84.9" fill="#0eec40" stroke="#0eec40"/><polygon points="85,85.6 87.2,85.6 84.5,84.9 83.4,84.9" fill="#2cec1c" stroke="#2cec1c"/><polygon points="87.7,85.7 87.4,85.6 87.2,85.6" fill="#0eec40" stroke="#0eec40"/><polygon points="86.7,86.3 89,86.3 87.7,85.7 87.2,85.6 85,85.6" fill="#2cec1c" stroke="#2cec1c"/><polygon points="88.4,87.1 90.7,87.1 89,86.3 86.7,86.3" fill="#2cec1c" stroke="#2cec1c"/><polygon points="90.1,87.8 92.4,87.9 90.7,87.1 88.4,87.1" fill="#2cec1c" stroke="#2cec1c"/><polygon points="91.9,88.6 94.2,88.7 92.4,87.9 90.1,87.8" fill="#2cec1c" stroke="#2cec1c"/><polygon points="93.7,89.4 96,89.5 94.2,88.7 91.9,88.6" fill="#2cec1c" stroke="#2cec1c"/><polygon points="95.5,90.2 97.8,90.3 96,89.5 93.7,89.4" fill="#2cec1c" stroke="#2cec1c"/><polygon points="97.3,91 99.7,91.2 97.8,90.3 95.5,90.2" fill="#2cec1c" stroke="#2cec1c"/><polygon points="99.3,91.9 101.6,92 99.7,91.2 97.3,91" fill="#2cec1c" stroke="#2cec1c"/><polygon points="101.2,92.7 103.5,92.9 101.6,92 99.3,91.9" fill="#2cec1c" stroke="#2cec1c"/><polygon points="103.2,93.6 105.5,93.8 103.5,92.9 101.2,92.7" fill="#2cec1c" stroke="#2cec1c"/><polygon points="105.2,94.5 107.6,94.7 105.5,93.8 103.2,93.6" fill="#2cec1c" stroke="#2cec1c"/><polygon points="107.8,95.4 109.6,95.7 107.6,94.7 105.2,94.5 106.2,94.9" fill="#2cec1c" stroke="#2cec1c"/><polygon points="107.3,95.4 107.8,95.4 106.2,94.9" fill="#a4f618" stroke="#a4f618"/><polygon points="110.7,96.5 111.8,96.7 109.6,95.7 107.8,95.4" fill="#2cec1c" stroke="#2cec1c"/><polygon points="109.4,96.3 110.7,96.5 107.8,95.4 107.3,95.4" fill="#a4f618" stroke="#a4f618"/><polygon points="113.6,97.6 113.9,97.6 111.8,96.7 110.7,96.5" fill="#2cec1c" stroke="#2cec1c"/><polygon points="111.6,97.3 113.6,97.6 110.7,96.5 109.4,96.3" fill="#a4f618" stroke="#a4f618"/><polygon points="114.9,98.1 113.9,97.6 113.6,97.6" fill="#2cec1c" stroke="#2cec1c"/><polygon points="113.9,98.3 116.1,98.6 114.9,98.1 113.6,97.6 111.6,97.3" fill="#a4f618" stroke="#a4f618"/><polygon points="116.1,99.3 118.4,99.7 116.1,98.6 113.9,98.3" fill="#a4f618" stroke="#a4f618"/><polygon points="118.5,100.3 120.7,100.7 118.4,99.7 116.1,99.3" fill="#a4f618" stroke="#a4f618"/><polygon points="120.9,101.3 123.1,101.8 120.7,100.7 118.5,100.3" fill="#a4f618" stroke="#a4f618"/><polygon points="123.3,102.4 125.5,102.9 123.1,101.8 120.9,101.3" fill="#a4f618" stroke="#a4f618"/><polygon points="125.8,103.5 128,104 125.5,102.9 123.3,102.4" fill="#a4f618" stroke="#a4f618"/><polygon points="128.4,104.6 130.5,105.2 128,104 125.8,103.5" fill="#a4f618" stroke="#a4f618"/><polygon points="81.7,84.2 81.8,84.2 80.3,83.5 78.9,83.6" fill="#0eec40" stroke="#0eec40"/><polygon points="79.5,84.3 81.7,84.2 78.9,83.6 77.9,83.7" fill="#2cec1c" stroke="#2cec1c"/><polygon points="82,84.3 81.8,84.2 81.7,84.2" fill="#0eec40" stroke="#0eec40"/><polygon points="81.1,85 83.4,84.9 82,84.3 81.7,84.2 79.5,84.3" fill="#2cec1c" stroke="#2cec1c"/><polygon points="82.7,85.7 85,85.6 83.4,84.9 81.1,85" fill="#2cec1c" stroke="#2cec1c"/><polygon points="84.3,86.4 86.7,86.3 85,85.6 82.7,85.7" fill="#2cec1c" stroke="#2cec1c"/><polygon points="86,87.1 88.4,87.1 86.7,86.3 84.3,86.4" fill="#2cec1c" stroke="#2cec1c"/><polygon points="87.7,87.8 90.1,87.8 88.4,87.1 86,87.1" fill="#2cec1c" stroke="#2cec1c"/><polygon points="89.5,88.5 91.9,88.6 90.1,87.8 87.7,87.8" fill="#2cec1c" stroke="#2cec1c"/><polygon points="91.2,89.3 93.7,89.4 91.9,88.6 89.5,88.5" fill="#2cec1c" stroke="#2cec1c"/><polygon points="93.1,90.1 95.5,90.2 93.7,89.4 91.2,89.3" fill="#2cec1c" stroke="#2cec1c"/><polygon points="94.9,90.9 97.3,91 95.5,90.2 93.1,90.1" fill="#2cec1c" stroke="#2cec1c"/><polygon points="96.8,91.7 99.3,91.9 97.3,91 94.9,90.9" fill="#2cec1c" stroke="#2cec1c"/><polygon points="99,92.5 101.2,92.7 99.3,91.9 96.8,91.7 98.4,92.3" fill="#2cec1c" stroke="#2cec1c"/><polygon points="98.8,92.5 99,92.5 98.4,92.3" fill="#a4f618" stroke="#a4f618"/><polygon points="101.9,93.5 103.2,93.6 101.2,92.7 99,92.5" fill="#2cec1c" stroke="#2cec1c"/><polygon points="100.8,93.3 101.9,93.5 99,92.5 98.8,92.5" fill="#a4f618" stroke="#a4f618"/><polygon points="104.9,94.4 105.2,94.5 103.2,93.6 101.9,93.5" fill="#2cec1c" stroke="#2cec1c"/><polygon points="102.8,94.2 104.9,94.4 101.9,93.5 100.8,93.3" fill="#a4f618" stroke="#a4f618"/><polygon points="106.2,94.9 105.2,94.5 104.9,94.4" fill="#2cec1c" stroke="#2cec1c"/><polygon points="104.9,95.1 107.3,95.4 106.2,94.9 104.9,94.4 102.8,94.2" fill="#a4f618" stroke="#a4f618"/><polygon points="107.1,96 109.4,96.3 107.3,95.4 104.9,95.1" fill="#a4f618" stroke="#a4f618"/><polygon points="109.2,96.9 111.6,97.3 109.4,96.3 107.1,96" fill="#a4f618" stroke="#a4f618"/><polygon points="111.5,97.9 113.9,98.3 111.6,97.3 109.2,96.9" fill="#a4f618" stroke="#a4f618"/><polygon points="113.8,98.8 116.1,99.3 113.9,98.3 111.5,97.9" fill="#a4f618" stroke="#a4f618"/><polygon points="116.1,99.8 118.5,100.3 116.1,99.3 113.8,98.8" fill="#a4f618" stroke="#a4f618"/><polygon points="118.5,100.8 120.9,101.3 118.5,100.3 116.1,99.8" fill="#a4f618" stroke="#a4f618"/><polygon points="121,101.9 123.3,102.4 120.9,101.3 118.5,100.8" fill="#a4f618" stroke="#a4f618"/><polygon points="124.1,103.1 125.8,103.5 123.3,102.4 121,101.9 121.7,102.2" fill="#a4f618" stroke="#a4f618"/><polygon points="123.6,103 124.1,103.1 121.7,102.2" fill="#b59b0f" stroke="#b59b0f"/><polygon points="127.4,104.4 128.4,104.6 125.8,103.5 124.1,103.1" fill="#a4f618" stroke="#a4f618"/><polygon points="126.2,104.1 127.4,104.4 124.1,103.1 123.6,103" fill="#b59b0f" stroke="#b59b0f"/><polygon points="77.1,84.4 79.5,84.3 77.9,83.7 75.5,83.8" fill="#2cec1c" stroke="#2cec1c"/><polygon points="78.6,85.1 81.1,85 79.5,84.3 77.1,84.4" fill="#2cec1c" stroke="#2cec1c"/><polygon points="80.2,85.7 82.7,85.7 81.1,85 78.6,85.1" fill="#2cec1c" stroke="#2cec1c"/><polygon points="81.9,86.4 84.3,86.4 82.7,85.7 80.2,85.7" fill="#2cec1c" stroke="#2cec1c"/><polygon points="83.5,87.1 86,87.1 84.3,86.4 81.9,86.4" fill="#2cec1c" stroke="#2cec1c"/><polygon points="85.2,87.8 87.7,87.8 86,87.1 83.5,87.1" fill="#2cec1c" stroke="#2cec1c"/><polygon points="87,88.5 89.5,88.5 87.7,87.8 85.2,87.8" fill="#2cec1c" stroke="#2cec1c"/><polygon points="88.8,89.2 91.2,89.3 89.5,88.5 87,88.5" fill="#2cec1c" stroke="#2cec1c"/><polygon points="90.6,89.9 93.1,90.1 91.2,89.3 88.8,89.2" fill="#2cec1c" stroke="#2cec1c"/><polygon points="93.1,90.7 94.9,90.9 93.1,90.1 90.6,89.9 91.4,90.3" fill="#2cec1c" stroke="#2cec1c"/><polygon points="92.4,90.7 93.1,90.7 91.4,90.3" fill="#a4f618" stroke="#a4f618"/><polygon points="96,91.6 96.8,91.7 94.9,90.9 93.1,90.7" fill="#2cec1c" stroke="#2cec1c"/><polygon points="94.4,91.5 96,91.6 93.1,90.7 92.4,90.7" fill="#a4f618" stroke="#a4f618"/><polygon points="98.4,92.3 96.8,91.7 96,91.6" fill="#2cec1c" stroke="#2cec1c"/><polygon points="96.3,92.3 98.8,92.5 98.4,92.3 96,91.6 94.4,91.5" fill="#a4f618" stroke="#a4f618"/><polygon points="98.3,93.1 100.8,93.3 98.8,92.5 96.3,92.3" fill="#a4f618" stroke="#a4f618"/><polygon points="100.3,93.9 102.8,94.2 100.8,93.3 98.3,93.1" fill="#a4f618" stroke="#a4f618"/><polygon points="102.4,94.8 104.9,95.1 102.8,94.2 100.3,93.9" fill="#a4f618" stroke="#a4f618"/><polygon points="104.6,95.6 107.1,96 104.9,95.1 102.4,94.8" fill="#a4f618" stroke="#a4f618"/><polygon points="106.8,96.5 109.2,96.9 107.1,96 104.6,95.6" fill="#a4f618" stroke="#a4f618"/><polygon points="109,97.4 111.5,97.9 109.2,96.9 106.8,96.5" fill="#a4f618" stroke="#a4f618"/><polygon points="111.3,98.4 113.8,98.8 111.5,97.9 109,97.4" fill="#a4f618" stroke="#a4f618"/><polygon points="114.3,99.5 116.1,99.8 113.8,98.8 111.3,98.4 112.1,98.7" fill="#a4f618" stroke="#a4f618"/><polygon points="113.7,99.3 114.3,99.5 112.1,98.7" fill="#b59b0f" stroke="#b59b0f"/><polygon points="117.6,100.6 118.5,100.8 116.1,99.8 114.3,99.5" fill="#a4f618" stroke="#a4f618"/><polygon points="116.1,100.3 117.6,100.6 114.3,99.5 113.7,99.3" fill="#b59b0f" stroke="#b59b0f"/><polygon points="120.8,101.8 121,101.9 118.5,100.8 117.6,100.6" fill="#a4f618" stroke="#a4f618"/><polygon points="118.6,101.4 120.8,101.8 117.6,100.6 116.1,100.3" fill="#b59b0f" stroke="#b59b0f"/><polygon points="121.7,102.2 121,101.9 120.8,101.8" fill="#a4f618" stroke="#a4f618"/><polygon points="121.2,102.4 123.6,103 121.7,102.2 120.8,101.8 118.6,101.4" fill="#b59b0f" stroke="#b59b0f"/><polygon points="123.8,103.5 126.2,104.1 123.6,103 121.2,102.4" fill="#b59b0f" stroke="#b59b0f"/><polygon points="74.6,84.5 77.1,84.4 75.5,83.8 73.1,83.9" fill="#2cec1c" stroke="#2cec1c"/><polygon points="76.1,85.1 78.6,85.1 77.1,84.4 74.6,84.5" fill="#2cec1c" stroke="#2cec1c"/><polygon points="77.7,85.8 80.2,85.7 78.6,85.1 76.1,85.1" fill="#2cec1c" stroke="#2cec1c"/><polygon points="79.3,86.4 81.9,86.4 80.2,85.7 77.7,85.8" fill="#2cec1c" stroke="#2cec1c"/><polygon points="81,87 83.5,87.1 81.9,86.4 79.3,86.4" fill="#2cec1c" stroke="#2cec1c"/><polygon points="82.7,87.7 85.2,87.8 83.5,87.1 81,87" fill="#2cec1c" stroke="#2cec1c"/><polygon points="84.4,88.4 87,88.5 85.2,87.8 82.7,87.7" fill="#2cec1c" stroke="#2cec1c"/><polygon points="87.1,89.1 88.8,89.2 87,88.5 84.4,88.4 85,88.6" fill="#2cec1c" stroke="#2cec1c"/><polygon points="86.2,89.1 87.1,89.1 85,88.6" fill="#a4f618" stroke="#a4f618"/><polygon points="90.1,89.9 90.6,89.9 88.8,89.2 87.1,89.1" fill="#2cec1c" stroke="#2cec1c"/><polygon points="88,89.8 90.1,89.9 87.1,89.1 86.2,89.1" fill="#a4f618" stroke="#a4f618"/><polygon points="91.4,90.3 90.6,89.9 90.1,89.9" fill="#2cec1c" stroke="#2cec1c"/><polygon points="89.9,90.5 92.4,90.7 91.4,90.3 90.1,89.9 88,89.8" fill="#a4f618" stroke="#a4f618"/><polygon points="91.8,91.3 94.4,91.5 92.4,90.7 89.9,90.5" fill="#a4f618" stroke="#a4f618"/><polygon points="93.7,92 96.3,92.3 94.4,91.5 91.8,91.3" fill="#a4f618" stroke="#a4f618"/><polygon points="95.7,92.8 98.3,93.1 96.3,92.3 93.7,92" fill="#a4f618" stroke="#a4f618"/><polygon points="97.8,93.6 100.3,93.9 98.3,93.1 95.7,92.8" fill="#a4f618" stroke="#a4f618"/><polygon points="99.9,94.4 102.4,94.8 100.3,93.9 97.8,93.6" fill="#a4f618" stroke="#a4f618"/><polygon points="102,95.3 104.6,95.6 102.4,94.8 99.9,94.4" fill="#a4f618" stroke="#a4f618"/><polygon points="104.6,96.2 106.8,96.5 104.6,95.6 102,95.3 103.5,95.8" fill="#a4f618" stroke="#a4f618"/><polygon points="104.2,96.1 104.6,96.2 103.5,95.8" fill="#b59b0f" stroke="#b59b0f"/><polygon points="107.8,97.2 109,97.4 106.8,96.5 104.6,96.2" fill="#a4f618" stroke="#a4f618"/><polygon points="106.5,97 107.8,97.2 104.6,96.2 104.2,96.1" fill="#b59b0f" stroke="#b59b0f"/><polygon points="111.1,98.3 111.3,98.4 109,97.4 107.8,97.2" fill="#a4f618" stroke="#a4f618"/><polygon points="108.8,97.9 111.1,98.3 107.8,97.2 106.5,97" fill="#b59b0f" stroke="#b59b0f"/><polygon points="112.1,98.7 111.3,98.4 111.1,98.3" fill="#a4f618" stroke="#a4f618"/><polygon points="111.2,98.9 113.7,99.3 112.1,98.7 111.1,98.3 108.8,97.9" fill="#b59b0f" stroke="#b59b0f"/><polygon points="113.6,99.8 116.1,100.3 113.7,99.3 111.2,98.9" fill="#b59b0f" stroke="#b59b0f"/><polygon points="116.1,100.8 118.6,101.4 116.1,100.3 113.6,99.8" fill="#b59b0f" stroke="#b59b0f"/><polygon points="119.3,102 121.2,102.4 118.6,101.4 116.1,100.8 116.9,101.1" fill="#b59b0f" stroke="#b59b0f"/><polygon points="118.7,101.8 119.3,102 116.9,101.1" fill="#b0540c" stroke="#b0540c"/><polygon points="122.8,103.2 123.8,103.5 121.2,102.4 119.3,102" fill="#b59b0f" stroke="#b59b0f"/><polygon points="121.4,102.8 122.8,103.2 119.3,102 118.7,101.8" fill="#b0540c" stroke="#b0540c"/><polygon points="72,84.6 74.6,84.5 73.1,83.9 70.5,84.1" fill="#2cec1c" stroke="#2cec1c"/><polygon points="73.6,85.2 76.1,85.1 74.6,84.5 72,84.6" fill="#2cec1c" stroke="#2cec1c"/><polygon points="75.1,85.8 77.7,85.8 76.1,85.1 73.6,85.2" fill="#2cec1c" stroke="#2cec1c"/><polygon points="76.7,86.4 79.3,86.4 77.7,85.8 75.1,85.8" fill="#2cec1c" stroke="#2cec1c"/><polygon points="78.4,87 81,87 79.3,86.4 76.7,86.4" fill="#2cec1c" stroke="#2cec1c"/><polygon points="80.9,87.7 82.7,87.7 81,87 78.4,87 79.1,87.3" fill="#2cec1c" stroke="#2cec1c"/><polygon points="80.1,87.7 80.9,87.7 79.1,87.3" fill="#a4f618" stroke="#a4f618"/><polygon points="84,88.4 84.4,88.4 82.7,87.7 80.9,87.7" fill="#2cec1c" stroke="#2cec1c"/><polygon points="81.8,88.3 84,88.4 80.9,87.7 80.1,87.7" fill="#a4f618" stroke="#a4f618"/><polygon points="85,88.6 84.4,88.4 84,88.4" fill="#2cec1c" stroke="#2cec1c"/><polygon points="83.6,89 86.2,89.1 85,88.6 84,88.4 81.8,88.3" fill="#a4f618" stroke="#a4f618"/><polygon points="85.4,89.6 88,89.8 86.2,89.1 83.6,89" fill="#a4f618" stroke="#a4f618"/><polygon points="87.2,90.3 89.9,90.5 88,89.8 85.4,89.6" fill="#a4f618" stroke="#a4f618"/><polygon points="89.1,91.1 91.8,91.3 89.9,90.5 87.2,90.3" fill="#a4f618" stroke="#a4f618"/><polygon points="91.1,91.8 93.7,92 91.8,91.3 89.1,91.1" fill="#a4f618" stroke="#a4f618"/><polygon points="93.1,92.5 95.7,92.8 93.7,92 91.1,91.8" fill="#a4f618" stroke="#a4f618"/><polygon points="95.1,93.3 97.8,93.6 95.7,92.8 93.1,92.5" fill="#a4f618" stroke="#a4f618"/><polygon points="98,94.2 99.9,94.4 97.8,93.6 95.1,93.3 95.7,93.5" fill="#a4f618" stroke="#a4f618"/><polygon points="97.2,94.1 98,94.2 95.7,93.5" fill="#b59b0f" stroke="#b59b0f"/><polygon points="101.3,95.2 102,95.3 99.9,94.4 98,94.2" fill="#a4f618" stroke="#a4f618"/><polygon points="99.3,94.9 101.3,95.2 98,94.2 97.2,94.1" fill="#b59b0f" stroke="#b59b0f"/><polygon points="103.5,95.8 102,95.3 101.3,95.2" fill="#a4f618" stroke="#a4f618"/><polygon points="101.6,95.7 104.2,96.1 103.5,95.8 101.3,95.2 99.3,94.9" fill="#b59b0f" stroke="#b59b0f"/><polygon points="103.8,96.6 106.5,97 104.2,96.1 101.6,95.7" fill="#b59b0f" stroke="#b59b0f"/><polygon points="106.1,97.4 108.8,97.9 106.5,97 103.8,96.6" fill="#b59b0f" stroke="#b59b0f"/><polygon points="108.9,98.4 111.2,98.9 108.8,97.9 106.1,97.4 107.7,98" fill="#b59b0f" stroke="#b59b0f"/><polygon points="108.5,98.3 108.9,98.4 107.7,98" fill="#b0540c" stroke="#b0540c"/><polygon points="112.4,99.5 113.6,99.8 111.2,98.9 108.9,98.4" fill="#b59b0f" stroke="#b59b0f"/><polygon points="111,99.3 112.4,99.5 108.9,98.4 108.5,98.3" fill="#b0540c" stroke="#b0540c"/><polygon points="115.9,100.7 116.1,100.8 113.6,99.8 112.4,99.5" fill="#b59b0f" stroke="#b59b0f"/><polygon points="113.5,100.2 115.9,100.7 112.4,99.5 111,99.3" fill="#b0540c" stroke="#b0540c"/><polygon points="116.9,101.1 116.1,100.8 115.9,100.7" fill="#b59b0f" stroke="#b59b0f"/><polygon points="116.1,101.2 118.7,101.8 116.9,101.1 115.9,100.7 113.5,100.2" fill="#b0540c" stroke="#b0540c"/><polygon points="119.6,102.4 121.4,102.8 118.7,101.8 116.1,101.2 116.6,101.4" fill="#b0540c" stroke="#b0540c"/><polygon points="118.8,102.2 119.6,102.4 116.6,101.4" fill="#ab070c" stroke="#ab070c"/><polygon points="69.4,84.8 72,84.6 70.5,84.1 67.9,84.2" fill="#2cec1c" stroke="#2cec1c"/><polygon points="70.9,85.3 73.6,85.2 72,84.6 69.4,84.8" fill="#2cec1c" stroke="#2cec1c"/><polygon points="72.5,85.9 75.1,85.8 73.6,85.2 70.9,85.3" fill="#2cec1c" stroke="#2cec1c"/><polygon points="74.5,86.4 76.7,86.4 75.1,85.8 72.5,85.9 73.6,86.3" fill="#2cec1c" stroke="#2cec1c"/><polygon points="74.1,86.4 74.5,86.4 73.6,86.3" fill="#a4f618" stroke="#a4f618"/><polygon points="77.8,87 78.4,87 76.7,86.4 74.5,86.4" fill="#2cec1c" stroke="#2cec1c"/><polygon points="75.7,87 77.8,87 74.5,86.4 74.1,86.4" fill="#a4f618" stroke="#a4f618"/><polygon points="79.1,87.3 78.4,87 77.8,87" fill="#2cec1c" stroke="#2cec1c"/><polygon points="77.4,87.6 80.1,87.7 79.1,87.3 77.8,87 75.7,87" fill="#a4f618" stroke="#a4f618"/><polygon points="79.1,88.2 81.8,88.3 80.1,87.7 77.4,87.6" fill="#a4f618" stroke="#a4f618"/><polygon points="80.8,88.9 83.6,89 81.8,88.3 79.1,88.2" fill="#a4f618" stroke="#a4f618"/><polygon points="82.6,89.5 85.4,89.6 83.6,89 80.8,88.9" fill="#a4f618" stroke="#a4f618"/><polygon points="84.5,90.2 87.2,90.3 85.4,89.6 82.6,89.5" fill="#a4f618" stroke="#a4f618"/><polygon points="86.4,90.8 89.1,91.1 87.2,90.3 84.5,90.2" fill="#a4f618" stroke="#a4f618"/><polygon points="88.3,91.5 91.1,91.8 89.1,91.1 86.4,90.8" fill="#a4f618" stroke="#a4f618"/><polygon points="91.4,92.4 93.1,92.5 91.1,91.8 88.3,91.5 88.6,91.6" fill="#a4f618" stroke="#a4f618"/><polygon points="90.3,92.2 91.4,92.4 88.6,91.6" fill="#b59b0f" stroke="#b59b0f"/><polygon points="94.7,93.3 95.1,93.3 93.1,92.5 91.4,92.4" fill="#a4f618" stroke="#a4f618"/><polygon points="92.3,93 94.7,93.3 91.4,92.4 90.3,92.2" fill="#b59b0f" stroke="#b59b0f"/><polygon points="95.7,93.5 95.1,93.3 94.7,93.3" fill="#a4f618" stroke="#a4f618"/><polygon points="94.4,93.7 97.2,94.1 95.7,93.5 94.7,93.3 92.3,93" fill="#b59b0f" stroke="#b59b0f"/><polygon points="96.6,94.5 99.3,94.9 97.2,94.1 94.4,93.7" fill="#b59b0f" stroke="#b59b0f"/><polygon points="98.8,95.3 101.6,95.7 99.3,94.9 96.6,94.5" fill="#b59b0f" stroke="#b59b0f"/><polygon points="102,96.3 103.8,96.6 101.6,95.7 98.8,95.3 99.3,95.5" fill="#b59b0f" stroke="#b59b0f"/><polygon points="101.1,96.1 102,96.3 99.3,95.5" fill="#b0540c" stroke="#b0540c"/><polygon points="105.5,97.3 106.1,97.4 103.8,96.6 102,96.3" fill="#b59b0f" stroke="#b59b0f"/><polygon points="103.4,96.9 105.5,97.3 102,96.3 101.1,96.1" fill="#b0540c" stroke="#b0540c"/><polygon points="107.7,98 106.1,97.4 105.5,97.3" fill="#b59b0f" stroke="#b59b0f"/><polygon points="105.8,97.8 108.5,98.3 107.7,98 105.5,97.3 103.4,96.9" fill="#b0540c" stroke="#b0540c"/><polygon points="108.7,98.8 111,99.3 108.5,98.3 105.8,97.8 107.3,98.3" fill="#b0540c" stroke="#b0540c"/><polygon points="108.3,98.7 108.7,98.8 107.3,98.3" fill="#ab070c" stroke="#ab070c"/><polygon points="112.3,99.9 113.5,100.2 111,99.3 108.7,98.8" fill="#b0540c" stroke="#b0540c"/><polygon points="110.8,99.6 112.3,99.9 108.7,98.8 108.3,98.7" fill="#ab070c" stroke="#ab070c"/><polygon points="116,101.1 116.1,101.2 113.5,100.2 112.3,99.9" fill="#b0540c" stroke="#b0540c"/><polygon points="113.4,100.5 116,101.1 112.3,99.9 110.8,99.6" fill="#ab070c" stroke="#ab070c"/><polygon points="116.6,101.4 116.1,101.2 116,101.1" fill="#b0540c" stroke="#b0540c"/><polygon points="116.1,101.5 118.8,102.2 116.6,101.4 116,101.1 113.4,100.5" fill="#ab070c" stroke="#ab070c"/></g>
<g fill="#222" stroke="#222" stroke-width="0.28" font-size="10" dominant-baseline="central"><text transform="matrix(0.505 -0.331 0.122 0.432 63.6 112.5)" text-anchor="end">3500</text><text transform="matrix(0.505 0.331 -0.122 0.432 168.7 112.5)" text-anchor="start">3500</text><text transform="matrix(0.586 -0.354 0.152 0.532 58.9 98.4)" text-anchor="end">4000</text><text transform="matrix(0.586 0.354 -0.152 0.532 173.4 98.4)" text-anchor="start">4000</text><text transform="matrix(0.685 -0.374 0.191 0.662 53.4 81.8)" text-anchor="end">4500</text><text transform="matrix(0.685 0.374 -0.191 0.662 178.9 81.8)" text-anchor="start">4500</text><text transform="matrix(0.806 -0.386 0.244 0.833 46.8 62.1)" text-anchor="end">5000</text><text transform="matrix(0.806 0.386 -0.244 0.833 185.4 62.1)" text-anchor="start">5000</text><text transform="matrix(0.208 0.492 -0.707 0.407 33.3 103.5)" text-anchor="middle">TPC</text><text transform="matrix(0.208 -0.492 0.707 0.407 199 103.5)" text-anchor="middle">TPC</text><text transform="matrix(0.752 -0.333 0.125 0.480 50.9 48.1)" text-anchor="middle">-1.0</text><text transform="matrix(0.752 0.333 -0.125 0.480 181.4 48.1)" text-anchor="middle">-1.0</text><text transform="matrix(0.685 -0.305 0.091 0.470 66.2 41.7)" text-anchor="middle">-0.5</text><text transform="matrix(0.685 0.305 -0.091 0.470 166.1 41.7)" text-anchor="middle">-0.5</text><text transform="matrix(0.624 -0.278 0.061 0.459 81 35.5)" text-anchor="middle">0.0</text><text transform="matrix(0.624 0.278 -0.061 0.459 151.3 35.5)" text-anchor="middle">0.0</text><text transform="matrix(0.573 -0.254 0.036 0.451 94.4 28.8)" text-anchor="middle">0.5</text><text transform="matrix(0.573 0.254 -0.036 0.451 137.9 28.8)" text-anchor="middle">0.5</text><text transform="matrix(0.528 -0.233 0.015 0.443 106.5 22.9)" text-anchor="middle">1.0</text><text transform="matrix(0.528 0.233 -0.015 0.443 125.8 22.9)" text-anchor="middle">1.0</text><text transform="matrix(0.617 -0.259 0.073 0.467 74.3 30.1)" text-anchor="middle">Time</text><text transform="matrix(0.624 0.262 -0.073 0.472 158 30.1)" text-anchor="middle">s:l ratio</text><text transform="matrix(0.362 0.362 -0.531 0.362 63.8 120.6)" text-anchor="middle">1.0</text><text transform="matrix(0.391 0.390 -0.538 0.390 72.3 129.3)" text-anchor="middle">0.5</text><text transform="matrix(0.424 0.425 -0.544 0.425 82 139.3)" text-anchor="middle">0.0</text><text transform="matrix(0.464 0.465 -0.548 0.465 93.2 150.5)" text-anchor="middle">-0.5</text><text transform="matrix(0.506 0.505 -0.550 0.505 104.8 161.4)" text-anchor="middle">-1.0</text><text transform="matrix(0.359 -0.356 0.527 0.356 168.6 118.8)" text-anchor="middle">1.0</text><text transform="matrix(0.390 -0.390 0.538 0.390 160 129.3)" text-anchor="middle">0.5</text><text transform="matrix(0.425 -0.425 0.543 0.425 149.8 139.4)" text-anchor="middle">0.0</text><text transform="matrix(0.464 -0.466 0.549 0.466 139.3 150.8)" text-anchor="middle">-0.5</text><text transform="matrix(0.507 -0.508 0.552 0.508 127.9 162)" text-anchor="middle">-1.0</text><text transform="matrix(0.434 0.469 -0.600 0.469 71.8 147.3)" text-anchor="middle">s:l ratio</text><text transform="matrix(0.437 -0.467 0.595 0.467 158.7 146.7)" text-anchor="middle">Time</text></g>
</g>
<text x="243" y="15.1" font-size="11.4" font-weight="bold" fill="#111">B</text>
<g transform="translate(473.2 -0.6)">
<g fill="none" stroke="#efefef" stroke-width="0.6"><path d="M120.7 153.9L70.8 108.3"/><path d="M111.6 153.9L161.5 108.3"/><path d="M70.8 108.3L57.5 52.2"/><path d="M161.5 108.3L174.8 52.2"/><path d="M132.6 142.7L82.5 100.6"/><path d="M99.7 142.7L149.8 100.6"/><path d="M82.5 100.6L73 45"/><path d="M149.8 100.6L159.2 45"/><path d="M143.5 132.4L93.3 93.5"/><path d="M88.8 132.4L139 93.5"/><path d="M93.3 93.5L87.2 38.4"/><path d="M139 93.5L145.1 38.4"/><path d="M153.5 122.9L103.4 86.8"/><path d="M78.8 122.9L128.8 86.8"/><path d="M103.4 86.8L100.2 32.4"/><path d="M128.8 86.8L132.1 32.4"/><path d="M162.7 114.1L112.9 80.6"/><path d="M69.5 114.1L119.4 80.6"/><path d="M112.9 80.6L112.1 26.9"/><path d="M119.4 80.6L120.2 26.9"/><path d="M66.4 111.2L116.1 78.5"/><path d="M116.1 78.5L165.9 111.2"/><path d="M64.8 105.2L116.1 72.5"/><path d="M116.1 72.5L167.5 105.2"/><path d="M63.1 98.8L116.1 66.3"/><path d="M116.1 66.3L169.2 98.8"/><path d="M61.3 92L116.1 59.6"/><path d="M116.1 59.6L171 92"/><path d="M59.4 84.7L116.1 52.6"/><path d="M116.1 52.6L172.9 84.7"/><path d="M57.3 76.8L116.1 45.2"/><path d="M116.1 45.2L175 76.8"/><path d="M55.1 68.4L116.1 37.3"/><path d="M116.1 37.3L177.2 68.4"/><path d="M52.6 59.3L116.1 28.9"/><path d="M116.1 28.9L179.6 59.3"/></g><g fill="none" stroke="#e5e5e5" stroke-width="0.7"><path d="M66.4 111.2L116.1 158.2"/><path d="M116.1 158.2L165.9 111.2"/><path d="M165.9 111.2L116.1 78.5"/><path d="M116.1 78.5L66.4 111.2"/><path d="M66.4 111.2L51.5 55"/><path d="M165.9 111.2L180.8 55"/><path d="M116.1 78.5L116.1 25"/><path d="M51.5 55L116.1 25"/><path d="M116.1 25L180.8 55"/></g>
<g stroke-width="0.3" stroke-linejoin="round"><polygon points="76.2,101.7 73.3,108.1 80.4,111.4 78.8,107.3" fill="#1266ec" stroke="#1266ec"/><polygon points="79.9,94 76.2,101.7 78.7,107.3 80.4,111.4 89.9,115.7 88.2,111.3 85.5,105.1 82.7,99.3" fill="#14dcf6" stroke="#14dcf6"/><polygon points="84.9,84 79.9,94.1 82.7,99.4 85.4,105.1 88.1,111.3 89.8,115.7 103.7,122 102.4,118.3 100.5,113.3 98.5,108.7 95.4,102.2 93.4,98.1 90.2,92.5 87,87.3" fill="#10eea2" stroke="#10eea2"/><polygon points="92.5,69.7 88.4,77.3 84.9,84.1 87,87.3 90.2,92.5 93.3,98.2 95.4,102.2 98.4,108.7 100.4,113.4 102.4,118.4 103.7,122 116.1,127.7 122.6,118.3 121.4,115.4 119.1,109.9 117.8,107.3 115.4,102.4 112.9,97.8 109.1,91.5 105.3,85.8 101.4,80.5 97.6,75.7" fill="#0eec40" stroke="#0eec40"/><polygon points="101.4,54.1 97.4,60.9 92.4,69.8 97.5,75.7 102.6,82.3 106.5,87.7 110.3,93.6 112.8,97.9 116.6,104.8 119,109.9 122.6,118.3 130.4,107.3 135.1,101 140,94.5 136.8,89.8 133.5,85.5 128.6,79.5 123.6,74.2 118.7,69.3 113.9,64.7 107.6,59.2" fill="#2cec1c" stroke="#2cec1c"/><polygon points="109.5,41.1 104.8,48.5 101.4,54.2 107.5,59.2 113.8,64.8 118.7,69.3 123.6,74.2 128.5,79.6 133.4,85.5 136.7,89.9 140,94.5 144.3,89 148.8,83.4 153.2,78.1 157.9,72.7 153.5,69.3 149.1,66.1 144.8,63 138.4,58.8 132.2,54.8 124.3,49.9" fill="#a4f618" stroke="#a4f618"/><polygon points="115.8,31.6 112.3,36.7 109.5,41.1 124.3,49.9 132.2,54.9 138.4,58.8 144.7,63.1 149,66.1 153.4,69.3 157.9,72.8 163.8,66.2 169.8,60 122.8,34.7" fill="#fcd816" stroke="#fcd816"/><polygon points="115.8,31.7 122.7,34.8 122.8,34.7 116.1,31.1" fill="#f57612" stroke="#f57612"/></g>
<g fill="#222" stroke="#222" stroke-width="0.28" font-size="10" dominant-baseline="central"><text transform="matrix(0.502 -0.330 0.121 0.429 63.7 112.9)" text-anchor="end">2800</text><text transform="matrix(0.502 0.330 -0.121 0.429 168.5 112.9)" text-anchor="start">2800</text><text transform="matrix(0.536 -0.341 0.133 0.469 61.8 107.1)" text-anchor="end">3000</text><text transform="matrix(0.536 0.341 -0.133 0.469 170.5 107.1)" text-anchor="start">3000</text><text transform="matrix(0.572 -0.351 0.146 0.514 59.7 100.9)" text-anchor="end">3200</text><text transform="matrix(0.572 0.351 -0.146 0.514 172.5 100.9)" text-anchor="start">3200</text><text transform="matrix(0.611 -0.360 0.161 0.563 57.5 94.2)" text-anchor="end">3400</text><text transform="matrix(0.611 0.360 -0.161 0.563 174.8 94.2)" text-anchor="start">3400</text><text transform="matrix(0.653 -0.369 0.178 0.619 55.1 87.1)" text-anchor="end">3600</text><text transform="matrix(0.653 0.369 -0.178 0.619 177.1 87.1)" text-anchor="start">3600</text><text transform="matrix(0.700 -0.376 0.197 0.682 52.6 79.4)" text-anchor="end">3800</text><text transform="matrix(0.700 0.376 -0.197 0.682 179.7 79.4)" text-anchor="start">3800</text><text transform="matrix(0.750 -0.382 0.219 0.753 49.8 71.1)" text-anchor="end">4000</text><text transform="matrix(0.750 0.382 -0.219 0.753 182.4 71.1)" text-anchor="start">4000</text><text transform="matrix(0.806 -0.386 0.244 0.833 46.8 62.1)" text-anchor="end">4200</text><text transform="matrix(0.806 0.386 -0.244 0.833 185.4 62.1)" text-anchor="start">4200</text><text transform="matrix(0.208 0.492 -0.707 0.407 33.3 103.5)" text-anchor="middle">TPC</text><text transform="matrix(0.208 -0.492 0.707 0.407 199 103.5)" text-anchor="middle">TPC</text><text transform="matrix(0.752 -0.333 0.125 0.480 50.9 48.1)" text-anchor="middle">-1.0</text><text transform="matrix(0.752 0.333 -0.125 0.480 181.4 48.1)" text-anchor="middle">-1.0</text><text transform="matrix(0.685 -0.305 0.091 0.470 66.2 41.7)" text-anchor="middle">-0.5</text><text transform="matrix(0.685 0.305 -0.091 0.470 166.1 41.7)" text-anchor="middle">-0.5</text><text transform="matrix(0.624 -0.278 0.061 0.459 81 35.5)" text-anchor="middle">0.0</text><text transform="matrix(0.624 0.278 -0.061 0.459 151.3 35.5)" text-anchor="middle">0.0</text><text transform="matrix(0.573 -0.254 0.036 0.451 94.4 28.8)" text-anchor="middle">0.5</text><text transform="matrix(0.573 0.254 -0.036 0.451 137.9 28.8)" text-anchor="middle">0.5</text><text transform="matrix(0.528 -0.233 0.015 0.443 106.5 22.9)" text-anchor="middle">1.0</text><text transform="matrix(0.528 0.233 -0.015 0.443 125.8 22.9)" text-anchor="middle">1.0</text><text transform="matrix(0.617 -0.259 0.073 0.467 74.3 30.1)" text-anchor="middle">Time</text><text transform="matrix(0.624 0.262 -0.073 0.472 158 30.1)" text-anchor="middle">s:l ratio</text><text transform="matrix(0.362 0.362 -0.531 0.362 63.8 120.6)" text-anchor="middle">1.0</text><text transform="matrix(0.391 0.390 -0.538 0.390 72.3 129.3)" text-anchor="middle">0.5</text><text transform="matrix(0.424 0.425 -0.544 0.425 82 139.3)" text-anchor="middle">0.0</text><text transform="matrix(0.464 0.465 -0.548 0.465 93.2 150.5)" text-anchor="middle">-0.5</text><text transform="matrix(0.506 0.505 -0.550 0.505 104.8 161.4)" text-anchor="middle">-1.0</text><text transform="matrix(0.359 -0.356 0.527 0.356 168.6 118.8)" text-anchor="middle">1.0</text><text transform="matrix(0.390 -0.390 0.538 0.390 160 129.3)" text-anchor="middle">0.5</text><text transform="matrix(0.425 -0.425 0.543 0.425 149.8 139.4)" text-anchor="middle">0.0</text><text transform="matrix(0.464 -0.466 0.549 0.466 139.3 150.8)" text-anchor="middle">-0.5</text><text transform="matrix(0.507 -0.508 0.552 0.508 127.9 162)" text-anchor="middle">-1.0</text><text transform="matrix(0.434 0.469 -0.600 0.469 71.8 147.3)" text-anchor="middle">s:l ratio</text><text transform="matrix(0.437 -0.467 0.595 0.467 158.7 146.7)" text-anchor="middle">Time</text></g>
</g>
<text x="483.9" y="15.1" font-size="11.4" font-weight="bold" fill="#111">C</text>
<g transform="translate(-0.8 177.3)">
<g fill="none" stroke="#efefef" stroke-width="0.6"><path d="M120.7 153.9L70.8 108.3"/><path d="M111.6 153.9L161.5 108.3"/><path d="M70.8 108.3L57.5 52.2"/><path d="M161.5 108.3L174.8 52.2"/><path d="M132.6 142.7L82.5 100.6"/><path d="M99.7 142.7L149.8 100.6"/><path d="M82.5 100.6L73 45"/><path d="M149.8 100.6L159.2 45"/><path d="M143.5 132.4L93.3 93.5"/><path d="M88.8 132.4L139 93.5"/><path d="M93.3 93.5L87.2 38.4"/><path d="M139 93.5L145.1 38.4"/><path d="M153.5 122.9L103.4 86.8"/><path d="M78.8 122.9L128.8 86.8"/><path d="M103.4 86.8L100.2 32.4"/><path d="M128.8 86.8L132.1 32.4"/><path d="M162.7 114.1L112.9 80.6"/><path d="M69.5 114.1L119.4 80.6"/><path d="M112.9 80.6L112.1 26.9"/><path d="M119.4 80.6L120.2 26.9"/><path d="M65.6 108.3L116.1 75.6"/><path d="M116.1 75.6L166.6 108.3"/><path d="M63.5 100.5L116.1 67.9"/><path d="M116.1 67.9L168.7 100.5"/><path d="M61.3 92L116.1 59.6"/><path d="M116.1 59.6L171 92"/><path d="M58.8 82.7L116.1 50.8"/><path d="M116.1 50.8L173.4 82.7"/><path d="M56.2 72.6L116.1 41.2"/><path d="M116.1 41.2L176.1 72.6"/><path d="M53.2 61.4L116.1 30.9"/><path d="M116.1 30.9L179.1 61.4"/></g><g fill="none" stroke="#e5e5e5" stroke-width="0.7"><path d="M66.4 111.2L116.1 158.2"/><path d="M116.1 158.2L165.9 111.2"/><path d="M165.9 111.2L116.1 78.5"/><path d="M116.1 78.5L66.4 111.2"/><path d="M66.4 111.2L51.5 55"/><path d="M165.9 111.2L180.8 55"/><path d="M116.1 78.5L116.1 25"/><path d="M51.5 55L116.1 25"/><path d="M116.1 25L180.8 55"/></g>
<g stroke-width="0.3" stroke-linejoin="round"><polygon points="73.9,107.8 73.4,108.6 116.2,149.6 119.4,144 106.8,133.7 93.8,123.2 82.4,114.3" fill="#1266ec" stroke="#1266ec"/><polygon points="80.8,97.7 73.8,107.8 82.4,114.4 93.2,122.8 104.8,132.1 119.4,144 125.1,134.3" fill="#14dcf6" stroke="#14dcf6"/><polygon points="87.8,87.6 80.8,97.7 125.1,134.4 130.9,124.5 116.5,112.5 105.5,103.1 95.4,94.4" fill="#10eea2" stroke="#10eea2"/><polygon points="94.8,77.5 87.8,87.6 97,95.8 107.2,104.6 120.4,115.8 130.9,124.5 136.8,114.5 122.5,102.5 111.7,93 102,84.3" fill="#0eec40" stroke="#0eec40"/><polygon points="101.7,67.4 94.7,77.5 103.5,85.8 113.4,94.6 124.4,104.2 136.8,114.5 142.8,104.3 128.6,92.3 118,82.9 113.1,78.5 108.6,74.2" fill="#2cec1c" stroke="#2cec1c"/><polygon points="108.7,57.3 101.7,67.4 105.7,71.5 110,75.7 114.6,80 119.6,84.5 130.5,94 142.8,104.3 148.9,93.9 136.7,83.7 131.1,78.9 125.6,74 121.1,69.8 116.6,65.5 112.5,61.3" fill="#a4f618" stroke="#a4f618"/><polygon points="115.7,47.2 108.7,57.3 112.4,61.3 116.6,65.5 121.1,69.8 125.6,74 131.1,78.9 136.6,83.7 142.6,88.7 148.9,93.9 155.2,83.3 148.8,78.1 142.9,73.2 137.4,68.5 132.3,63.9 127.5,59.6 123.2,55.3 119.2,51.2" fill="#fcd816" stroke="#fcd816"/><polygon points="118,50 121.8,54 124.6,56.7 129,61 133.3,64.9 137.4,68.5 142.9,73.3 148.8,78.2 155.2,83.3 161.6,72.4 153.1,65.8 147.2,60.9 140.6,55.2 135.2,50.3 116.1,46.4 115.6,47.2" fill="#f57612" stroke="#f57612"/><polygon points="137.1,52.1 142,56.5 147.3,61.1 155.1,67.5 161.5,72.5 170.4,57.6 135.2,50.4" fill="#ee0a12" stroke="#ee0a12"/></g>
<g fill="#222" stroke="#222" stroke-width="0.28" font-size="10" dominant-baseline="central"><text transform="matrix(0.518 -0.335 0.126 0.448 62.8 110.1)" text-anchor="end">1500</text><text transform="matrix(0.518 0.335 -0.126 0.448 169.5 110.1)" text-anchor="start">1500</text><text transform="matrix(0.562 -0.348 0.143 0.502 60.3 102.5)" text-anchor="end">2000</text><text transform="matrix(0.562 0.348 -0.143 0.502 172 102.5)" text-anchor="start">2000</text><text transform="matrix(0.611 -0.360 0.161 0.563 57.5 94.2)" text-anchor="end">2500</text><text transform="matrix(0.611 0.360 -0.161 0.563 174.8 94.2)" text-anchor="start">2500</text><text transform="matrix(0.665 -0.371 0.183 0.635 54.5 85.1)" text-anchor="end">3000</text><text transform="matrix(0.665 0.371 -0.183 0.635 177.8 85.1)" text-anchor="start">3000</text><text transform="matrix(0.725 -0.379 0.208 0.718 51.2 75.2)" text-anchor="end">3500</text><text transform="matrix(0.725 0.379 -0.208 0.718 181.1 75.2)" text-anchor="start">3500</text><text transform="matrix(0.793 -0.385 0.238 0.814 47.5 64.2)" text-anchor="end">4000</text><text transform="matrix(0.793 0.385 -0.238 0.814 184.7 64.2)" text-anchor="start">4000</text><text transform="matrix(0.206 0.489 -0.703 0.406 33.9 103.9)" text-anchor="middle">CLEU</text><text transform="matrix(0.206 -0.489 0.703 0.406 198.4 103.9)" text-anchor="middle">CLEU</text><text transform="matrix(0.752 -0.333 0.125 0.480 50.9 48.1)" text-anchor="middle">-1.0</text><text transform="matrix(0.752 0.333 -0.125 0.480 181.4 48.1)" text-anchor="middle">-1.0</text><text transform="matrix(0.685 -0.305 0.091 0.470 66.2 41.7)" text-anchor="middle">-0.5</text><text transform="matrix(0.685 0.305 -0.091 0.470 166.1 41.7)" text-anchor="middle">-0.5</text><text transform="matrix(0.624 -0.278 0.061 0.459 81 35.5)" text-anchor="middle">0.0</text><text transform="matrix(0.624 0.278 -0.061 0.459 151.3 35.5)" text-anchor="middle">0.0</text><text transform="matrix(0.573 -0.254 0.036 0.451 94.4 28.8)" text-anchor="middle">0.5</text><text transform="matrix(0.573 0.254 -0.036 0.451 137.9 28.8)" text-anchor="middle">0.5</text><text transform="matrix(0.528 -0.233 0.015 0.443 106.5 22.9)" text-anchor="middle">1.0</text><text transform="matrix(0.528 0.233 -0.015 0.443 125.8 22.9)" text-anchor="middle">1.0</text><text transform="matrix(0.617 -0.259 0.073 0.467 74.3 30.1)" text-anchor="middle">Time</text><text transform="matrix(0.624 0.262 -0.073 0.472 158 30.1)" text-anchor="middle">s:l ratio</text><text transform="matrix(0.362 0.362 -0.531 0.362 63.8 120.6)" text-anchor="middle">1.0</text><text transform="matrix(0.391 0.390 -0.538 0.390 72.3 129.3)" text-anchor="middle">0.5</text><text transform="matrix(0.424 0.425 -0.544 0.425 82 139.3)" text-anchor="middle">0.0</text><text transform="matrix(0.464 0.465 -0.548 0.465 93.2 150.5)" text-anchor="middle">-0.5</text><text transform="matrix(0.506 0.505 -0.550 0.505 104.8 161.4)" text-anchor="middle">-1.0</text><text transform="matrix(0.359 -0.356 0.527 0.356 168.6 118.8)" text-anchor="middle">1.0</text><text transform="matrix(0.390 -0.390 0.538 0.390 160 129.3)" text-anchor="middle">0.5</text><text transform="matrix(0.425 -0.425 0.543 0.425 149.8 139.4)" text-anchor="middle">0.0</text><text transform="matrix(0.464 -0.466 0.549 0.466 139.3 150.8)" text-anchor="middle">-0.5</text><text transform="matrix(0.507 -0.508 0.552 0.508 127.9 162)" text-anchor="middle">-1.0</text><text transform="matrix(0.434 0.469 -0.600 0.469 71.8 147.3)" text-anchor="middle">s:l ratio</text><text transform="matrix(0.437 -0.467 0.595 0.467 158.7 146.7)" text-anchor="middle">Time</text></g>
</g>
<text x="7.7" y="183.6" font-size="11.4" font-weight="bold" fill="#111">D</text>
<g transform="translate(236.2 177.3)">
<g fill="none" stroke="#efefef" stroke-width="0.6"><path d="M120.7 153.9L70.8 108.3"/><path d="M111.6 153.9L161.5 108.3"/><path d="M70.8 108.3L57.5 52.2"/><path d="M161.5 108.3L174.8 52.2"/><path d="M132.6 142.7L82.5 100.6"/><path d="M99.7 142.7L149.8 100.6"/><path d="M82.5 100.6L73 45"/><path d="M149.8 100.6L159.2 45"/><path d="M143.5 132.4L93.3 93.5"/><path d="M88.8 132.4L139 93.5"/><path d="M93.3 93.5L87.2 38.4"/><path d="M139 93.5L145.1 38.4"/><path d="M153.5 122.9L103.4 86.8"/><path d="M78.8 122.9L128.8 86.8"/><path d="M103.4 86.8L100.2 32.4"/><path d="M128.8 86.8L132.1 32.4"/><path d="M162.7 114.1L112.9 80.6"/><path d="M69.5 114.1L119.4 80.6"/><path d="M112.9 80.6L112.1 26.9"/><path d="M119.4 80.6L120.2 26.9"/><path d="M66.4 111.2L116.1 78.5"/><path d="M116.1 78.5L165.9 111.2"/><path d="M63 98.4L116.1 65.9"/><path d="M116.1 65.9L169.3 98.4"/><path d="M59.1 83.8L116.1 51.8"/><path d="M116.1 51.8L173.1 83.8"/><path d="M54.6 66.8L116.1 35.8"/><path d="M116.1 35.8L177.6 66.8"/></g><g fill="none" stroke="#e5e5e5" stroke-width="0.7"><path d="M66.4 111.2L116.1 158.2"/><path d="M116.1 158.2L165.9 111.2"/><path d="M165.9 111.2L116.1 78.5"/><path d="M116.1 78.5L66.4 111.2"/><path d="M66.4 111.2L51.5 55"/><path d="M165.9 111.2L180.8 55"/><path d="M116.1 78.5L116.1 25"/><path d="M51.5 55L116.1 25"/><path d="M116.1 25L180.8 55"/></g>
<g stroke-width="0.35" stroke-linejoin="round"><polygon points="136.8,89.9 136.8,89.9 136.6,89.9" fill="#10eea2" stroke="#10eea2"/><polygon points="138.7,90.5 139.5,90.5 136.8,89.9 136.8,89.9" fill="#10eea2" stroke="#10eea2"/><polygon points="140.7,91.1 142.1,91.1 141.9,91 139.5,90.5 138.7,90.5" fill="#10eea2" stroke="#10eea2"/><polygon points="142.7,91.7 144.1,91.6 142.1,91.1 140.7,91.1" fill="#10eea2" stroke="#10eea2"/><polygon points="144.7,92.2 146.2,92.2 144.1,91.6 142.7,91.7" fill="#10eea2" stroke="#10eea2"/><polygon points="146.8,92.9 148.2,92.7 146.2,92.2 144.7,92.2" fill="#10eea2" stroke="#10eea2"/><polygon points="148.9,93.5 150.4,93.3 148.2,92.7 146.8,92.9" fill="#10eea2" stroke="#10eea2"/><polygon points="151.1,94.1 152.5,93.8 150.4,93.3 148.9,93.5" fill="#10eea2" stroke="#10eea2"/><polygon points="153.3,94.7 154.7,94.4 152.5,93.8 151.1,94.1" fill="#10eea2" stroke="#10eea2"/><polygon points="156.1,95.3 157,95 154.7,94.4 153.3,94.7 154.4,95.1" fill="#10eea2" stroke="#10eea2"/><polygon points="155.6,95.4 156.1,95.3 154.4,95.1" fill="#0eec40" stroke="#0eec40"/><polygon points="158.9,95.5 157,95 156.1,95.3" fill="#10eea2" stroke="#10eea2"/><polygon points="157.9,96.1 159.3,95.6 158.9,95.5 156.1,95.3 155.6,95.4" fill="#0eec40" stroke="#0eec40"/><polygon points="160.2,96.8 161.6,96.2 159.3,95.6 157.9,96.1" fill="#0eec40" stroke="#0eec40"/><polygon points="131.5,88.6 131.8,88.6 130.9,88.4" fill="#10eea2" stroke="#10eea2"/><polygon points="133.4,89.2 134.3,89.3 131.8,88.6 131.5,88.6" fill="#10eea2" stroke="#10eea2"/><polygon points="135.3,89.8 136.8,89.9 136.6,89.9 134.3,89.3 133.4,89.2" fill="#10eea2" stroke="#10eea2"/><polygon points="137.2,90.4 138.7,90.5 136.8,89.9 135.3,89.8" fill="#10eea2" stroke="#10eea2"/><polygon points="139.2,91 140.7,91.1 138.7,90.5 137.2,90.4" fill="#10eea2" stroke="#10eea2"/><polygon points="141.2,91.7 142.7,91.7 140.7,91.1 139.2,91" fill="#10eea2" stroke="#10eea2"/><polygon points="143.3,92.3 144.7,92.2 142.7,91.7 141.2,91.7" fill="#10eea2" stroke="#10eea2"/><polygon points="145.4,93 146.8,92.9 144.7,92.2 143.3,92.3" fill="#10eea2" stroke="#10eea2"/><polygon points="147.5,93.7 148.9,93.5 146.8,92.9 145.4,93" fill="#10eea2" stroke="#10eea2"/><polygon points="149.7,94.4 151.1,94.1 148.9,93.5 147.5,93.7 149.5,94.3" fill="#10eea2" stroke="#10eea2"/><polygon points="149.7,94.4 149.7,94.4 149.5,94.3" fill="#0eec40" stroke="#0eec40"/><polygon points="152.8,94.9 153.3,94.7 151.1,94.1 149.7,94.4" fill="#10eea2" stroke="#10eea2"/><polygon points="151.9,95.1 152.8,94.9 149.7,94.4 149.7,94.4" fill="#0eec40" stroke="#0eec40"/><polygon points="154.4,95.1 153.3,94.7 152.8,94.9" fill="#10eea2" stroke="#10eea2"/><polygon points="154.1,95.8 155.6,95.4 154.4,95.1 152.8,94.9 151.9,95.1" fill="#0eec40" stroke="#0eec40"/><polygon points="156.4,96.5 157.9,96.1 155.6,95.4 154.1,95.8" fill="#0eec40" stroke="#0eec40"/><polygon points="158.8,97.3 160.2,96.8 157.9,96.1 156.4,96.5" fill="#0eec40" stroke="#0eec40"/><polygon points="124.6,86.4 124.6,86.4 124.5,86.4" fill="#0a9d6a" stroke="#0a9d6a"/><polygon points="126.4,87 126.9,87.2 124.6,86.4 124.6,86.4" fill="#10eea2" stroke="#10eea2"/><polygon points="128.2,87.7 129.3,87.9 126.9,87.2 126.4,87" fill="#10eea2" stroke="#10eea2"/><polygon points="130,88.3 131.5,88.6 130.9,88.4 129.3,87.9 128.2,87.7" fill="#10eea2" stroke="#10eea2"/><polygon points="131.9,89 133.4,89.2 131.5,88.6 130,88.3" fill="#10eea2" stroke="#10eea2"/><polygon points="133.8,89.6 135.3,89.8 133.4,89.2 131.9,89" fill="#10eea2" stroke="#10eea2"/><polygon points="135.7,90.3 137.2,90.4 135.3,89.8 133.8,89.6" fill="#10eea2" stroke="#10eea2"/><polygon points="137.7,91 139.2,91 137.2,90.4 135.7,90.3" fill="#10eea2" stroke="#10eea2"/><polygon points="139.7,91.7 141.2,91.7 139.2,91 137.7,91" fill="#10eea2" stroke="#10eea2"/><polygon points="141.8,92.4 143.3,92.3 141.2,91.7 139.7,91.7" fill="#10eea2" stroke="#10eea2"/><polygon points="143.9,93.1 145.4,93 143.3,92.3 141.8,92.4" fill="#10eea2" stroke="#10eea2"/><polygon points="146.7,93.8 147.5,93.7 145.4,93 143.9,93.1 144.1,93.2" fill="#10eea2" stroke="#10eea2"/><polygon points="146,93.9 146.7,93.8 144.1,93.2" fill="#0eec40" stroke="#0eec40"/><polygon points="149.5,94.3 147.5,93.7 146.7,93.8" fill="#10eea2" stroke="#10eea2"/><polygon points="148.2,94.7 149.7,94.4 149.5,94.3 146.7,93.8 146,93.9" fill="#0eec40" stroke="#0eec40"/><polygon points="150.4,95.4 151.9,95.1 149.7,94.4 148.2,94.7" fill="#0eec40" stroke="#0eec40"/><polygon points="152.7,96.2 154.1,95.8 151.9,95.1 150.4,95.4" fill="#0eec40" stroke="#0eec40"/><polygon points="155,97 156.4,96.5 154.1,95.8 152.7,96.2" fill="#0eec40" stroke="#0eec40"/><polygon points="157.3,97.8 158.8,97.3 156.4,96.5 155,97" fill="#0eec40" stroke="#0eec40"/><polygon points="117.8,84 117.9,84 117.3,83.8" fill="#0a9d6a" stroke="#0a9d6a"/><polygon points="119.5,84.6 120.1,84.9 117.9,84 117.8,84" fill="#0a9d6a" stroke="#0a9d6a"/><polygon points="121.2,85.3 122.3,85.6 120.1,84.9 119.5,84.6" fill="#0a9d6a" stroke="#0a9d6a"/><polygon points="123,86 124.6,86.4 124.5,86.4 122.3,85.6 121.2,85.3" fill="#10eea2" stroke="#10eea2"/><polygon points="124.8,86.6 126.4,87 124.6,86.4 123,86" fill="#10eea2" stroke="#10eea2"/><polygon points="126.6,87.3 128.2,87.7 126.4,87 124.8,86.6" fill="#10eea2" stroke="#10eea2"/><polygon points="128.4,88 130,88.3 128.2,87.7 126.6,87.3" fill="#10eea2" stroke="#10eea2"/><polygon points="130.3,88.7 131.9,89 130,88.3 128.4,88" fill="#10eea2" stroke="#10eea2"/><polygon points="132.2,89.5 133.8,89.6 131.9,89 130.3,88.7" fill="#10eea2" stroke="#10eea2"/><polygon points="134.2,90.2 135.7,90.3 133.8,89.6 132.2,89.5" fill="#10eea2" stroke="#10eea2"/><polygon points="136.2,91 137.7,91 135.7,90.3 134.2,90.2" fill="#10eea2" stroke="#10eea2"/><polygon points="138.3,91.7 139.7,91.7 137.7,91 136.2,91 138,91.6" fill="#10eea2" stroke="#10eea2"/><polygon points="138.2,91.7 138.3,91.7 138,91.6" fill="#0eec40" stroke="#0eec40"/><polygon points="141,92.5 141.8,92.4 139.7,91.7 138.3,91.7" fill="#10eea2" stroke="#10eea2"/><polygon points="140.3,92.5 141,92.5 138.3,91.7 138.2,91.7" fill="#0eec40" stroke="#0eec40"/><polygon points="143.8,93.2 143.9,93.1 141.8,92.4 141,92.5" fill="#10eea2" stroke="#10eea2"/><polygon points="142.4,93.3 143.8,93.2 141,92.5 140.3,92.5" fill="#0eec40" stroke="#0eec40"/><polygon points="144.1,93.2 143.9,93.1 143.8,93.2" fill="#10eea2" stroke="#10eea2"/><polygon points="144.5,94.1 146,93.9 144.1,93.2 143.8,93.2 142.4,93.3" fill="#0eec40" stroke="#0eec40"/><polygon points="146.7,94.9 148.2,94.7 146,93.9 144.5,94.1" fill="#0eec40" stroke="#0eec40"/><polygon points="148.9,95.8 150.4,95.4 148.2,94.7 146.7,94.9" fill="#0eec40" stroke="#0eec40"/><polygon points="151.2,96.6 152.7,96.2 150.4,95.4 148.9,95.8" fill="#0eec40" stroke="#0eec40"/><polygon points="153.5,97.5 155,97 152.7,96.2 151.2,96.6" fill="#0eec40" stroke="#0eec40"/><polygon points="155.8,98.4 157.3,97.8 155,97 153.5,97.5" fill="#0eec40" stroke="#0eec40"/><polygon points="109.6,80.7 109.7,80.7 109.1,80.5" fill="#0a9d6a" stroke="#0a9d6a"/><polygon points="111.2,81.3 111.7,81.6 109.7,80.7 109.6,80.7" fill="#0a9d6a" stroke="#0a9d6a"/><polygon points="112.8,82 113.7,82.4 111.7,81.6 111.2,81.3" fill="#0a9d6a" stroke="#0a9d6a"/><polygon points="114.5,82.7 115.8,83.2 113.7,82.4 112.8,82" fill="#0a9d6a" stroke="#0a9d6a"/><polygon points="116.1,83.4 117.8,84 117.3,83.8 115.8,83.2 114.5,82.7" fill="#0a9d6a" stroke="#0a9d6a"/><polygon points="117.8,84.1 119.5,84.6 117.8,84 116.1,83.4" fill="#0a9d6a" stroke="#0a9d6a"/><polygon points="119.6,84.8 121.2,85.3 119.5,84.6 117.8,84.1" fill="#10eea2" stroke="#10eea2"/><polygon points="121.3,85.5 123,86 121.2,85.3 119.6,84.8" fill="#10eea2" stroke="#10eea2"/><polygon points="123.1,86.2 124.8,86.6 123,86 121.3,85.5" fill="#10eea2" stroke="#10eea2"/><polygon points="125,87 126.6,87.3 124.8,86.6 123.1,86.2" fill="#10eea2" stroke="#10eea2"/><polygon points="126.8,87.7 128.4,88 126.6,87.3 125,87" fill="#10eea2" stroke="#10eea2"/><polygon points="128.7,88.5 130.3,88.7 128.4,88 126.8,87.7" fill="#10eea2" stroke="#10eea2"/><polygon points="130.6,89.3 132.2,89.5 130.3,88.7 128.7,88.5" fill="#10eea2" stroke="#10eea2"/><polygon points="133,90.1 134.2,90.2 132.2,89.5 130.6,89.3 131,89.4" fill="#10eea2" stroke="#10eea2"/><polygon points="132.6,90.1 133,90.1 131,89.4" fill="#0eec40" stroke="#0eec40"/><polygon points="135.6,90.9 136.2,91 134.2,90.2 133,90.1" fill="#10eea2" stroke="#10eea2"/><polygon points="134.6,90.9 135.6,90.9 133,90.1 132.6,90.1" fill="#0eec40" stroke="#0eec40"/><polygon points="138,91.6 136.2,91 135.6,90.9" fill="#10eea2" stroke="#10eea2"/><polygon points="136.6,91.8 138.2,91.7 138,91.6 135.6,90.9 134.6,90.9" fill="#0eec40" stroke="#0eec40"/><polygon points="138.7,92.6 140.3,92.5 138.2,91.7 136.6,91.8" fill="#0eec40" stroke="#0eec40"/><polygon points="140.8,93.5 142.4,93.3 140.3,92.5 138.7,92.6" fill="#0eec40" stroke="#0eec40"/><polygon points="142.9,94.3 144.5,94.1 142.4,93.3 140.8,93.5" fill="#0eec40" stroke="#0eec40"/><polygon points="145.1,95.2 146.7,94.9 144.5,94.1 142.9,94.3" fill="#0eec40" stroke="#0eec40"/><polygon points="147.3,96.1 148.9,95.8 146.7,94.9 145.1,95.2" fill="#0eec40" stroke="#0eec40"/><polygon points="149.6,97.1 151.2,96.6 148.9,95.8 147.3,96.1" fill="#0eec40" stroke="#0eec40"/><polygon points="151.9,98 153.5,97.5 151.2,96.6 149.6,97.1" fill="#0eec40" stroke="#0eec40"/><polygon points="154.3,99 155.8,98.4 153.5,97.5 151.9,98" fill="#0eec40" stroke="#0eec40"/><polygon points="107.8,79.8 109.6,80.7 109.1,80.5 107.7,79.9 106.2,79.1" fill="#0a9d6a" stroke="#0a9d6a"/><polygon points="109.4,80.5 111.2,81.3 109.6,80.7 107.8,79.8" fill="#0a9d6a" stroke="#0a9d6a"/><polygon points="111.1,81.2 112.8,82 111.2,81.3 109.4,80.5" fill="#0a9d6a" stroke="#0a9d6a"/><polygon points="112.7,82 114.5,82.7 112.8,82 111.1,81.2" fill="#0a9d6a" stroke="#0a9d6a"/><polygon points="114.4,82.7 116.1,83.4 114.5,82.7 112.7,82" fill="#0a9d6a" stroke="#0a9d6a"/><polygon points="116.1,83.5 117.8,84.1 116.1,83.4 114.4,82.7" fill="#10eea2" stroke="#10eea2"/><polygon points="117.9,84.2 119.6,84.8 117.8,84.1 116.1,83.5" fill="#10eea2" stroke="#10eea2"/><polygon points="119.7,85 121.3,85.5 119.6,84.8 117.9,84.2" fill="#10eea2" stroke="#10eea2"/><polygon points="121.5,85.8 123.1,86.2 121.3,85.5 119.7,85" fill="#10eea2" stroke="#10eea2"/><polygon points="123.4,86.6 125,87 123.1,86.2 121.5,85.8 122.8,86.4" fill="#10eea2" stroke="#10eea2"/><polygon points="123.3,86.6 123.4,86.6 122.8,86.4" fill="#0eec40" stroke="#0eec40"/><polygon points="125.7,87.5 126.8,87.7 125,87 123.4,86.6" fill="#10eea2" stroke="#10eea2"/><polygon points="125.2,87.4 125.7,87.5 123.4,86.6 123.3,86.6" fill="#0eec40" stroke="#0eec40"/><polygon points="128.1,88.4 128.7,88.5 126.8,87.7 125.7,87.5" fill="#10eea2" stroke="#10eea2"/><polygon points="127.1,88.3 128.1,88.4 125.7,87.5 125.2,87.4" fill="#0eec40" stroke="#0eec40"/><polygon points="130.5,89.3 130.6,89.3 128.7,88.5 128.1,88.4" fill="#10eea2" stroke="#10eea2"/><polygon points="129,89.1 130.5,89.3 128.1,88.4 127.1,88.3" fill="#0eec40" stroke="#0eec40"/><polygon points="131,89.4 130.6,89.3 130.5,89.3" fill="#10eea2" stroke="#10eea2"/><polygon points="131,90 132.6,90.1 131,89.4 130.5,89.3 129,89.1" fill="#0eec40" stroke="#0eec40"/><polygon points="133,90.9 134.6,90.9 132.6,90.1 131,90" fill="#0eec40" stroke="#0eec40"/><polygon points="135,91.8 136.6,91.8 134.6,90.9 133,90.9" fill="#0eec40" stroke="#0eec40"/><polygon points="137.1,92.7 138.7,92.6 136.6,91.8 135,91.8" fill="#0eec40" stroke="#0eec40"/><polygon points="139.2,93.6 140.8,93.5 138.7,92.6 137.1,92.7" fill="#0eec40" stroke="#0eec40"/><polygon points="141.3,94.6 142.9,94.3 140.8,93.5 139.2,93.6" fill="#0eec40" stroke="#0eec40"/><polygon points="143.5,95.5 145.1,95.2 142.9,94.3 141.3,94.6" fill="#0eec40" stroke="#0eec40"/><polygon points="145.7,96.5 147.3,96.1 145.1,95.2 143.5,95.5" fill="#0eec40" stroke="#0eec40"/><polygon points="148,97.5 149.6,97.1 147.3,96.1 145.7,96.5" fill="#0eec40" stroke="#0eec40"/><polygon points="150.3,98.5 151.9,98 149.6,97.1 148,97.5" fill="#0eec40" stroke="#0eec40"/><polygon points="152.8,99.5 154.3,99 151.9,98 150.3,98.5 152.3,99.4" fill="#0eec40" stroke="#0eec40"/><polygon points="152.7,99.6 152.8,99.5 152.3,99.4" fill="#2cec1c" stroke="#2cec1c"/><polygon points="106,78.9 107.8,79.8 106.2,79.1 104.4,78.1" fill="#0a9d6a" stroke="#0a9d6a"/><polygon points="107.6,79.7 109.4,80.5 107.8,79.8 106,78.9" fill="#0a9d6a" stroke="#0a9d6a"/><polygon points="109.3,80.4 111.1,81.2 109.4,80.5 107.6,79.7" fill="#0a9d6a" stroke="#0a9d6a"/><polygon points="110.9,81.2 112.7,82 111.1,81.2 109.3,80.4" fill="#0a9d6a" stroke="#0a9d6a"/><polygon points="112.6,82 114.4,82.7 112.7,82 110.9,81.2" fill="#10eea2" stroke="#10eea2"/><polygon points="114.6,82.9 116.1,83.5 114.4,82.7 112.6,82 113.2,82.3" fill="#10eea2" stroke="#10eea2"/><polygon points="114.4,82.9 114.6,82.9 113.2,82.3" fill="#0eec40" stroke="#0eec40"/><polygon points="116.7,83.9 117.9,84.2 116.1,83.5 114.6,82.9" fill="#10eea2" stroke="#10eea2"/><polygon points="116.1,83.7 116.7,83.9 114.6,82.9 114.4,82.9" fill="#0eec40" stroke="#0eec40"/><polygon points="118.9,84.8 119.7,85 117.9,84.2 116.7,83.9" fill="#10eea2" stroke="#10eea2"/><polygon points="117.9,84.5 118.9,84.8 116.7,83.9 116.1,83.7" fill="#0eec40" stroke="#0eec40"/><polygon points="121.1,85.7 121.5,85.8 119.7,85 118.9,84.8" fill="#10eea2" stroke="#10eea2"/><polygon points="119.7,85.4 121.1,85.7 118.9,84.8 117.9,84.5" fill="#0eec40" stroke="#0eec40"/><polygon points="122.8,86.4 121.5,85.8 121.1,85.7" fill="#10eea2" stroke="#10eea2"/><polygon points="121.6,86.3 123.3,86.6 122.8,86.4 121.1,85.7 119.7,85.4" fill="#0eec40" stroke="#0eec40"/><polygon points="123.5,87.1 125.2,87.4 123.3,86.6 121.6,86.3" fill="#0eec40" stroke="#0eec40"/><polygon points="125.4,88 127.1,88.3 125.2,87.4 123.5,87.1" fill="#0eec40" stroke="#0eec40"/><polygon points="127.3,89 129,89.1 127.1,88.3 125.4,88" fill="#0eec40" stroke="#0eec40"/><polygon points="129.3,89.9 131,90 129,89.1 127.3,89" fill="#0eec40" stroke="#0eec40"/><polygon points="131.3,90.8 133,90.9 131,90 129.3,89.9" fill="#0eec40" stroke="#0eec40"/><polygon points="133.3,91.8 135,91.8 133,90.9 131.3,90.8" fill="#0eec40" stroke="#0eec40"/><polygon points="135.4,92.8 137.1,92.7 135,91.8 133.3,91.8" fill="#0eec40" stroke="#0eec40"/><polygon points="137.5,93.8 139.2,93.6 137.1,92.7 135.4,92.8" fill="#0eec40" stroke="#0eec40"/><polygon points="139.7,94.8 141.3,94.6 139.2,93.6 137.5,93.8" fill="#0eec40" stroke="#0eec40"/><polygon points="141.9,95.8 143.5,95.5 141.3,94.6 139.7,94.8" fill="#0eec40" stroke="#0eec40"/><polygon points="144.1,96.9 145.7,96.5 143.5,95.5 141.9,95.8" fill="#0eec40" stroke="#0eec40"/><polygon points="146.7,97.9 148,97.5 145.7,96.5 144.1,96.9 145.3,97.4" fill="#0eec40" stroke="#0eec40"/><polygon points="146.4,98 146.7,97.9 145.3,97.4" fill="#2cec1c" stroke="#2cec1c"/><polygon points="149.7,98.7 150.3,98.5 148,97.5 146.7,97.9" fill="#0eec40" stroke="#0eec40"/><polygon points="148.7,99.1 149.7,98.7 146.7,97.9 146.4,98" fill="#2cec1c" stroke="#2cec1c"/><polygon points="152.3,99.4 150.3,98.5 149.7,98.7" fill="#0eec40" stroke="#0eec40"/><polygon points="151.1,100.2 152.7,99.6 152.3,99.4 149.7,98.7 148.7,99.1" fill="#2cec1c" stroke="#2cec1c"/><polygon points="104.6,78.2 106,78.9 104.4,78.1 102.7,77.3" fill="#0a9d6a" stroke="#0a9d6a"/><polygon points="104.1,78 104.6,78.2 102.7,77.3 102.5,77.2" fill="#099b2a" stroke="#099b2a"/><polygon points="106.5,79.2 107.6,79.7 106,78.9 104.6,78.2" fill="#0a9d6a" stroke="#0a9d6a"/><polygon points="105.8,78.8 106.5,79.2 104.6,78.2 104.1,78" fill="#099b2a" stroke="#099b2a"/><polygon points="108.5,80.1 109.3,80.4 107.6,79.7 106.5,79.2" fill="#0a9d6a" stroke="#0a9d6a"/><polygon points="107.4,79.6 108.5,80.1 106.5,79.2 105.8,78.8" fill="#099b2a" stroke="#099b2a"/><polygon points="110.5,81.1 110.9,81.2 109.3,80.4 108.5,80.1" fill="#10eea2" stroke="#10eea2"/><polygon points="109.1,80.5 110.5,81.1 108.5,80.1 107.4,79.6" fill="#0eec40" stroke="#0eec40"/><polygon points="112.5,82 112.6,82 110.9,81.2 110.5,81.1" fill="#10eea2" stroke="#10eea2"/><polygon points="110.8,81.3 112.5,82 110.5,81.1 109.1,80.5" fill="#0eec40" stroke="#0eec40"/><polygon points="113.2,82.3 112.6,82 112.5,82" fill="#10eea2" stroke="#10eea2"/><polygon points="112.6,82.2 114.4,82.9 113.2,82.3 112.5,82 110.8,81.3" fill="#0eec40" stroke="#0eec40"/><polygon points="114.3,83.1 116.1,83.7 114.4,82.9 112.6,82.2" fill="#0eec40" stroke="#0eec40"/><polygon points="116.1,84 117.9,84.5 116.1,83.7 114.3,83.1" fill="#0eec40" stroke="#0eec40"/><polygon points="118,84.9 119.7,85.4 117.9,84.5 116.1,84" fill="#0eec40" stroke="#0eec40"/><polygon points="119.8,85.9 121.6,86.3 119.7,85.4 118,84.9" fill="#0eec40" stroke="#0eec40"/><polygon points="121.7,86.8 123.5,87.1 121.6,86.3 119.8,85.9" fill="#0eec40" stroke="#0eec40"/><polygon points="123.6,87.8 125.4,88 123.5,87.1 121.7,86.8" fill="#0eec40" stroke="#0eec40"/><polygon points="125.6,88.8 127.3,89 125.4,88 123.6,87.8" fill="#0eec40" stroke="#0eec40"/><polygon points="127.6,89.8 129.3,89.9 127.3,89 125.6,88.8" fill="#0eec40" stroke="#0eec40"/><polygon points="129.6,90.8 131.3,90.8 129.3,89.9 127.6,89.8" fill="#0eec40" stroke="#0eec40"/><polygon points="131.6,91.8 133.3,91.8 131.3,90.8 129.6,90.8" fill="#0eec40" stroke="#0eec40"/><polygon points="133.7,92.9 135.4,92.8 133.3,91.8 131.6,91.8" fill="#0eec40" stroke="#0eec40"/><polygon points="135.8,94 137.5,93.8 135.4,92.8 133.7,92.9" fill="#0eec40" stroke="#0eec40"/><polygon points="138.3,95 139.7,94.8 137.5,93.8 135.8,94 136.6,94.3" fill="#0eec40" stroke="#0eec40"/><polygon points="138,95 138.3,95 136.6,94.3" fill="#2cec1c" stroke="#2cec1c"/><polygon points="141,96 141.9,95.8 139.7,94.8 138.3,95" fill="#0eec40" stroke="#0eec40"/><polygon points="140.2,96.1 141,96 138.3,95 138,95" fill="#2cec1c" stroke="#2cec1c"/><polygon points="143.8,97 144.1,96.9 141.9,95.8 141,96" fill="#0eec40" stroke="#0eec40"/><polygon points="142.5,97.3 143.8,97 141,96 140.2,96.1" fill="#2cec1c" stroke="#2cec1c"/><polygon points="145.3,97.4 144.1,96.9 143.8,97" fill="#0eec40" stroke="#0eec40"/><polygon points="144.7,98.4 146.4,98 145.3,97.4 143.8,97 142.5,97.3" fill="#2cec1c" stroke="#2cec1c"/><polygon points="147.1,99.6 148.7,99.1 146.4,98 144.7,98.4" fill="#2cec1c" stroke="#2cec1c"/><polygon points="149.4,100.8 151.1,100.2 148.7,99.1 147.1,99.6" fill="#2cec1c" stroke="#2cec1c"/><polygon points="102.2,77 104.1,78 102.5,77.2 100.6,76.1" fill="#099b2a" stroke="#099b2a"/><polygon points="103.8,77.9 105.8,78.8 104.1,78 102.2,77" fill="#099b2a" stroke="#099b2a"/><polygon points="105.5,78.8 107.4,79.6 105.8,78.8 103.8,77.9" fill="#0eec40" stroke="#0eec40"/><polygon points="107.2,79.7 109.1,80.5 107.4,79.6 105.5,78.8" fill="#0eec40" stroke="#0eec40"/><polygon points="108.9,80.6 110.8,81.3 109.1,80.5 107.2,79.7" fill="#0eec40" stroke="#0eec40"/><polygon points="110.7,81.6 112.6,82.2 110.8,81.3 108.9,80.6" fill="#0eec40" stroke="#0eec40"/><polygon points="112.5,82.5 114.3,83.1 112.6,82.2 110.7,81.6" fill="#0eec40" stroke="#0eec40"/><polygon points="114.3,83.5 116.1,84 114.3,83.1 112.5,82.5" fill="#0eec40" stroke="#0eec40"/><polygon points="116.1,84.5 118,84.9 116.1,84 114.3,83.5" fill="#0eec40" stroke="#0eec40"/><polygon points="118,85.5 119.8,85.9 118,84.9 116.1,84.5" fill="#0eec40" stroke="#0eec40"/><polygon points="119.9,86.5 121.7,86.8 119.8,85.9 118,85.5" fill="#0eec40" stroke="#0eec40"/><polygon points="121.8,87.5 123.6,87.8 121.7,86.8 119.9,86.5" fill="#0eec40" stroke="#0eec40"/><polygon points="123.8,88.6 125.6,88.8 123.6,87.8 121.8,87.5" fill="#0eec40" stroke="#0eec40"/><polygon points="125.8,89.7 127.6,89.8 125.6,88.8 123.8,88.6 125.5,89.5" fill="#0eec40" stroke="#0eec40"/><polygon points="125.8,89.7 125.8,89.7 125.5,89.5" fill="#2cec1c" stroke="#2cec1c"/><polygon points="128.2,90.8 129.6,90.8 127.6,89.8 125.8,89.7" fill="#0eec40" stroke="#0eec40"/><polygon points="127.8,90.8 128.2,90.8 125.8,89.7 125.8,89.7" fill="#2cec1c" stroke="#2cec1c"/><polygon points="130.6,91.8 131.6,91.8 129.6,90.8 128.2,90.8" fill="#0eec40" stroke="#0eec40"/><polygon points="129.9,91.9 130.6,91.8 128.2,90.8 127.8,90.8" fill="#2cec1c" stroke="#2cec1c"/><polygon points="133.1,92.9 133.7,92.9 131.6,91.8 130.6,91.8" fill="#0eec40" stroke="#0eec40"/><polygon points="132,93 133.1,92.9 130.6,91.8 129.9,91.9" fill="#2cec1c" stroke="#2cec1c"/><polygon points="135.7,94 135.8,94 133.7,92.9 133.1,92.9" fill="#0eec40" stroke="#0eec40"/><polygon points="134.1,94.1 135.7,94 133.1,92.9 132,93" fill="#2cec1c" stroke="#2cec1c"/><polygon points="136.6,94.3 135.8,94 135.7,94" fill="#0eec40" stroke="#0eec40"/><polygon points="136.3,95.3 138,95 136.6,94.3 135.7,94 134.1,94.1" fill="#2cec1c" stroke="#2cec1c"/><polygon points="138.5,96.5 140.2,96.1 138,95 136.3,95.3" fill="#2cec1c" stroke="#2cec1c"/><polygon points="140.7,97.7 142.5,97.3 140.2,96.1 138.5,96.5" fill="#2cec1c" stroke="#2cec1c"/><polygon points="143,98.9 144.7,98.4 142.5,97.3 140.7,97.7" fill="#2cec1c" stroke="#2cec1c"/><polygon points="145.4,100.1 147.1,99.6 144.7,98.4 143,98.9" fill="#2cec1c" stroke="#2cec1c"/><polygon points="147.7,101.4 149.4,100.8 147.1,99.6 145.4,100.1" fill="#2cec1c" stroke="#2cec1c"/><polygon points="100.2,76 102.2,77 100.6,76.1 98.5,75.1" fill="#099b2a" stroke="#099b2a"/><polygon points="101.9,77 103.8,77.9 102.2,77 100.2,76" fill="#0eec40" stroke="#0eec40"/><polygon points="103.5,77.9 105.5,78.8 103.8,77.9 101.9,77" fill="#0eec40" stroke="#0eec40"/><polygon points="105.3,78.9 107.2,79.7 105.5,78.8 103.5,77.9" fill="#0eec40" stroke="#0eec40"/><polygon points="107,79.9 108.9,80.6 107.2,79.7 105.3,78.9" fill="#0eec40" stroke="#0eec40"/><polygon points="108.8,80.9 110.7,81.6 108.9,80.6 107,79.9" fill="#0eec40" stroke="#0eec40"/><polygon points="110.6,81.9 112.5,82.5 110.7,81.6 108.8,80.9 110.4,81.9" fill="#0eec40" stroke="#0eec40"/><polygon points="110.6,81.9 110.6,81.9 110.4,81.9" fill="#2cec1c" stroke="#2cec1c"/><polygon points="112.6,83 114.3,83.5 112.5,82.5 110.6,81.9" fill="#0eec40" stroke="#0eec40"/><polygon points="112.4,83 112.6,83 110.6,81.9 110.6,81.9" fill="#2cec1c" stroke="#2cec1c"/><polygon points="114.7,84.1 116.1,84.5 114.3,83.5 112.6,83" fill="#0eec40" stroke="#0eec40"/><polygon points="114.3,84 114.7,84.1 112.6,83 112.4,83" fill="#2cec1c" stroke="#2cec1c"/><polygon points="116.9,85.2 118,85.5 116.1,84.5 114.7,84.1" fill="#0eec40" stroke="#0eec40"/><polygon points="116.1,85.1 116.9,85.2 114.7,84.1 114.3,84" fill="#2cec1c" stroke="#2cec1c"/><polygon points="119,86.4 119.9,86.5 118,85.5 116.9,85.2" fill="#0eec40" stroke="#0eec40"/><polygon points="118,86.2 119,86.4 116.9,85.2 116.1,85.1" fill="#2cec1c" stroke="#2cec1c"/><polygon points="121.3,87.5 121.8,87.5 119.9,86.5 119,86.4" fill="#0eec40" stroke="#0eec40"/><polygon points="120,87.3 121.3,87.5 119,86.4 118,86.2" fill="#2cec1c" stroke="#2cec1c"/><polygon points="123.5,88.6 123.8,88.6 121.8,87.5 121.3,87.5" fill="#0eec40" stroke="#0eec40"/><polygon points="122,88.4 123.5,88.6 121.3,87.5 120,87.3" fill="#2cec1c" stroke="#2cec1c"/><polygon points="125.5,89.5 123.8,88.6 123.5,88.6" fill="#0eec40" stroke="#0eec40"/><polygon points="124,89.5 125.8,89.7 125.5,89.5 123.5,88.6 122,88.4" fill="#2cec1c" stroke="#2cec1c"/><polygon points="126,90.7 127.8,90.8 125.8,89.7 124,89.5" fill="#2cec1c" stroke="#2cec1c"/><polygon points="128.1,91.9 129.9,91.9 127.8,90.8 126,90.7" fill="#2cec1c" stroke="#2cec1c"/><polygon points="130.2,93.1 132,93 129.9,91.9 128.1,91.9" fill="#2cec1c" stroke="#2cec1c"/><polygon points="132.3,94.3 134.1,94.1 132,93 130.2,93.1" fill="#2cec1c" stroke="#2cec1c"/><polygon points="134.5,95.5 136.3,95.3 134.1,94.1 132.3,94.3" fill="#2cec1c" stroke="#2cec1c"/><polygon points="136.7,96.8 138.5,96.5 136.3,95.3 134.5,95.5" fill="#2cec1c" stroke="#2cec1c"/><polygon points="139,98.1 140.7,97.7 138.5,96.5 136.7,96.8" fill="#2cec1c" stroke="#2cec1c"/><polygon points="141.3,99.4 143,98.9 140.7,97.7 139,98.1" fill="#2cec1c" stroke="#2cec1c"/><polygon points="143.6,100.7 145.4,100.1 143,98.9 141.3,99.4" fill="#2cec1c" stroke="#2cec1c"/><polygon points="146,102.1 147.7,101.4 145.4,100.1 143.6,100.7" fill="#2cec1c" stroke="#2cec1c"/><polygon points="99,75.4 100.2,76 98.5,75.1 97.2,74.4" fill="#0eec40" stroke="#0eec40"/><polygon points="98.1,75 99,75.4 97.2,74.4 96.5,74" fill="#2cec1c" stroke="#2cec1c"/><polygon points="100.9,76.5 101.9,77 100.2,76 99,75.4" fill="#0eec40" stroke="#0eec40"/><polygon points="99.8,76 100.9,76.5 99,75.4 98.1,75" fill="#2cec1c" stroke="#2cec1c"/><polygon points="102.7,77.6 103.5,77.9 101.9,77 100.9,76.5" fill="#0eec40" stroke="#0eec40"/><polygon points="101.5,77 102.7,77.6 100.9,76.5 99.8,76" fill="#2cec1c" stroke="#2cec1c"/><polygon points="104.6,78.7 105.3,78.9 103.5,77.9 102.7,77.6" fill="#0eec40" stroke="#0eec40"/><polygon points="103.2,78.1 104.6,78.7 102.7,77.6 101.5,77" fill="#2cec1c" stroke="#2cec1c"/><polygon points="106.6,79.7 107,79.9 105.3,78.9 104.6,78.7" fill="#0eec40" stroke="#0eec40"/><polygon points="105,79.1 106.6,79.7 104.6,78.7 103.2,78.1" fill="#2cec1c" stroke="#2cec1c"/><polygon points="108.6,80.8 108.8,80.9 107,79.9 106.6,79.7" fill="#0eec40" stroke="#0eec40"/><polygon points="106.8,80.2 108.6,80.8 106.6,79.7 105,79.1" fill="#2cec1c" stroke="#2cec1c"/><polygon points="110.4,81.9 108.8,80.9 108.6,80.8" fill="#0eec40" stroke="#0eec40"/><polygon points="108.6,81.3 110.6,81.9 110.4,81.9 108.6,80.8 106.8,80.2" fill="#2cec1c" stroke="#2cec1c"/><polygon points="110.4,82.4 112.4,83 110.6,81.9 108.6,81.3" fill="#2cec1c" stroke="#2cec1c"/><polygon points="112.3,83.5 114.3,84 112.4,83 110.4,82.4" fill="#2cec1c" stroke="#2cec1c"/><polygon points="114.2,84.7 116.1,85.1 114.3,84 112.3,83.5" fill="#2cec1c" stroke="#2cec1c"/><polygon points="116.1,85.8 118,86.2 116.1,85.1 114.2,84.7" fill="#2cec1c" stroke="#2cec1c"/><polygon points="118.1,87 120,87.3 118,86.2 116.1,85.8" fill="#2cec1c" stroke="#2cec1c"/><polygon points="120.1,88.2 122,88.4 120,87.3 118.1,87" fill="#2cec1c" stroke="#2cec1c"/><polygon points="122.1,89.4 124,89.5 122,88.4 120.1,88.2" fill="#2cec1c" stroke="#2cec1c"/><polygon points="124.1,90.7 126,90.7 124,89.5 122.1,89.4" fill="#2cec1c" stroke="#2cec1c"/><polygon points="126.2,91.9 128.1,91.9 126,90.7 124.1,90.7" fill="#2cec1c" stroke="#2cec1c"/><polygon points="128.3,93.2 130.2,93.1 128.1,91.9 126.2,91.9" fill="#2cec1c" stroke="#2cec1c"/><polygon points="130.5,94.5 132.3,94.3 130.2,93.1 128.3,93.2" fill="#2cec1c" stroke="#2cec1c"/><polygon points="132.7,95.8 134.5,95.5 132.3,94.3 130.5,94.5" fill="#2cec1c" stroke="#2cec1c"/><polygon points="134.9,97.1 136.7,96.8 134.5,95.5 132.7,95.8" fill="#2cec1c" stroke="#2cec1c"/><polygon points="137.2,98.5 139,98.1 136.7,96.8 134.9,97.1" fill="#2cec1c" stroke="#2cec1c"/><polygon points="139.5,99.9 141.3,99.4 139,98.1 137.2,98.5" fill="#2cec1c" stroke="#2cec1c"/><polygon points="141.8,101.3 143.6,100.7 141.3,99.4 139.5,99.9" fill="#2cec1c" stroke="#2cec1c"/><polygon points="144.2,102.7 146,102.1 143.6,100.7 141.8,101.3" fill="#2cec1c" stroke="#2cec1c"/><polygon points="96,73.9 98.1,75 96.5,74 94.3,72.9" fill="#2cec1c" stroke="#2cec1c"/><polygon points="97.7,75 99.8,76 98.1,75 96,73.9" fill="#2cec1c" stroke="#2cec1c"/><polygon points="99.4,76.1 101.5,77 99.8,76 97.7,75" fill="#2cec1c" stroke="#2cec1c"/><polygon points="101.2,77.2 103.2,78.1 101.5,77 99.4,76.1" fill="#2cec1c" stroke="#2cec1c"/><polygon points="102.9,78.4 105,79.1 103.2,78.1 101.2,77.2" fill="#2cec1c" stroke="#2cec1c"/><polygon points="104.7,79.5 106.8,80.2 105,79.1 102.9,78.4" fill="#2cec1c" stroke="#2cec1c"/><polygon points="106.6,80.7 108.6,81.3 106.8,80.2 104.7,79.5" fill="#2cec1c" stroke="#2cec1c"/><polygon points="108.4,81.8 110.4,82.4 108.6,81.3 106.6,80.7" fill="#2cec1c" stroke="#2cec1c"/><polygon points="110.3,83 112.3,83.5 110.4,82.4 108.4,81.8" fill="#2cec1c" stroke="#2cec1c"/><polygon points="112.2,84.3 114.2,84.7 112.3,83.5 110.3,83" fill="#2cec1c" stroke="#2cec1c"/><polygon points="114.2,85.5 116.1,85.8 114.2,84.7 112.2,84.3" fill="#2cec1c" stroke="#2cec1c"/><polygon points="116.1,86.7 118.1,87 116.1,85.8 114.2,85.5" fill="#2cec1c" stroke="#2cec1c"/><polygon points="118.1,88 120.1,88.2 118.1,87 116.1,86.7" fill="#2cec1c" stroke="#2cec1c"/><polygon points="120.2,89.3 122.1,89.4 120.1,88.2 118.1,88" fill="#2cec1c" stroke="#2cec1c"/><polygon points="122.2,90.6 124.1,90.7 122.1,89.4 120.2,89.3" fill="#2cec1c" stroke="#2cec1c"/><polygon points="124.3,91.9 126.2,91.9 124.1,90.7 122.2,90.6" fill="#2cec1c" stroke="#2cec1c"/><polygon points="126.5,93.3 128.3,93.2 126.2,91.9 124.3,91.9" fill="#2cec1c" stroke="#2cec1c"/><polygon points="128.6,94.7 130.5,94.5 128.3,93.2 126.5,93.3" fill="#2cec1c" stroke="#2cec1c"/><polygon points="130.8,96.1 132.7,95.8 130.5,94.5 128.6,94.7" fill="#2cec1c" stroke="#2cec1c"/><polygon points="133.1,97.5 134.9,97.1 132.7,95.8 130.8,96.1" fill="#2cec1c" stroke="#2cec1c"/><polygon points="135.3,98.9 137.2,98.5 134.9,97.1 133.1,97.5" fill="#2cec1c" stroke="#2cec1c"/><polygon points="137.6,100.4 139.5,99.9 137.2,98.5 135.3,98.9" fill="#2cec1c" stroke="#2cec1c"/><polygon points="140,101.9 141.8,101.3 139.5,99.9 137.6,100.4" fill="#2cec1c" stroke="#2cec1c"/><polygon points="142.4,103.4 144.2,102.7 141.8,101.3 140,101.9" fill="#2cec1c" stroke="#2cec1c"/><polygon points="93.8,72.9 96,73.9 94.3,72.9 92.1,71.7" fill="#2cec1c" stroke="#2cec1c"/><polygon points="95.5,74 97.7,75 96,73.9 93.8,72.9" fill="#2cec1c" stroke="#2cec1c"/><polygon points="97.3,75.2 99.4,76.1 97.7,75 95.5,74" fill="#2cec1c" stroke="#2cec1c"/><polygon points="99,76.4 101.2,77.2 99.4,76.1 97.3,75.2" fill="#2cec1c" stroke="#2cec1c"/><polygon points="100.8,77.6 102.9,78.4 101.2,77.2 99,76.4" fill="#2cec1c" stroke="#2cec1c"/><polygon points="102.6,78.8 104.7,79.5 102.9,78.4 100.8,77.6" fill="#2cec1c" stroke="#2cec1c"/><polygon points="104.5,80 106.6,80.7 104.7,79.5 102.6,78.8" fill="#2cec1c" stroke="#2cec1c"/><polygon points="106.4,81.3 108.4,81.8 106.6,80.7 104.5,80" fill="#2cec1c" stroke="#2cec1c"/><polygon points="108.2,82.5 110.3,83 108.4,81.8 106.4,81.3" fill="#2cec1c" stroke="#2cec1c"/><polygon points="110.2,83.8 112.2,84.3 110.3,83 108.2,82.5" fill="#2cec1c" stroke="#2cec1c"/><polygon points="112.1,85.1 114.2,85.5 112.2,84.3 110.2,83.8" fill="#2cec1c" stroke="#2cec1c"/><polygon points="114.1,86.5 116.1,86.7 114.2,85.5 112.1,85.1" fill="#2cec1c" stroke="#2cec1c"/><polygon points="116.1,87.8 118.1,88 116.1,86.7 114.1,86.5" fill="#2cec1c" stroke="#2cec1c"/><polygon points="118.2,89.2 120.2,89.3 118.1,88 116.1,87.8" fill="#2cec1c" stroke="#2cec1c"/><polygon points="120.3,90.6 122.2,90.6 120.2,89.3 118.2,89.2" fill="#2cec1c" stroke="#2cec1c"/><polygon points="122.4,92 124.3,91.9 122.2,90.6 120.3,90.6" fill="#2cec1c" stroke="#2cec1c"/><polygon points="124.5,93.4 126.5,93.3 124.3,91.9 122.4,92" fill="#2cec1c" stroke="#2cec1c"/><polygon points="126.7,94.9 128.6,94.7 126.5,93.3 124.5,93.4" fill="#2cec1c" stroke="#2cec1c"/><polygon points="128.9,96.3 130.8,96.1 128.6,94.7 126.7,94.9" fill="#2cec1c" stroke="#2cec1c"/><polygon points="131.1,97.9 133.1,97.5 130.8,96.1 128.9,96.3" fill="#2cec1c" stroke="#2cec1c"/><polygon points="133.4,99.4 135.3,98.9 133.1,97.5 131.1,97.9" fill="#2cec1c" stroke="#2cec1c"/><polygon points="135.8,100.9 137.6,100.4 135.3,98.9 133.4,99.4 134.9,100.4" fill="#2cec1c" stroke="#2cec1c"/><polygon points="135.7,100.9 135.8,100.9 134.9,100.4" fill="#a4f618" stroke="#a4f618"/><polygon points="138.2,102.5 140,101.9 137.6,100.4 135.8,100.9" fill="#2cec1c" stroke="#2cec1c"/><polygon points="138.1,102.5 138.2,102.5 135.8,100.9 135.7,100.9" fill="#a4f618" stroke="#a4f618"/><polygon points="140.7,104 142.4,103.4 140,101.9 138.2,102.5" fill="#2cec1c" stroke="#2cec1c"/><polygon points="140.5,104.1 140.7,104 138.2,102.5 138.1,102.5" fill="#a4f618" stroke="#a4f618"/><polygon points="92.9,72.4 93.8,72.9 92.1,71.7 91.2,71.2" fill="#2cec1c" stroke="#2cec1c"/><polygon points="91.5,71.7 92.9,72.4 91.2,71.2 89.8,70.5" fill="#a4f618" stroke="#a4f618"/><polygon points="94.6,73.6 95.5,74 93.8,72.9 92.9,72.4" fill="#2cec1c" stroke="#2cec1c"/><polygon points="93.3,72.9 94.6,73.6 92.9,72.4 91.5,71.7" fill="#a4f618" stroke="#a4f618"/><polygon points="96.4,74.8 97.3,75.2 95.5,74 94.6,73.6" fill="#2cec1c" stroke="#2cec1c"/><polygon points="95,74.2 96.4,74.8 94.6,73.6 93.3,72.9" fill="#a4f618" stroke="#a4f618"/><polygon points="98.2,76 99,76.4 97.3,75.2 96.4,74.8" fill="#2cec1c" stroke="#2cec1c"/><polygon points="96.8,75.4 98.2,76 96.4,74.8 95,74.2" fill="#a4f618" stroke="#a4f618"/><polygon points="100,77.3 100.8,77.6 99,76.4 98.2,76" fill="#2cec1c" stroke="#2cec1c"/><polygon points="98.6,76.7 100,77.3 98.2,76 96.8,75.4" fill="#a4f618" stroke="#a4f618"/><polygon points="101.9,78.5 102.6,78.8 100.8,77.6 100,77.3" fill="#2cec1c" stroke="#2cec1c"/><polygon points="100.5,78 101.9,78.5 100,77.3 98.6,76.7" fill="#a4f618" stroke="#a4f618"/><polygon points="103.8,79.8 104.5,80 102.6,78.8 101.9,78.5" fill="#2cec1c" stroke="#2cec1c"/><polygon points="102.3,79.3 103.8,79.8 101.9,78.5 100.5,78" fill="#a4f618" stroke="#a4f618"/><polygon points="105.7,81.1 106.4,81.3 104.5,80 103.8,79.8" fill="#2cec1c" stroke="#2cec1c"/><polygon points="104.2,80.7 105.7,81.1 103.8,79.8 102.3,79.3" fill="#a4f618" stroke="#a4f618"/><polygon points="107.6,82.4 108.2,82.5 106.4,81.3 105.7,81.1" fill="#2cec1c" stroke="#2cec1c"/><polygon points="106.1,82 107.6,82.4 105.7,81.1 104.2,80.7" fill="#a4f618" stroke="#a4f618"/><polygon points="109.6,83.7 110.2,83.8 108.2,82.5 107.6,82.4" fill="#2cec1c" stroke="#2cec1c"/><polygon points="108.1,83.4 109.6,83.7 107.6,82.4 106.1,82" fill="#a4f618" stroke="#a4f618"/><polygon points="111.6,85 112.1,85.1 110.2,83.8 109.6,83.7" fill="#2cec1c" stroke="#2cec1c"/><polygon points="110,84.8 111.6,85 109.6,83.7 108.1,83.4" fill="#a4f618" stroke="#a4f618"/><polygon points="113.6,86.4 114.1,86.5 112.1,85.1 111.6,85" fill="#2cec1c" stroke="#2cec1c"/><polygon points="112,86.2 113.6,86.4 111.6,85 110,84.8" fill="#a4f618" stroke="#a4f618"/><polygon points="115.6,87.8 116.1,87.8 114.1,86.5 113.6,86.4" fill="#2cec1c" stroke="#2cec1c"/><polygon points="114.1,87.6 115.6,87.8 113.6,86.4 112,86.2" fill="#a4f618" stroke="#a4f618"/><polygon points="117.7,89.1 118.2,89.2 116.1,87.8 115.6,87.8" fill="#2cec1c" stroke="#2cec1c"/><polygon points="116.1,89 117.7,89.1 115.6,87.8 114.1,87.6" fill="#a4f618" stroke="#a4f618"/><polygon points="119.9,90.6 120.3,90.6 118.2,89.2 117.7,89.1" fill="#2cec1c" stroke="#2cec1c"/><polygon points="118.2,90.5 119.9,90.6 117.7,89.1 116.1,89" fill="#a4f618" stroke="#a4f618"/><polygon points="122,92 122.4,92 120.3,90.6 119.9,90.6" fill="#2cec1c" stroke="#2cec1c"/><polygon points="120.3,92 122,92 119.9,90.6 118.2,90.5" fill="#a4f618" stroke="#a4f618"/><polygon points="124.2,93.4 124.5,93.4 122.4,92 122,92" fill="#2cec1c" stroke="#2cec1c"/><polygon points="122.5,93.5 124.2,93.4 122,92 120.3,92" fill="#a4f618" stroke="#a4f618"/><polygon points="126.4,94.9 126.7,94.9 124.5,93.4 124.2,93.4" fill="#2cec1c" stroke="#2cec1c"/><polygon points="124.7,95.1 126.4,94.9 124.2,93.4 122.5,93.5" fill="#a4f618" stroke="#a4f618"/><polygon points="128.7,96.4 128.9,96.3 126.7,94.9 126.4,94.9" fill="#2cec1c" stroke="#2cec1c"/><polygon points="126.9,96.6 128.7,96.4 126.4,94.9 124.7,95.1" fill="#a4f618" stroke="#a4f618"/><polygon points="131,97.9 131.1,97.9 128.9,96.3 128.7,96.4" fill="#2cec1c" stroke="#2cec1c"/><polygon points="129.2,98.2 131,97.9 128.7,96.4 126.9,96.6" fill="#a4f618" stroke="#a4f618"/><polygon points="133.4,99.4 133.4,99.4 131.1,97.9 131,97.9" fill="#2cec1c" stroke="#2cec1c"/><polygon points="131.5,99.8 133.4,99.4 131,97.9 129.2,98.2" fill="#a4f618" stroke="#a4f618"/><polygon points="134.9,100.4 133.4,99.4 133.4,99.4" fill="#2cec1c" stroke="#2cec1c"/><polygon points="133.8,101.5 135.7,100.9 134.9,100.4 133.4,99.4 131.5,99.8" fill="#a4f618" stroke="#a4f618"/><polygon points="136.2,103.1 138.1,102.5 135.7,100.9 133.8,101.5" fill="#a4f618" stroke="#a4f618"/><polygon points="138.6,104.8 140.5,104.1 138.1,102.5 136.2,103.1" fill="#a4f618" stroke="#a4f618"/><polygon points="89.2,70.6 91.5,71.7 89.8,70.5 87.4,69.3" fill="#a4f618" stroke="#a4f618"/><polygon points="90.9,71.9 93.3,72.9 91.5,71.7 89.2,70.6" fill="#a4f618" stroke="#a4f618"/><polygon points="92.7,73.2 95,74.2 93.3,72.9 90.9,71.9" fill="#a4f618" stroke="#a4f618"/><polygon points="94.5,74.5 96.8,75.4 95,74.2 92.7,73.2" fill="#a4f618" stroke="#a4f618"/><polygon points="96.3,75.9 98.6,76.7 96.8,75.4 94.5,74.5" fill="#a4f618" stroke="#a4f618"/><polygon points="98.2,77.2 100.5,78 98.6,76.7 96.3,75.9" fill="#a4f618" stroke="#a4f618"/><polygon points="100.1,78.6 102.3,79.3 100.5,78 98.2,77.2" fill="#a4f618" stroke="#a4f618"/><polygon points="102,80 104.2,80.7 102.3,79.3 100.1,78.6" fill="#a4f618" stroke="#a4f618"/><polygon points="103.9,81.5 106.1,82 104.2,80.7 102,80" fill="#a4f618" stroke="#a4f618"/><polygon points="105.9,82.9 108.1,83.4 106.1,82 103.9,81.5" fill="#a4f618" stroke="#a4f618"/><polygon points="107.9,84.4 110,84.8 108.1,83.4 105.9,82.9" fill="#a4f618" stroke="#a4f618"/><polygon points="109.9,85.9 112,86.2 110,84.8 107.9,84.4" fill="#a4f618" stroke="#a4f618"/><polygon points="111.9,87.4 114.1,87.6 112,86.2 109.9,85.9" fill="#a4f618" stroke="#a4f618"/><polygon points="114,88.9 116.1,89 114.1,87.6 111.9,87.4" fill="#a4f618" stroke="#a4f618"/><polygon points="116.1,90.5 118.2,90.5 116.1,89 114,88.9" fill="#a4f618" stroke="#a4f618"/><polygon points="118.3,92 120.3,92 118.2,90.5 116.1,90.5" fill="#a4f618" stroke="#a4f618"/><polygon points="120.4,93.6 122.5,93.5 120.3,92 118.3,92" fill="#a4f618" stroke="#a4f618"/><polygon points="122.6,95.3 124.7,95.1 122.5,93.5 120.4,93.6" fill="#a4f618" stroke="#a4f618"/><polygon points="124.9,96.9 126.9,96.6 124.7,95.1 122.6,95.3" fill="#a4f618" stroke="#a4f618"/><polygon points="127.2,98.6 129.2,98.2 126.9,96.6 124.9,96.9" fill="#a4f618" stroke="#a4f618"/><polygon points="129.5,100.3 131.5,99.8 129.2,98.2 127.2,98.6" fill="#a4f618" stroke="#a4f618"/><polygon points="131.8,102 133.8,101.5 131.5,99.8 129.5,100.3" fill="#a4f618" stroke="#a4f618"/><polygon points="134.2,103.8 136.2,103.1 133.8,101.5 131.8,102" fill="#a4f618" stroke="#a4f618"/><polygon points="136.6,105.6 138.6,104.8 136.2,103.1 134.2,103.8" fill="#a4f618" stroke="#a4f618"/><polygon points="86.7,69.3 89.2,70.6 87.4,69.3 85,68" fill="#a4f618" stroke="#a4f618"/><polygon points="88.5,70.7 90.9,71.9 89.2,70.6 86.7,69.3" fill="#a4f618" stroke="#a4f618"/><polygon points="90.3,72.1 92.7,73.2 90.9,71.9 88.5,70.7" fill="#a4f618" stroke="#a4f618"/><polygon points="92.1,73.5 94.5,74.5 92.7,73.2 90.3,72.1" fill="#a4f618" stroke="#a4f618"/><polygon points="94,75 96.3,75.9 94.5,74.5 92.1,73.5" fill="#a4f618" stroke="#a4f618"/><polygon points="95.9,76.4 98.2,77.2 96.3,75.9 94,75" fill="#a4f618" stroke="#a4f618"/><polygon points="97.8,77.9 100.1,78.6 98.2,77.2 95.9,76.4" fill="#a4f618" stroke="#a4f618"/><polygon points="99.7,79.4 102,80 100.1,78.6 97.8,77.9" fill="#a4f618" stroke="#a4f618"/><polygon points="101.7,80.9 103.9,81.5 102,80 99.7,79.4" fill="#a4f618" stroke="#a4f618"/><polygon points="103.6,82.4 105.9,82.9 103.9,81.5 101.7,80.9" fill="#a4f618" stroke="#a4f618"/><polygon points="105.7,84 107.9,84.4 105.9,82.9 103.6,82.4" fill="#a4f618" stroke="#a4f618"/><polygon points="107.7,85.6 109.9,85.9 107.9,84.4 105.7,84" fill="#a4f618" stroke="#a4f618"/><polygon points="109.8,87.2 111.9,87.4 109.9,85.9 107.7,85.6" fill="#a4f618" stroke="#a4f618"/><polygon points="111.9,88.8 114,88.9 111.9,87.4 109.8,87.2" fill="#a4f618" stroke="#a4f618"/><polygon points="114,90.4 116.1,90.5 114,88.9 111.9,88.8" fill="#a4f618" stroke="#a4f618"/><polygon points="116.1,92.1 118.3,92 116.1,90.5 114,90.4" fill="#a4f618" stroke="#a4f618"/><polygon points="118.3,93.8 120.4,93.6 118.3,92 116.1,92.1" fill="#a4f618" stroke="#a4f618"/><polygon points="120.5,95.5 122.6,95.3 120.4,93.6 118.3,93.8" fill="#a4f618" stroke="#a4f618"/><polygon points="122.8,97.2 124.9,96.9 122.6,95.3 120.5,95.5" fill="#a4f618" stroke="#a4f618"/><polygon points="125.1,99 127.2,98.6 124.9,96.9 122.8,97.2" fill="#a4f618" stroke="#a4f618"/><polygon points="127.4,100.8 129.5,100.3 127.2,98.6 125.1,99" fill="#a4f618" stroke="#a4f618"/><polygon points="129.7,102.6 131.8,102 129.5,100.3 127.4,100.8" fill="#a4f618" stroke="#a4f618"/><polygon points="132.1,104.4 134.2,103.8 131.8,102 129.7,102.6" fill="#a4f618" stroke="#a4f618"/><polygon points="134.6,106.3 136.6,105.6 134.2,103.8 132.1,104.4" fill="#a4f618" stroke="#a4f618"/><polygon points="86.2,69.1 86.7,69.3 85,68 84.6,67.8" fill="#a4f618" stroke="#a4f618"/><polygon points="84.2,68.1 86.2,69.1 84.6,67.8 82.4,66.7" fill="#fcd816" stroke="#fcd816"/><polygon points="87.8,70.4 88.5,70.7 86.7,69.3 86.2,69.1" fill="#a4f618" stroke="#a4f618"/><polygon points="86,69.6 87.8,70.4 86.2,69.1 84.2,68.1" fill="#fcd816" stroke="#fcd816"/><polygon points="89.4,71.7 90.3,72.1 88.5,70.7 87.8,70.4" fill="#a4f618" stroke="#a4f618"/><polygon points="87.8,71 89.4,71.7 87.8,70.4 86,69.6" fill="#fcd816" stroke="#fcd816"/><polygon points="91.1,73.1 92.1,73.5 90.3,72.1 89.4,71.7" fill="#a4f618" stroke="#a4f618"/><polygon points="89.7,72.5 91.1,73.1 89.4,71.7 87.8,71" fill="#fcd816" stroke="#fcd816"/><polygon points="92.8,74.5 94,75 92.1,73.5 91.1,73.1" fill="#a4f618" stroke="#a4f618"/><polygon points="91.6,74 92.8,74.5 91.1,73.1 89.7,72.5" fill="#fcd816" stroke="#fcd816"/><polygon points="94.5,75.9 95.9,76.4 94,75 92.8,74.5" fill="#a4f618" stroke="#a4f618"/><polygon points="93.5,75.6 94.5,75.9 92.8,74.5 91.6,74" fill="#fcd816" stroke="#fcd816"/><polygon points="96.2,77.4 97.8,77.9 95.9,76.4 94.5,75.9" fill="#a4f618" stroke="#a4f618"/><polygon points="95.4,77.1 96.2,77.4 94.5,75.9 93.5,75.6" fill="#fcd816" stroke="#fcd816"/><polygon points="97.9,78.9 99.7,79.4 97.8,77.9 96.2,77.4" fill="#a4f618" stroke="#a4f618"/><polygon points="97.3,78.7 97.9,78.9 96.2,77.4 95.4,77.1" fill="#fcd816" stroke="#fcd816"/><polygon points="99.6,80.4 101.7,80.9 99.7,79.4 97.9,78.9" fill="#a4f618" stroke="#a4f618"/><polygon points="99.3,80.3 99.6,80.4 97.9,78.9 97.3,78.7" fill="#fcd816" stroke="#fcd816"/><polygon points="101.4,81.9 103.6,82.4 101.7,80.9 99.6,80.4" fill="#a4f618" stroke="#a4f618"/><polygon points="101.3,81.9 101.4,81.9 99.6,80.4 99.3,80.3" fill="#fcd816" stroke="#fcd816"/><polygon points="103.3,83.6 105.7,84 103.6,82.4 101.4,81.9 101.9,82.4" fill="#a4f618" stroke="#a4f618"/><polygon points="101.4,81.9 101.3,81.9 101.9,82.4" fill="#fcd816" stroke="#fcd816"/><polygon points="105.4,85.2 107.7,85.6 105.7,84 103.3,83.6" fill="#a4f618" stroke="#a4f618"/><polygon points="107.5,86.9 109.8,87.2 107.7,85.6 105.4,85.2" fill="#a4f618" stroke="#a4f618"/><polygon points="109.6,88.6 111.9,88.8 109.8,87.2 107.5,86.9" fill="#a4f618" stroke="#a4f618"/><polygon points="111.8,90.4 114,90.4 111.9,88.8 109.6,88.6" fill="#a4f618" stroke="#a4f618"/><polygon points="113.9,92.1 116.1,92.1 114,90.4 111.8,90.4" fill="#a4f618" stroke="#a4f618"/><polygon points="116.1,93.9 118.3,93.8 116.1,92.1 113.9,92.1" fill="#a4f618" stroke="#a4f618"/><polygon points="118.4,95.7 120.5,95.5 118.3,93.8 116.1,93.9" fill="#a4f618" stroke="#a4f618"/><polygon points="120.6,97.5 122.8,97.2 120.5,95.5 118.4,95.7" fill="#a4f618" stroke="#a4f618"/><polygon points="122.9,99.4 125.1,99 122.8,97.2 120.6,97.5" fill="#a4f618" stroke="#a4f618"/><polygon points="125.3,101.3 127.4,100.8 125.1,99 122.9,99.4" fill="#a4f618" stroke="#a4f618"/><polygon points="127.6,103.2 129.7,102.6 127.4,100.8 125.3,101.3" fill="#a4f618" stroke="#a4f618"/><polygon points="130,105.1 132.1,104.4 129.7,102.6 127.6,103.2" fill="#a4f618" stroke="#a4f618"/><polygon points="132.5,107.1 134.6,106.3 132.1,104.4 130,105.1" fill="#a4f618" stroke="#a4f618"/><polygon points="81.6,66.8 84.2,68.1 82.4,66.7 79.8,65.3" fill="#fcd816" stroke="#fcd816"/><polygon points="83.4,68.3 86,69.6 84.2,68.1 81.6,66.8" fill="#fcd816" stroke="#fcd816"/><polygon points="85.3,69.9 87.8,71 86,69.6 83.4,68.3" fill="#fcd816" stroke="#fcd816"/><polygon points="87.1,71.5 89.7,72.5 87.8,71 85.3,69.9" fill="#fcd816" stroke="#fcd816"/><polygon points="89,73.1 91.6,74 89.7,72.5 87.1,71.5" fill="#fcd816" stroke="#fcd816"/><polygon points="91,74.7 93.5,75.6 91.6,74 89,73.1" fill="#fcd816" stroke="#fcd816"/><polygon points="92.9,76.4 95.4,77.1 93.5,75.6 91,74.7" fill="#fcd816" stroke="#fcd816"/><polygon points="94.9,78 97.3,78.7 95.4,77.1 92.9,76.4" fill="#fcd816" stroke="#fcd816"/><polygon points="96.9,79.7 99.3,80.3 97.3,78.7 94.9,78" fill="#fcd816" stroke="#fcd816"/><polygon points="98.9,81.4 101.3,81.9 99.3,80.3 96.9,79.7" fill="#fcd816" stroke="#fcd816"/><polygon points="103.2,83.5 103.3,83.6 101.9,82.4" fill="#a4f618" stroke="#a4f618"/><polygon points="101,83.1 103.2,83.5 101.9,82.4 101.3,81.9 98.9,81.4" fill="#fcd816" stroke="#fcd816"/><polygon points="104.9,85.2 105.4,85.2 103.3,83.6 103.2,83.5" fill="#a4f618" stroke="#a4f618"/><polygon points="103.1,84.9 104.9,85.2 103.2,83.5 101,83.1" fill="#fcd816" stroke="#fcd816"/><polygon points="106.7,86.8 107.5,86.9 105.4,85.2 104.9,85.2" fill="#a4f618" stroke="#a4f618"/><polygon points="105.2,86.7 106.7,86.8 104.9,85.2 103.1,84.9" fill="#fcd816" stroke="#fcd816"/><polygon points="108.5,88.6 109.6,88.6 107.5,86.9 106.7,86.8" fill="#a4f618" stroke="#a4f618"/><polygon points="107.3,88.5 108.5,88.6 106.7,86.8 105.2,86.7" fill="#fcd816" stroke="#fcd816"/><polygon points="110.3,90.3 111.8,90.4 109.6,88.6 108.5,88.6" fill="#a4f618" stroke="#a4f618"/><polygon points="109.5,90.3 110.3,90.3 108.5,88.6 107.3,88.5" fill="#fcd816" stroke="#fcd816"/><polygon points="112.1,92.1 113.9,92.1 111.8,90.4 110.3,90.3" fill="#a4f618" stroke="#a4f618"/><polygon points="111.7,92.2 112.1,92.1 110.3,90.3 109.5,90.3" fill="#fcd816" stroke="#fcd816"/><polygon points="114,94 116.1,93.9 113.9,92.1 112.1,92.1" fill="#a4f618" stroke="#a4f618"/><polygon points="113.9,94 114,94 112.1,92.1 111.7,92.2" fill="#fcd816" stroke="#fcd816"/><polygon points="116.1,95.9 118.4,95.7 116.1,93.9 114,94 114.3,94.4" fill="#a4f618" stroke="#a4f618"/><polygon points="114,94 113.9,94 114.3,94.4" fill="#fcd816" stroke="#fcd816"/><polygon points="118.4,97.9 120.6,97.5 118.4,95.7 116.1,95.9" fill="#a4f618" stroke="#a4f618"/><polygon points="120.7,99.8 122.9,99.4 120.6,97.5 118.4,97.9" fill="#a4f618" stroke="#a4f618"/><polygon points="123.1,101.8 125.3,101.3 122.9,99.4 120.7,99.8" fill="#a4f618" stroke="#a4f618"/><polygon points="125.5,103.8 127.6,103.2 125.3,101.3 123.1,101.8" fill="#a4f618" stroke="#a4f618"/><polygon points="127.9,105.8 130,105.1 127.6,103.2 125.5,103.8" fill="#a4f618" stroke="#a4f618"/><polygon points="130.3,107.9 132.5,107.1 130,105.1 127.9,105.8" fill="#a4f618" stroke="#a4f618"/><polygon points="78.8,65.4 81.6,66.8 79.8,65.3 77.3,64 78.3,65" fill="#fcd816" stroke="#fcd816"/><polygon points="77.3,64 77,63.8 78.3,65" fill="#f57612" stroke="#f57612"/><polygon points="80.7,67.1 83.4,68.3 81.6,66.8 78.8,65.4" fill="#fcd816" stroke="#fcd816"/><polygon points="82.6,68.7 85.3,69.9 83.4,68.3 80.7,67.1" fill="#fcd816" stroke="#fcd816"/><polygon points="84.5,70.4 87.1,71.5 85.3,69.9 82.6,68.7" fill="#fcd816" stroke="#fcd816"/><polygon points="86.4,72.1 89,73.1 87.1,71.5 84.5,70.4" fill="#fcd816" stroke="#fcd816"/><polygon points="88.4,73.8 91,74.7 89,73.1 86.4,72.1" fill="#fcd816" stroke="#fcd816"/><polygon points="90.4,75.6 92.9,76.4 91,74.7 88.4,73.8" fill="#fcd816" stroke="#fcd816"/><polygon points="92.4,77.3 94.9,78 92.9,76.4 90.4,75.6" fill="#fcd816" stroke="#fcd816"/><polygon points="94.4,79.1 96.9,79.7 94.9,78 92.4,77.3" fill="#fcd816" stroke="#fcd816"/><polygon points="96.4,80.9 98.9,81.4 96.9,79.7 94.4,79.1" fill="#fcd816" stroke="#fcd816"/><polygon points="98.5,82.7 101,83.1 98.9,81.4 96.4,80.9" fill="#fcd816" stroke="#fcd816"/><polygon points="100.6,84.6 103.1,84.9 101,83.1 98.5,82.7" fill="#fcd816" stroke="#fcd816"/><polygon points="102.7,86.4 105.2,86.7 103.1,84.9 100.6,84.6" fill="#fcd816" stroke="#fcd816"/><polygon points="104.9,88.3 107.3,88.5 105.2,86.7 102.7,86.4" fill="#fcd816" stroke="#fcd816"/><polygon points="107.1,90.2 109.5,90.3 107.3,88.5 104.9,88.3" fill="#fcd816" stroke="#fcd816"/><polygon points="109.3,92.2 111.7,92.2 109.5,90.3 107.1,90.2" fill="#fcd816" stroke="#fcd816"/><polygon points="111.6,94.2 113.9,94 111.7,92.2 109.3,92.2" fill="#fcd816" stroke="#fcd816"/><polygon points="115.8,96 116.1,95.9 114.3,94.4" fill="#a4f618" stroke="#a4f618"/><polygon points="113.8,96.2 115.8,96 114.3,94.4 113.9,94 111.6,94.2" fill="#fcd816" stroke="#fcd816"/><polygon points="117.6,98 118.4,97.9 116.1,95.9 115.8,96" fill="#a4f618" stroke="#a4f618"/><polygon points="116.1,98.2 117.6,98 115.8,96 113.8,96.2" fill="#fcd816" stroke="#fcd816"/><polygon points="119.4,100.1 120.7,99.8 118.4,97.9 117.6,98" fill="#a4f618" stroke="#a4f618"/><polygon points="118.5,100.2 119.4,100.1 117.6,98 116.1,98.2" fill="#fcd816" stroke="#fcd816"/><polygon points="121.1,102.2 123.1,101.8 120.7,99.8 119.4,100.1" fill="#a4f618" stroke="#a4f618"/><polygon points="120.8,102.3 121.1,102.2 119.4,100.1 118.5,100.2" fill="#fcd816" stroke="#fcd816"/><polygon points="123.2,104.4 125.5,103.8 123.1,101.8 121.1,102.2 121.9,103.3" fill="#a4f618" stroke="#a4f618"/><polygon points="121.1,102.2 120.8,102.3 121.9,103.3" fill="#fcd816" stroke="#fcd816"/><polygon points="125.7,106.5 127.9,105.8 125.5,103.8 123.2,104.4" fill="#a4f618" stroke="#a4f618"/><polygon points="128.1,108.7 130.3,107.9 127.9,105.8 125.7,106.5" fill="#a4f618" stroke="#a4f618"/><polygon points="78.7,65.4 78.8,65.4 78.3,65" fill="#fcd816" stroke="#fcd816"/><polygon points="76,64 78.7,65.4 78.3,65 77,63.8 74.1,62.3" fill="#f57612" stroke="#f57612"/><polygon points="80.2,66.8 80.7,67.1 78.8,65.4 78.7,65.4" fill="#fcd816" stroke="#fcd816"/><polygon points="77.9,65.8 80.2,66.8 78.7,65.4 76,64" fill="#f57612" stroke="#f57612"/><polygon points="81.7,68.3 82.6,68.7 80.7,67.1 80.2,66.8" fill="#fcd816" stroke="#fcd816"/><polygon points="79.8,67.5 81.7,68.3 80.2,66.8 77.9,65.8" fill="#f57612" stroke="#f57612"/><polygon points="83.2,69.9 84.5,70.4 82.6,68.7 81.7,68.3" fill="#fcd816" stroke="#fcd816"/><polygon points="81.8,69.3 83.2,69.9 81.7,68.3 79.8,67.5" fill="#f57612" stroke="#f57612"/><polygon points="84.7,71.4 86.4,72.1 84.5,70.4 83.2,69.9" fill="#fcd816" stroke="#fcd816"/><polygon points="83.7,71.1 84.7,71.4 83.2,69.9 81.8,69.3" fill="#f57612" stroke="#f57612"/><polygon points="86.2,73 88.4,73.8 86.4,72.1 84.7,71.4" fill="#fcd816" stroke="#fcd816"/><polygon points="85.7,72.9 86.2,73 84.7,71.4 83.7,71.1" fill="#f57612" stroke="#f57612"/><polygon points="87.7,74.7 90.4,75.6 88.4,73.8 86.2,73 87.6,74.6" fill="#fcd816" stroke="#fcd816"/><polygon points="86.2,73 85.7,72.9 87.6,74.6" fill="#f57612" stroke="#f57612"/><polygon points="89.7,76.6 92.4,77.3 90.4,75.6 87.7,74.7" fill="#fcd816" stroke="#fcd816"/><polygon points="91.8,78.4 94.4,79.1 92.4,77.3 89.7,76.6" fill="#fcd816" stroke="#fcd816"/><polygon points="93.9,80.3 96.4,80.9 94.4,79.1 91.8,78.4" fill="#fcd816" stroke="#fcd816"/><polygon points="96,82.3 98.5,82.7 96.4,80.9 93.9,80.3" fill="#fcd816" stroke="#fcd816"/><polygon points="98.1,84.2 100.6,84.6 98.5,82.7 96,82.3" fill="#fcd816" stroke="#fcd816"/><polygon points="100.3,86.2 102.7,86.4 100.6,84.6 98.1,84.2" fill="#fcd816" stroke="#fcd816"/><polygon points="102.4,88.2 104.9,88.3 102.7,86.4 100.3,86.2" fill="#fcd816" stroke="#fcd816"/><polygon points="104.6,90.2 107.1,90.2 104.9,88.3 102.4,88.2" fill="#fcd816" stroke="#fcd816"/><polygon points="106.9,92.2 109.3,92.2 107.1,90.2 104.6,90.2" fill="#fcd816" stroke="#fcd816"/><polygon points="109.2,94.3 111.6,94.2 109.3,92.2 106.9,92.2" fill="#fcd816" stroke="#fcd816"/><polygon points="111.5,96.4 113.8,96.2 111.6,94.2 109.2,94.3" fill="#fcd816" stroke="#fcd816"/><polygon points="113.8,98.5 116.1,98.2 113.8,96.2 111.5,96.4" fill="#fcd816" stroke="#fcd816"/><polygon points="116.1,100.7 118.5,100.2 116.1,98.2 113.8,98.5" fill="#fcd816" stroke="#fcd816"/><polygon points="118.5,102.8 120.8,102.3 118.5,100.2 116.1,100.7" fill="#fcd816" stroke="#fcd816"/><polygon points="122.9,104.5 123.2,104.4 121.9,103.3" fill="#a4f618" stroke="#a4f618"/><polygon points="120.9,105.1 122.9,104.5 121.9,103.3 120.8,102.3 118.5,102.8" fill="#fcd816" stroke="#fcd816"/><polygon points="124.6,106.9 125.7,106.5 123.2,104.4 122.9,104.5" fill="#a4f618" stroke="#a4f618"/><polygon points="123.4,107.3 124.6,106.9 122.9,104.5 120.9,105.1" fill="#fcd816" stroke="#fcd816"/><polygon points="126.2,109.4 128.1,108.7 125.7,106.5 124.6,106.9" fill="#a4f618" stroke="#a4f618"/><polygon points="125.9,109.6 126.2,109.4 124.6,106.9 123.4,107.3" fill="#fcd816" stroke="#fcd816"/><polygon points="73.1,62.6 76,64 74.1,62.3 71.2,60.8" fill="#f57612" stroke="#f57612"/><polygon points="75,64.4 77.9,65.8 76,64 73.1,62.6" fill="#f57612" stroke="#f57612"/><polygon points="77,66.3 79.8,67.5 77.9,65.8 75,64.4" fill="#f57612" stroke="#f57612"/><polygon points="78.9,68.1 81.8,69.3 79.8,67.5 77,66.3" fill="#f57612" stroke="#f57612"/><polygon points="80.9,70 83.7,71.1 81.8,69.3 78.9,68.1" fill="#f57612" stroke="#f57612"/><polygon points="82.9,71.9 85.7,72.9 83.7,71.1 80.9,70" fill="#f57612" stroke="#f57612"/><polygon points="87.7,74.7 87.7,74.7 87.6,74.6" fill="#fcd816" stroke="#fcd816"/><polygon points="85,73.8 87.7,74.7 87.6,74.6 85.7,72.9 82.9,71.9" fill="#f57612" stroke="#f57612"/><polygon points="89.2,76.4 89.7,76.6 87.7,74.7 87.7,74.7" fill="#fcd816" stroke="#fcd816"/><polygon points="87,75.8 89.2,76.4 87.7,74.7 85,73.8" fill="#f57612" stroke="#f57612"/><polygon points="90.7,78.2 91.8,78.4 89.7,76.6 89.2,76.4" fill="#fcd816" stroke="#fcd816"/><polygon points="89.1,77.8 90.7,78.2 89.2,76.4 87,75.8" fill="#f57612" stroke="#f57612"/><polygon points="92.2,80 93.9,80.3 91.8,78.4 90.7,78.2" fill="#fcd816" stroke="#fcd816"/><polygon points="91.2,79.8 92.2,80 90.7,78.2 89.1,77.8" fill="#f57612" stroke="#f57612"/><polygon points="93.6,81.8 96,82.3 93.9,80.3 92.2,80" fill="#fcd816" stroke="#fcd816"/><polygon points="93.3,81.8 93.6,81.8 92.2,80 91.2,79.8" fill="#f57612" stroke="#f57612"/><polygon points="95.5,83.8 98.1,84.2 96,82.3 93.6,81.8 94.3,82.7" fill="#fcd816" stroke="#fcd816"/><polygon points="93.6,81.8 93.3,81.8 94.3,82.7" fill="#f57612" stroke="#f57612"/><polygon points="97.7,85.9 100.3,86.2 98.1,84.2 95.5,83.8" fill="#fcd816" stroke="#fcd816"/><polygon points="99.9,88 102.4,88.2 100.3,86.2 97.7,85.9" fill="#fcd816" stroke="#fcd816"/><polygon points="102.1,90.1 104.6,90.2 102.4,88.2 99.9,88" fill="#fcd816" stroke="#fcd816"/><polygon points="104.4,92.3 106.9,92.2 104.6,90.2 102.1,90.1" fill="#fcd816" stroke="#fcd816"/><polygon points="106.7,94.4 109.2,94.3 106.9,92.2 104.4,92.3" fill="#fcd816" stroke="#fcd816"/><polygon points="109,96.6 111.5,96.4 109.2,94.3 106.7,94.4" fill="#fcd816" stroke="#fcd816"/><polygon points="111.3,98.9 113.8,98.5 111.5,96.4 109,96.6" fill="#fcd816" stroke="#fcd816"/><polygon points="113.7,101.1 116.1,100.7 113.8,98.5 111.3,98.9" fill="#fcd816" stroke="#fcd816"/><polygon points="116.1,103.4 118.5,102.8 116.1,100.7 113.7,101.1" fill="#fcd816" stroke="#fcd816"/><polygon points="118.6,105.7 120.9,105.1 118.5,102.8 116.1,103.4" fill="#fcd816" stroke="#fcd816"/><polygon points="121,108.1 123.4,107.3 120.9,105.1 118.6,105.7" fill="#fcd816" stroke="#fcd816"/><polygon points="123.5,110.4 125.9,109.6 123.4,107.3 121,108.1" fill="#fcd816" stroke="#fcd816"/><polygon points="70.5,61.3 73.1,62.6 71.2,60.8 69.2,59.7" fill="#f57612" stroke="#f57612"/><polygon points="70,61.1 70.5,61.3 69.2,59.7 68.1,59.2" fill="#ee0a12" stroke="#ee0a12"/><polygon points="72,63 75,64.4 73.1,62.6 70.5,61.3 71.3,62.3" fill="#f57612" stroke="#f57612"/><polygon points="70.5,61.3 70,61.1 71.3,62.3" fill="#ee0a12" stroke="#ee0a12"/><polygon points="74,65 77,66.3 75,64.4 72,63" fill="#f57612" stroke="#f57612"/><polygon points="76,66.9 78.9,68.1 77,66.3 74,65" fill="#f57612" stroke="#f57612"/><polygon points="78,68.9 80.9,70 78.9,68.1 76,66.9" fill="#f57612" stroke="#f57612"/><polygon points="80,70.9 82.9,71.9 80.9,70 78,68.9" fill="#f57612" stroke="#f57612"/><polygon points="82.1,72.9 85,73.8 82.9,71.9 80,70.9" fill="#f57612" stroke="#f57612"/><polygon points="84.2,75 87,75.8 85,73.8 82.1,72.9" fill="#f57612" stroke="#f57612"/><polygon points="86.3,77.1 89.1,77.8 87,75.8 84.2,75" fill="#f57612" stroke="#f57612"/><polygon points="88.4,79.2 91.2,79.8 89.1,77.8 86.3,77.1" fill="#f57612" stroke="#f57612"/><polygon points="90.6,81.3 93.3,81.8 91.2,79.8 88.4,79.2" fill="#f57612" stroke="#f57612"/><polygon points="95.1,83.8 95.5,83.8 94.3,82.7" fill="#fcd816" stroke="#fcd816"/><polygon points="92.8,83.5 95.1,83.8 94.3,82.7 93.3,81.8 90.6,81.3" fill="#f57612" stroke="#f57612"/><polygon points="96.6,85.8 97.7,85.9 95.5,83.8 95.1,83.8" fill="#fcd816" stroke="#fcd816"/><polygon points="95,85.6 96.6,85.8 95.1,83.8 92.8,83.5" fill="#f57612" stroke="#f57612"/><polygon points="98,87.9 99.9,88 97.7,85.9 96.6,85.8" fill="#fcd816" stroke="#fcd816"/><polygon points="97.3,87.8 98,87.9 96.6,85.8 95,85.6" fill="#f57612" stroke="#f57612"/><polygon points="99.5,90.1 102.1,90.1 99.9,88 98,87.9 99.2,89.7" fill="#fcd816" stroke="#fcd816"/><polygon points="98,87.9 97.3,87.8 99.2,89.7" fill="#f57612" stroke="#f57612"/><polygon points="101.8,92.3 104.4,92.3 102.1,90.1 99.5,90.1" fill="#fcd816" stroke="#fcd816"/><polygon points="104.1,94.6 106.7,94.4 104.4,92.3 101.8,92.3" fill="#fcd816" stroke="#fcd816"/><polygon points="106.5,96.9 109,96.6 106.7,94.4 104.1,94.6" fill="#fcd816" stroke="#fcd816"/><polygon points="108.8,99.2 111.3,98.9 109,96.6 106.5,96.9" fill="#fcd816" stroke="#fcd816"/><polygon points="111.2,101.6 113.7,101.1 111.3,98.9 108.8,99.2" fill="#fcd816" stroke="#fcd816"/><polygon points="113.7,104 116.1,103.4 113.7,101.1 111.2,101.6" fill="#fcd816" stroke="#fcd816"/><polygon points="116.1,106.4 118.6,105.7 116.1,103.4 113.7,104" fill="#fcd816" stroke="#fcd816"/><polygon points="118.6,108.8 121,108.1 118.6,105.7 116.1,106.4" fill="#fcd816" stroke="#fcd816"/><polygon points="121.1,111.3 123.5,110.4 121,108.1 118.6,108.8" fill="#fcd816" stroke="#fcd816"/><polygon points="66.9,59.5 70,61.1 68.1,59.2 64.9,57.5" fill="#ee0a12" stroke="#ee0a12"/><polygon points="71.7,62.9 72,63 71.3,62.3" fill="#f57612" stroke="#f57612"/><polygon points="68.8,61.5 71.7,62.9 71.3,62.3 70,61.1 66.9,59.5" fill="#ee0a12" stroke="#ee0a12"/><polygon points="73,64.5 74,65 72,63 71.7,62.9" fill="#f57612" stroke="#f57612"/><polygon points="70.9,63.6 73,64.5 71.7,62.9 68.8,61.5" fill="#ee0a12" stroke="#ee0a12"/><polygon points="74.3,66.2 76,66.9 74,65 73,64.5" fill="#f57612" stroke="#f57612"/><polygon points="72.9,65.7 74.3,66.2 73,64.5 70.9,63.6" fill="#ee0a12" stroke="#ee0a12"/><polygon points="75.6,68 78,68.9 76,66.9 74.3,66.2" fill="#f57612" stroke="#f57612"/><polygon points="75,67.8 75.6,68 74.3,66.2 72.9,65.7" fill="#ee0a12" stroke="#ee0a12"/><polygon points="77,69.9 80,70.9 78,68.9 75.6,68 76.5,69.3" fill="#f57612" stroke="#f57612"/><polygon points="75.6,68 75,67.8 76.5,69.3" fill="#ee0a12" stroke="#ee0a12"/><polygon points="79.1,72 82.1,72.9 80,70.9 77,69.9" fill="#f57612" stroke="#f57612"/><polygon points="81.3,74.2 84.2,75 82.1,72.9 79.1,72" fill="#f57612" stroke="#f57612"/><polygon points="83.4,76.4 86.3,77.1 84.2,75 81.3,74.2" fill="#f57612" stroke="#f57612"/><polygon points="85.6,78.6 88.4,79.2 86.3,77.1 83.4,76.4" fill="#f57612" stroke="#f57612"/><polygon points="87.8,80.8 90.6,81.3 88.4,79.2 85.6,78.6" fill="#f57612" stroke="#f57612"/><polygon points="90,83.1 92.8,83.5 90.6,81.3 87.8,80.8" fill="#f57612" stroke="#f57612"/><polygon points="92.3,85.3 95,85.6 92.8,83.5 90,83.1" fill="#f57612" stroke="#f57612"/><polygon points="94.5,87.7 97.3,87.8 95,85.6 92.3,85.3" fill="#f57612" stroke="#f57612"/><polygon points="99.4,90.1 99.5,90.1 99.2,89.7" fill="#fcd816" stroke="#fcd816"/><polygon points="96.8,90 99.4,90.1 99.2,89.7 97.3,87.8 94.5,87.7" fill="#f57612" stroke="#f57612"/><polygon points="100.8,92.3 101.8,92.3 99.5,90.1 99.4,90.1" fill="#fcd816" stroke="#fcd816"/><polygon points="99.1,92.4 100.8,92.3 99.4,90.1 96.8,90" fill="#f57612" stroke="#f57612"/><polygon points="102.1,94.7 104.1,94.6 101.8,92.3 100.8,92.3" fill="#fcd816" stroke="#fcd816"/><polygon points="101.5,94.7 102.1,94.7 100.8,92.3 99.1,92.4" fill="#f57612" stroke="#f57612"/><polygon points="103.9,97.2 106.5,96.9 104.1,94.6 102.1,94.7 102.8,96" fill="#fcd816" stroke="#fcd816"/><polygon points="102.1,94.7 101.5,94.7 102.8,96" fill="#f57612" stroke="#f57612"/><polygon points="106.3,99.6 108.8,99.2 106.5,96.9 103.9,97.2" fill="#fcd816" stroke="#fcd816"/><polygon points="108.7,102.1 111.2,101.6 108.8,99.2 106.3,99.6" fill="#fcd816" stroke="#fcd816"/><polygon points="111.1,104.6 113.7,104 111.2,101.6 108.7,102.1" fill="#fcd816" stroke="#fcd816"/><polygon points="113.6,107.1 116.1,106.4 113.7,104 111.1,104.6" fill="#fcd816" stroke="#fcd816"/><polygon points="116.1,109.6 118.6,108.8 116.1,106.4 113.6,107.1" fill="#fcd816" stroke="#fcd816"/><polygon points="118.7,112.2 121.1,111.3 118.6,108.8 116.1,109.6" fill="#fcd816" stroke="#fcd816"/><polygon points="63.5,57.9 66.9,59.5 64.9,57.5 61.5,55.7" fill="#ee0a12" stroke="#ee0a12"/><polygon points="65.6,60 68.8,61.5 66.9,59.5 63.5,57.9" fill="#ee0a12" stroke="#ee0a12"/><polygon points="67.6,62.2 70.9,63.6 68.8,61.5 65.6,60" fill="#ee0a12" stroke="#ee0a12"/><polygon points="69.7,64.4 72.9,65.7 70.9,63.6 67.6,62.2" fill="#ee0a12" stroke="#ee0a12"/><polygon points="71.8,66.6 75,67.8 72.9,65.7 69.7,64.4" fill="#ee0a12" stroke="#ee0a12"/><polygon points="76.8,69.8 77,69.9 76.5,69.3" fill="#f57612" stroke="#f57612"/><polygon points="73.9,68.8 76.8,69.8 76.5,69.3 75,67.8 71.8,66.6" fill="#ee0a12" stroke="#ee0a12"/><polygon points="78.1,71.7 79.1,72 77,69.9 76.8,69.8" fill="#f57612" stroke="#f57612"/><polygon points="76.1,71 78.1,71.7 76.8,69.8 73.9,68.8" fill="#ee0a12" stroke="#ee0a12"/><polygon points="79.3,73.6 81.3,74.2 79.1,72 78.1,71.7" fill="#f57612" stroke="#f57612"/><polygon points="78.2,73.3 79.3,73.6 78.1,71.7 76.1,71" fill="#ee0a12" stroke="#ee0a12"/><polygon points="80.5,75.6 83.4,76.4 81.3,74.2 79.3,73.6" fill="#f57612" stroke="#f57612"/><polygon points="80.4,75.6 80.5,75.6 79.3,73.6 78.2,73.3" fill="#ee0a12" stroke="#ee0a12"/><polygon points="82.6,77.9 85.6,78.6 83.4,76.4 80.5,75.6 80.5,75.7" fill="#f57612" stroke="#f57612"/><polygon points="80.5,75.6 80.4,75.6 80.5,75.7" fill="#ee0a12" stroke="#ee0a12"/><polygon points="84.9,80.3 87.8,80.8 85.6,78.6 82.6,77.9" fill="#f57612" stroke="#f57612"/><polygon points="87.1,82.7 90,83.1 87.8,80.8 84.9,80.3" fill="#f57612" stroke="#f57612"/><polygon points="89.4,85.1 92.3,85.3 90,83.1 87.1,82.7" fill="#f57612" stroke="#f57612"/><polygon points="91.7,87.5 94.5,87.7 92.3,85.3 89.4,85.1" fill="#f57612" stroke="#f57612"/><polygon points="94,89.9 96.8,90 94.5,87.7 91.7,87.5" fill="#f57612" stroke="#f57612"/><polygon points="96.4,92.4 99.1,92.4 96.8,90 94,89.9" fill="#f57612" stroke="#f57612"/><polygon points="98.8,94.9 101.5,94.7 99.1,92.4 96.4,92.4" fill="#f57612" stroke="#f57612"/><polygon points="103.3,97.2 103.9,97.2 102.8,96" fill="#fcd816" stroke="#fcd816"/><polygon points="101.2,97.4 103.3,97.2 102.8,96 101.5,94.7 98.8,94.9" fill="#f57612" stroke="#f57612"/><polygon points="104.5,99.8 106.3,99.6 103.9,97.2 103.3,97.2" fill="#fcd816" stroke="#fcd816"/><polygon points="103.6,100 104.5,99.8 103.3,97.2 101.2,97.4" fill="#f57612" stroke="#f57612"/><polygon points="106,102.6 108.7,102.1 106.3,99.6 104.5,99.8 105.3,101.8" fill="#fcd816" stroke="#fcd816"/><polygon points="104.5,99.8 103.6,100 105.3,101.8" fill="#f57612" stroke="#f57612"/><polygon points="108.5,105.2 111.1,104.6 108.7,102.1 106,102.6" fill="#fcd816" stroke="#fcd816"/><polygon points="111,107.8 113.6,107.1 111.1,104.6 108.5,105.2" fill="#fcd816" stroke="#fcd816"/><polygon points="113.6,110.5 116.1,109.6 113.6,107.1 111,107.8" fill="#fcd816" stroke="#fcd816"/><polygon points="116.1,113.2 118.7,112.2 116.1,109.6 113.6,110.5" fill="#fcd816" stroke="#fcd816"/></g>
<g fill="#222" stroke="#222" stroke-width="0.28" font-size="10" dominant-baseline="central"><text transform="matrix(0.502 -0.330 0.121 0.429 63.7 112.9)" text-anchor="end">2500</text><text transform="matrix(0.502 0.330 -0.121 0.429 168.5 112.9)" text-anchor="start">2500</text><text transform="matrix(0.574 -0.351 0.147 0.516 59.6 100.5)" text-anchor="end">3000</text><text transform="matrix(0.574 0.351 -0.147 0.516 172.7 100.5)" text-anchor="start">3000</text><text transform="matrix(0.659 -0.370 0.180 0.626 54.8 86.2)" text-anchor="end">3500</text><text transform="matrix(0.659 0.370 -0.180 0.626 177.4 86.2)" text-anchor="start">3500</text><text transform="matrix(0.760 -0.383 0.223 0.767 49.3 69.5)" text-anchor="end">4000</text><text transform="matrix(0.760 0.383 -0.223 0.767 183 69.5)" text-anchor="start">4000</text><text transform="matrix(0.206 0.489 -0.703 0.406 33.9 103.9)" text-anchor="middle">CLEU</text><text transform="matrix(0.206 -0.489 0.703 0.406 198.4 103.9)" text-anchor="middle">CLEU</text><text transform="matrix(0.752 -0.333 0.125 0.480 50.9 48.1)" text-anchor="middle">-1.0</text><text transform="matrix(0.752 0.333 -0.125 0.480 181.4 48.1)" text-anchor="middle">-1.0</text><text transform="matrix(0.685 -0.305 0.091 0.470 66.2 41.7)" text-anchor="middle">-0.5</text><text transform="matrix(0.685 0.305 -0.091 0.470 166.1 41.7)" text-anchor="middle">-0.5</text><text transform="matrix(0.624 -0.278 0.061 0.459 81 35.5)" text-anchor="middle">0.0</text><text transform="matrix(0.624 0.278 -0.061 0.459 151.3 35.5)" text-anchor="middle">0.0</text><text transform="matrix(0.573 -0.254 0.036 0.451 94.4 28.8)" text-anchor="middle">0.5</text><text transform="matrix(0.573 0.254 -0.036 0.451 137.9 28.8)" text-anchor="middle">0.5</text><text transform="matrix(0.528 -0.233 0.015 0.443 106.5 22.9)" text-anchor="middle">1.0</text><text transform="matrix(0.528 0.233 -0.015 0.443 125.8 22.9)" text-anchor="middle">1.0</text><text transform="matrix(0.617 -0.259 0.073 0.467 74.3 30.1)" text-anchor="middle">Time</text><text transform="matrix(0.624 0.262 -0.073 0.472 158 30.1)" text-anchor="middle">s:l ratio</text><text transform="matrix(0.362 0.362 -0.531 0.362 63.8 120.6)" text-anchor="middle">1.0</text><text transform="matrix(0.391 0.390 -0.538 0.390 72.3 129.3)" text-anchor="middle">0.5</text><text transform="matrix(0.424 0.425 -0.544 0.425 82 139.3)" text-anchor="middle">0.0</text><text transform="matrix(0.464 0.465 -0.548 0.465 93.2 150.5)" text-anchor="middle">-0.5</text><text transform="matrix(0.506 0.505 -0.550 0.505 104.8 161.4)" text-anchor="middle">-1.0</text><text transform="matrix(0.359 -0.356 0.527 0.356 168.6 118.8)" text-anchor="middle">1.0</text><text transform="matrix(0.390 -0.390 0.538 0.390 160 129.3)" text-anchor="middle">0.5</text><text transform="matrix(0.425 -0.425 0.543 0.425 149.8 139.4)" text-anchor="middle">0.0</text><text transform="matrix(0.464 -0.466 0.549 0.466 139.3 150.8)" text-anchor="middle">-0.5</text><text transform="matrix(0.507 -0.508 0.552 0.508 127.9 162)" text-anchor="middle">-1.0</text><text transform="matrix(0.434 0.469 -0.600 0.469 71.8 147.3)" text-anchor="middle">s:l ratio</text><text transform="matrix(0.437 -0.467 0.595 0.467 158.7 146.7)" text-anchor="middle">Time</text></g>
</g>
<text x="243" y="183.6" font-size="11.4" font-weight="bold" fill="#111">E</text>
<g transform="translate(473.2 177.3)">
<g fill="none" stroke="#efefef" stroke-width="0.6"><path d="M120.7 153.9L70.8 108.3"/><path d="M111.6 153.9L161.5 108.3"/><path d="M70.8 108.3L57.5 52.2"/><path d="M161.5 108.3L174.8 52.2"/><path d="M132.6 142.7L82.5 100.6"/><path d="M99.7 142.7L149.8 100.6"/><path d="M82.5 100.6L73 45"/><path d="M149.8 100.6L159.2 45"/><path d="M143.5 132.4L93.3 93.5"/><path d="M88.8 132.4L139 93.5"/><path d="M93.3 93.5L87.2 38.4"/><path d="M139 93.5L145.1 38.4"/><path d="M153.5 122.9L103.4 86.8"/><path d="M78.8 122.9L128.8 86.8"/><path d="M103.4 86.8L100.2 32.4"/><path d="M128.8 86.8L132.1 32.4"/><path d="M162.7 114.1L112.9 80.6"/><path d="M69.5 114.1L119.4 80.6"/><path d="M112.9 80.6L112.1 26.9"/><path d="M119.4 80.6L120.2 26.9"/><path d="M64 102.1L116.1 69.5"/><path d="M116.1 69.5L168.3 102.1"/><path d="M60 87.2L116.1 55"/><path d="M116.1 55L172.2 87.2"/><path d="M55.4 69.8L116.1 38.6"/><path d="M116.1 38.6L176.9 69.8"/></g><g fill="none" stroke="#e5e5e5" stroke-width="0.7"><path d="M66.4 111.2L116.1 158.2"/><path d="M116.1 158.2L165.9 111.2"/><path d="M165.9 111.2L116.1 78.5"/><path d="M116.1 78.5L66.4 111.2"/><path d="M66.4 111.2L51.5 55"/><path d="M165.9 111.2L180.8 55"/><path d="M116.1 78.5L116.1 25"/><path d="M51.5 55L116.1 25"/><path d="M116.1 25L180.8 55"/></g>
<g stroke-width="0.3" stroke-linejoin="round"><polygon points="116.1,83 73.8,110.3 83.8,115.2 86.9,111.2 90.1,107.6 93.3,104.3 98.2,99.6 103,95.3 107.8,91.2 114,86.2 121.6,80.3" fill="#1266ec" stroke="#1266ec"/><polygon points="93.3,104.2 90,107.6 88.4,109.4 85.3,113.1 83.8,115.2 92.8,119.5 93.7,116.8 94.8,114.3 95.9,111.9 97.1,109.7 99.7,105.5 101,103.6 103.8,100 108.1,95 112.4,90.4 118.2,84.8 125.3,78.4 121.5,80.3 112.5,87.4 106.2,92.5 101.4,96.6 96.5,101.1" fill="#14dcf6" stroke="#14dcf6"/><polygon points="101,103.6 98.3,107.5 97.1,109.7 95.9,111.9 94.7,114.3 93.7,116.8 92.8,119.5 103.6,124.8 103.8,121.2 104.2,117.9 104.7,114.9 105.4,112.1 106.2,109.5 107.1,107 108.1,104.7 110.2,100.5 111.5,98.4 113.9,94.6 115.1,92.8 117.7,89.4 120.3,86.2 122.9,83.2 125.6,80.4 129.5,76.3 125.3,78.4 121,82.1 116.7,86.1 112.4,90.3 108,94.9 103.8,99.9" fill="#10eea2" stroke="#10eea2"/><polygon points="110.2,100.5 108.1,104.7 107.1,107 106.2,109.5 105.4,112.1 104.7,114.9 104.1,117.9 103.7,121.2 103.6,124.8 114.7,130.2 114,125.6 113.7,122 113.6,118.6 113.7,115 114.1,111.4 114.7,107.7 115.7,103.8 116.7,100.8 117.6,98.5 119.5,94.3 121.3,90.9 122.8,88.5 125.1,85 127.5,81.7 129.9,78.6 133.6,74.3 129.5,76.3 125.5,80.3 122.9,83.2 118.9,87.8 115.1,92.8 112.6,96.4" fill="#0eec40" stroke="#0eec40"/><polygon points="117.5,98.5 116.6,100.8 115.8,103.2 115.1,105.8 114.5,108.5 114,111.4 113.6,115 113.5,118.6 113.6,121.6 113.9,125.4 114.4,128.8 114.7,130.1 116.1,130.8 131.6,109.5 131.4,105 131.5,101.8 131.7,98.9 132,96.1 132.4,93.5 133,91 133.6,88.6 135.1,84.3 135.9,82.2 137.3,79 139.7,74.6 142.5,69.8 133.6,74.3 132.3,75.7 129.9,78.6 127.4,81.7 123.9,86.7 121.6,90.3 120.5,92.2 118.9,95.4" fill="#2cec1c" stroke="#2cec1c"/><polygon points="135.4,83.2 134.3,86.4 133.6,88.6 132.9,91 132.4,93.5 131.9,96.1 131.6,98.9 131.4,102.4 131.4,106 131.6,109.5 148.8,86 149.1,81.2 149.4,78.6 150.1,74.8 150.8,72 151.4,70 152.4,67.1 153.5,64.3 142.5,69.8 140.5,73 138.5,76.5 136.7,80.2" fill="#a4f618" stroke="#a4f618"/><polygon points="153.5,64.3 152.4,67 151.4,70 150.8,72 150.1,74.8 149.4,78.6 149,81.2 148.8,83.7 148.8,86 161.5,68.5 161.8,65.9 162.1,63.7 163,59.6" fill="#fcd816" stroke="#fcd816"/><polygon points="170.8,55.8 170.7,55.7 162.9,59.6 162,63.7 161.7,65.8 161.4,68.5" fill="#f57612" stroke="#f57612"/></g>
<g fill="#222" stroke="#222" stroke-width="0.28" font-size="10" dominant-baseline="central"><text transform="matrix(0.553 -0.346 0.139 0.490 60.8 104.1)" text-anchor="end">2000</text><text transform="matrix(0.553 0.346 -0.139 0.490 171.5 104.1)" text-anchor="start">2000</text><text transform="matrix(0.639 -0.366 0.172 0.600 55.9 89.5)" text-anchor="end">2500</text><text transform="matrix(0.639 0.366 -0.172 0.600 176.3 89.5)" text-anchor="start">2500</text><text transform="matrix(0.742 -0.381 0.216 0.741 50.3 72.4)" text-anchor="end">3000</text><text transform="matrix(0.742 0.381 -0.216 0.741 182 72.4)" text-anchor="start">3000</text><text transform="matrix(0.206 0.489 -0.703 0.406 33.9 103.9)" text-anchor="middle">CLEU</text><text transform="matrix(0.206 -0.489 0.703 0.406 198.4 103.9)" text-anchor="middle">CLEU</text><text transform="matrix(0.752 -0.333 0.125 0.480 50.9 48.1)" text-anchor="middle">-1.0</text><text transform="matrix(0.752 0.333 -0.125 0.480 181.4 48.1)" text-anchor="middle">-1.0</text><text transform="matrix(0.685 -0.305 0.091 0.470 66.2 41.7)" text-anchor="middle">-0.5</text><text transform="matrix(0.685 0.305 -0.091 0.470 166.1 41.7)" text-anchor="middle">-0.5</text><text transform="matrix(0.624 -0.278 0.061 0.459 81 35.5)" text-anchor="middle">0.0</text><text transform="matrix(0.624 0.278 -0.061 0.459 151.3 35.5)" text-anchor="middle">0.0</text><text transform="matrix(0.573 -0.254 0.036 0.451 94.4 28.8)" text-anchor="middle">0.5</text><text transform="matrix(0.573 0.254 -0.036 0.451 137.9 28.8)" text-anchor="middle">0.5</text><text transform="matrix(0.528 -0.233 0.015 0.443 106.5 22.9)" text-anchor="middle">1.0</text><text transform="matrix(0.528 0.233 -0.015 0.443 125.8 22.9)" text-anchor="middle">1.0</text><text transform="matrix(0.617 -0.259 0.073 0.467 74.3 30.1)" text-anchor="middle">Time</text><text transform="matrix(0.624 0.262 -0.073 0.472 158 30.1)" text-anchor="middle">s:l ratio</text><text transform="matrix(0.362 0.362 -0.531 0.362 63.8 120.6)" text-anchor="middle">1.0</text><text transform="matrix(0.391 0.390 -0.538 0.390 72.3 129.3)" text-anchor="middle">0.5</text><text transform="matrix(0.424 0.425 -0.544 0.425 82 139.3)" text-anchor="middle">0.0</text><text transform="matrix(0.464 0.465 -0.548 0.465 93.2 150.5)" text-anchor="middle">-0.5</text><text transform="matrix(0.506 0.505 -0.550 0.505 104.8 161.4)" text-anchor="middle">-1.0</text><text transform="matrix(0.359 -0.356 0.527 0.356 168.6 118.8)" text-anchor="middle">1.0</text><text transform="matrix(0.390 -0.390 0.538 0.390 160 129.3)" text-anchor="middle">0.5</text><text transform="matrix(0.425 -0.425 0.543 0.425 149.8 139.4)" text-anchor="middle">0.0</text><text transform="matrix(0.464 -0.466 0.549 0.466 139.3 150.8)" text-anchor="middle">-0.5</text><text transform="matrix(0.507 -0.508 0.552 0.508 127.9 162)" text-anchor="middle">-1.0</text><text transform="matrix(0.434 0.469 -0.600 0.469 71.8 147.3)" text-anchor="middle">s:l ratio</text><text transform="matrix(0.437 -0.467 0.595 0.467 158.7 146.7)" text-anchor="middle">Time</text></g>
</g>
<text x="483.9" y="183.6" font-size="11.4" font-weight="bold" fill="#111">F</text>
<g transform="translate(-0.8 354.4)">
<g fill="none" stroke="#efefef" stroke-width="0.6"><path d="M120.7 153.9L70.8 108.3"/><path d="M111.6 153.9L161.5 108.3"/><path d="M70.8 108.3L57.5 52.2"/><path d="M161.5 108.3L174.8 52.2"/><path d="M132.6 142.7L82.5 100.6"/><path d="M99.7 142.7L149.8 100.6"/><path d="M82.5 100.6L73 45"/><path d="M149.8 100.6L159.2 45"/><path d="M143.5 132.4L93.3 93.5"/><path d="M88.8 132.4L139 93.5"/><path d="M93.3 93.5L87.2 38.4"/><path d="M139 93.5L145.1 38.4"/><path d="M153.5 122.9L103.4 86.8"/><path d="M78.8 122.9L128.8 86.8"/><path d="M103.4 86.8L100.2 32.4"/><path d="M128.8 86.8L132.1 32.4"/><path d="M162.7 114.1L112.9 80.6"/><path d="M69.5 114.1L119.4 80.6"/><path d="M112.9 80.6L112.1 26.9"/><path d="M119.4 80.6L120.2 26.9"/><path d="M66.7 112.2L116.1 79.5"/><path d="M116.1 79.5L165.6 112.2"/><path d="M64.2 102.8L116.1 70.1"/><path d="M116.1 70.1L168.1 102.8"/><path d="M61.4 92.3L116.1 59.9"/><path d="M116.1 59.9L170.9 92.3"/><path d="M58.3 80.6L116.1 48.7"/><path d="M116.1 48.7L174 80.6"/><path d="M54.8 67.5L116.1 36.5"/><path d="M116.1 36.5L177.5 67.5"/></g><g fill="none" stroke="#e5e5e5" stroke-width="0.7"><path d="M66.4 111.2L116.1 158.2"/><path d="M116.1 158.2L165.9 111.2"/><path d="M165.9 111.2L116.1 78.5"/><path d="M116.1 78.5L66.4 111.2"/><path d="M66.4 111.2L51.5 55"/><path d="M165.9 111.2L180.8 55"/><path d="M116.1 78.5L116.1 25"/><path d="M51.5 55L116.1 25"/><path d="M116.1 25L180.8 55"/></g>
<g stroke-width="0.3" stroke-linejoin="round"><polygon points="73.6,106.1 73,107 116.2,151.6 123.4,138.9 109.9,129.4 97.2,120.9 85.1,113.1" fill="#1266ec" stroke="#1266ec"/><polygon points="80.7,94.7 73.6,106.1 83.2,111.9 95.1,119.6 107.7,128 123.4,138.9 129.7,127.7 116.2,118.3 103.7,109.7 91.5,101.6" fill="#14dcf6" stroke="#14dcf6"/><polygon points="87.9,83.2 80.7,94.7 90,100.6 101.6,108.4 114.1,116.8 129.7,127.7 136.3,116.3 110.1,98.2 98.7,90.4" fill="#10eea2" stroke="#10eea2"/><polygon points="95.2,71.6 87.9,83.2 108.3,97 136.3,116.3 142.9,104.5" fill="#0eec40" stroke="#0eec40"/><polygon points="102.5,60 95.2,71.7 142.9,104.6 149.8,92.5 123.9,74.9 112.7,67.1" fill="#2cec1c" stroke="#2cec1c"/><polygon points="109.9,48.2 102.5,60 112.6,67.2 123.8,74.9 138.3,84.8 149.8,92.5 156.9,80.1 143.1,71.1 130.8,62.9 119.8,55.3" fill="#a4f618" stroke="#a4f618"/><polygon points="116.1,38.2 109.8,48.3 119.7,55.3 130.8,62.9 143.1,71.1 156.9,80.2 164.1,67.4 152.4,60 141.9,53.2 132.3,46.9 122.9,40.4" fill="#fcd816" stroke="#fcd816"/><polygon points="122.9,40.4 132.2,46.9 141.8,53.3 152.4,60.1 164.1,67.5 170.8,55.8" fill="#f57612" stroke="#f57612"/></g>
<g fill="#222" stroke="#222" stroke-width="0.28" font-size="10" dominant-baseline="central"><text transform="matrix(0.496 -0.328 0.119 0.422 64.1 114)" text-anchor="end">40000</text><text transform="matrix(0.496 0.328 -0.119 0.422 168.2 114)" text-anchor="start">40000</text><text transform="matrix(0.549 -0.345 0.138 0.486 61 104.7)" text-anchor="end">45000</text><text transform="matrix(0.549 0.345 -0.138 0.486 171.3 104.7)" text-anchor="start">45000</text><text transform="matrix(0.609 -0.360 0.161 0.561 57.6 94.5)" text-anchor="end">50000</text><text transform="matrix(0.609 0.360 -0.161 0.561 174.7 94.5)" text-anchor="start">50000</text><text transform="matrix(0.678 -0.373 0.188 0.652 53.8 83)" text-anchor="end">55000</text><text transform="matrix(0.678 0.373 -0.188 0.652 178.5 83)" text-anchor="start">55000</text><text transform="matrix(0.756 -0.382 0.222 0.761 49.5 70.2)" text-anchor="end">60000</text><text transform="matrix(0.756 0.382 -0.222 0.761 182.8 70.2)" text-anchor="start">60000</text><text transform="matrix(0.218 0.488 -0.718 0.415 30 106.3)" text-anchor="middle">DPPH</text><text transform="matrix(0.218 -0.488 0.718 0.415 202.3 106.3)" text-anchor="middle">DPPH</text><text transform="matrix(0.752 -0.333 0.125 0.480 50.9 48.1)" text-anchor="middle">-1.0</text><text transform="matrix(0.752 0.333 -0.125 0.480 181.4 48.1)" text-anchor="middle">-1.0</text><text transform="matrix(0.685 -0.305 0.091 0.470 66.2 41.7)" text-anchor="middle">-0.5</text><text transform="matrix(0.685 0.305 -0.091 0.470 166.1 41.7)" text-anchor="middle">-0.5</text><text transform="matrix(0.624 -0.278 0.061 0.459 81 35.5)" text-anchor="middle">0.0</text><text transform="matrix(0.624 0.278 -0.061 0.459 151.3 35.5)" text-anchor="middle">0.0</text><text transform="matrix(0.573 -0.254 0.036 0.451 94.4 28.8)" text-anchor="middle">0.5</text><text transform="matrix(0.573 0.254 -0.036 0.451 137.9 28.8)" text-anchor="middle">0.5</text><text transform="matrix(0.528 -0.233 0.015 0.443 106.5 22.9)" text-anchor="middle">1.0</text><text transform="matrix(0.528 0.233 -0.015 0.443 125.8 22.9)" text-anchor="middle">1.0</text><text transform="matrix(0.617 -0.259 0.073 0.467 74.3 30.1)" text-anchor="middle">Time</text><text transform="matrix(0.624 0.262 -0.073 0.472 158 30.1)" text-anchor="middle">s:l ratio</text><text transform="matrix(0.362 0.362 -0.531 0.362 63.8 120.6)" text-anchor="middle">1.0</text><text transform="matrix(0.391 0.390 -0.538 0.390 72.3 129.3)" text-anchor="middle">0.5</text><text transform="matrix(0.424 0.425 -0.544 0.425 82 139.3)" text-anchor="middle">0.0</text><text transform="matrix(0.464 0.465 -0.548 0.465 93.2 150.5)" text-anchor="middle">-0.5</text><text transform="matrix(0.506 0.505 -0.550 0.505 104.8 161.4)" text-anchor="middle">-1.0</text><text transform="matrix(0.359 -0.356 0.527 0.356 168.6 118.8)" text-anchor="middle">1.0</text><text transform="matrix(0.390 -0.390 0.538 0.390 160 129.3)" text-anchor="middle">0.5</text><text transform="matrix(0.425 -0.425 0.543 0.425 149.8 139.4)" text-anchor="middle">0.0</text><text transform="matrix(0.464 -0.466 0.549 0.466 139.3 150.8)" text-anchor="middle">-0.5</text><text transform="matrix(0.507 -0.508 0.552 0.508 127.9 162)" text-anchor="middle">-1.0</text><text transform="matrix(0.434 0.469 -0.600 0.469 71.8 147.3)" text-anchor="middle">s:l ratio</text><text transform="matrix(0.437 -0.467 0.595 0.467 158.7 146.7)" text-anchor="middle">Time</text></g>
</g>
<text x="7.7" y="367.7" font-size="11.4" font-weight="bold" fill="#111">G</text>
<g transform="translate(236.2 354.4)">
<g fill="none" stroke="#efefef" stroke-width="0.6"><path d="M120.7 153.9L70.8 108.3"/><path d="M111.6 153.9L161.5 108.3"/><path d="M70.8 108.3L57.5 52.2"/><path d="M161.5 108.3L174.8 52.2"/><path d="M132.6 142.7L82.5 100.6"/><path d="M99.7 142.7L149.8 100.6"/><path d="M82.5 100.6L73 45"/><path d="M149.8 100.6L159.2 45"/><path d="M143.5 132.4L93.3 93.5"/><path d="M88.8 132.4L139 93.5"/><path d="M93.3 93.5L87.2 38.4"/><path d="M139 93.5L145.1 38.4"/><path d="M153.5 122.9L103.4 86.8"/><path d="M78.8 122.9L128.8 86.8"/><path d="M103.4 86.8L100.2 32.4"/><path d="M128.8 86.8L132.1 32.4"/><path d="M162.7 114.1L112.9 80.6"/><path d="M69.5 114.1L119.4 80.6"/><path d="M112.9 80.6L112.1 26.9"/><path d="M119.4 80.6L120.2 26.9"/><path d="M64.8 105.4L116.1 72.7"/><path d="M116.1 72.7L167.4 105.4"/><path d="M61.4 92.4L116.1 60"/><path d="M116.1 60L170.9 92.4"/><path d="M57.5 77.5L116.1 45.9"/><path d="M116.1 45.9L174.8 77.5"/><path d="M52.9 60.4L116.1 29.9"/><path d="M116.1 29.9L179.3 60.4"/></g><g fill="none" stroke="#e5e5e5" stroke-width="0.7"><path d="M66.4 111.2L116.1 158.2"/><path d="M116.1 158.2L165.9 111.2"/><path d="M165.9 111.2L116.1 78.5"/><path d="M116.1 78.5L66.4 111.2"/><path d="M66.4 111.2L51.5 55"/><path d="M165.9 111.2L180.8 55"/><path d="M116.1 78.5L116.1 25"/><path d="M51.5 55L116.1 25"/><path d="M116.1 25L180.8 55"/></g>
<g stroke-width="0.35" stroke-linejoin="round"><polygon points="152.9,97.1 153.3,97.1 151.6,96.6" fill="#10eea2" stroke="#10eea2"/><polygon points="155.1,97.8 156.1,97.8 153.3,97.1 152.9,97.1" fill="#10eea2" stroke="#10eea2"/><polygon points="157.4,98.6 158.7,98.5 157.6,98.1 156.1,97.8 155.1,97.8" fill="#10eea2" stroke="#10eea2"/><polygon points="159.7,99.3 161,99.2 158.7,98.5 157.4,98.6" fill="#10eea2" stroke="#10eea2"/><polygon points="147.2,95.6 147.8,95.6 145.2,94.8" fill="#10eea2" stroke="#10eea2"/><polygon points="149.4,96.3 150.5,96.3 147.8,95.6 147.2,95.6" fill="#10eea2" stroke="#10eea2"/><polygon points="151.5,97.1 152.9,97.1 151.6,96.6 150.5,96.3 149.4,96.3" fill="#10eea2" stroke="#10eea2"/><polygon points="153.8,97.8 155.1,97.8 152.9,97.1 151.5,97.1" fill="#10eea2" stroke="#10eea2"/><polygon points="156,98.6 157.4,98.6 155.1,97.8 153.8,97.8" fill="#10eea2" stroke="#10eea2"/><polygon points="158.3,99.4 159.7,99.3 157.4,98.6 156,98.6" fill="#10eea2" stroke="#10eea2"/><polygon points="139.6,93.2 139.9,93.2 138.4,92.8" fill="#10eea2" stroke="#10eea2"/><polygon points="141.6,93.9 142.5,94 139.9,93.2 139.6,93.2" fill="#10eea2" stroke="#10eea2"/><polygon points="143.7,94.7 145.1,94.8 142.5,94 141.6,93.9" fill="#10eea2" stroke="#10eea2"/><polygon points="145.8,95.5 147.2,95.6 145.2,94.8 145.1,94.8 143.7,94.7" fill="#10eea2" stroke="#10eea2"/><polygon points="147.9,96.3 149.4,96.3 147.2,95.6 145.8,95.5" fill="#10eea2" stroke="#10eea2"/><polygon points="150.1,97.1 151.5,97.1 149.4,96.3 147.9,96.3" fill="#10eea2" stroke="#10eea2"/><polygon points="152.4,97.9 153.8,97.8 151.5,97.1 150.1,97.1" fill="#10eea2" stroke="#10eea2"/><polygon points="154.6,98.7 156,98.6 153.8,97.8 152.4,97.9" fill="#10eea2" stroke="#10eea2"/><polygon points="157.3,99.5 158.3,99.4 156,98.6 154.6,98.7 155.6,99.1" fill="#10eea2" stroke="#10eea2"/><polygon points="157,99.6 157.3,99.5 155.6,99.1" fill="#0eec40" stroke="#0eec40"/><polygon points="132.1,90.7 132.4,90.8 131.2,90.4" fill="#10eea2" stroke="#10eea2"/><polygon points="134.1,91.5 134.8,91.6 132.4,90.8 132.1,90.7" fill="#10eea2" stroke="#10eea2"/><polygon points="136.1,92.2 137.3,92.4 134.8,91.6 134.1,91.5" fill="#10eea2" stroke="#10eea2"/><polygon points="138.1,93 139.6,93.2 138.4,92.8 137.3,92.4 136.1,92.2" fill="#10eea2" stroke="#10eea2"/><polygon points="140.1,93.8 141.6,93.9 139.6,93.2 138.1,93" fill="#10eea2" stroke="#10eea2"/><polygon points="142.2,94.6 143.7,94.7 141.6,93.9 140.1,93.8" fill="#10eea2" stroke="#10eea2"/><polygon points="144.3,95.4 145.8,95.5 143.7,94.7 142.2,94.6" fill="#10eea2" stroke="#10eea2"/><polygon points="146.5,96.2 147.9,96.3 145.8,95.5 144.3,95.4" fill="#10eea2" stroke="#10eea2"/><polygon points="148.7,97.1 150.1,97.1 147.9,96.3 146.5,96.2 148.6,97.1" fill="#10eea2" stroke="#10eea2"/><polygon points="148.7,97.1 148.7,97.1 148.6,97.1" fill="#0eec40" stroke="#0eec40"/><polygon points="151.5,97.9 152.4,97.9 150.1,97.1 148.7,97.1" fill="#10eea2" stroke="#10eea2"/><polygon points="150.9,97.9 151.5,97.9 148.7,97.1 148.7,97.1" fill="#0eec40" stroke="#0eec40"/><polygon points="154.4,98.7 154.6,98.7 152.4,97.9 151.5,97.9" fill="#10eea2" stroke="#10eea2"/><polygon points="153.2,98.8 154.4,98.7 151.5,97.9 150.9,97.9" fill="#0eec40" stroke="#0eec40"/><polygon points="155.6,99.1 154.6,98.7 154.4,98.7" fill="#10eea2" stroke="#10eea2"/><polygon points="155.6,99.7 157,99.6 155.6,99.1 154.4,98.7 153.2,98.8" fill="#0eec40" stroke="#0eec40"/><polygon points="124.9,88.2 125.3,88.3 123.6,87.7" fill="#10eea2" stroke="#10eea2"/><polygon points="126.8,88.9 127.6,89.1 125.3,88.3 124.9,88.2" fill="#10eea2" stroke="#10eea2"/><polygon points="128.6,89.7 130,90 127.6,89.1 126.8,88.9" fill="#10eea2" stroke="#10eea2"/><polygon points="130.6,90.4 132.1,90.7 131.2,90.4 130,90 128.6,89.7" fill="#10eea2" stroke="#10eea2"/><polygon points="132.5,91.2 134.1,91.5 132.1,90.7 130.6,90.4" fill="#10eea2" stroke="#10eea2"/><polygon points="134.5,92 136.1,92.2 134.1,91.5 132.5,91.2" fill="#10eea2" stroke="#10eea2"/><polygon points="136.5,92.8 138.1,93 136.1,92.2 134.5,92" fill="#10eea2" stroke="#10eea2"/><polygon points="138.6,93.6 140.1,93.8 138.1,93 136.5,92.8" fill="#10eea2" stroke="#10eea2"/><polygon points="140.7,94.5 142.2,94.6 140.1,93.8 138.6,93.6" fill="#10eea2" stroke="#10eea2"/><polygon points="143.2,95.3 144.3,95.4 142.2,94.6 140.7,94.5 141.2,94.7" fill="#10eea2" stroke="#10eea2"/><polygon points="142.8,95.3 143.2,95.3 141.2,94.7" fill="#0eec40" stroke="#0eec40"/><polygon points="145.9,96.2 146.5,96.2 144.3,95.4 143.2,95.3" fill="#10eea2" stroke="#10eea2"/><polygon points="145,96.2 145.9,96.2 143.2,95.3 142.8,95.3" fill="#0eec40" stroke="#0eec40"/><polygon points="148.6,97.1 146.5,96.2 145.9,96.2" fill="#10eea2" stroke="#10eea2"/><polygon points="147.2,97.1 148.7,97.1 148.6,97.1 145.9,96.2 145,96.2" fill="#0eec40" stroke="#0eec40"/><polygon points="149.5,98 150.9,97.9 148.7,97.1 147.2,97.1" fill="#0eec40" stroke="#0eec40"/><polygon points="151.8,98.9 153.2,98.8 150.9,97.9 149.5,98" fill="#0eec40" stroke="#0eec40"/><polygon points="154.1,99.8 155.6,99.7 153.2,98.8 151.8,98.9" fill="#0eec40" stroke="#0eec40"/><polygon points="116.1,84.8 116.3,84.8 115.6,84.6" fill="#10eea2" stroke="#10eea2"/><polygon points="117.9,85.5 118.5,85.7 116.3,84.8 116.1,84.8" fill="#10eea2" stroke="#10eea2"/><polygon points="119.6,86.2 120.7,86.6 118.5,85.7 117.9,85.5" fill="#10eea2" stroke="#10eea2"/><polygon points="121.4,87 123,87.4 120.7,86.6 119.6,86.2" fill="#10eea2" stroke="#10eea2"/><polygon points="123.3,87.8 124.9,88.2 123.6,87.7 123,87.4 121.4,87" fill="#10eea2" stroke="#10eea2"/><polygon points="125.1,88.5 126.8,88.9 124.9,88.2 123.3,87.8" fill="#10eea2" stroke="#10eea2"/><polygon points="127,89.3 128.6,89.7 126.8,88.9 125.1,88.5" fill="#10eea2" stroke="#10eea2"/><polygon points="128.9,90.1 130.6,90.4 128.6,89.7 127,89.3" fill="#10eea2" stroke="#10eea2"/><polygon points="130.9,90.9 132.5,91.2 130.6,90.4 128.9,90.1" fill="#10eea2" stroke="#10eea2"/><polygon points="132.9,91.8 134.5,92 132.5,91.2 130.9,90.9" fill="#10eea2" stroke="#10eea2"/><polygon points="135.3,92.7 136.5,92.8 134.5,92 132.9,91.8 133.2,91.9" fill="#10eea2" stroke="#10eea2"/><polygon points="134.9,92.6 135.3,92.7 133.2,91.9" fill="#0eec40" stroke="#0eec40"/><polygon points="137.9,93.6 138.6,93.6 136.5,92.8 135.3,92.7" fill="#10eea2" stroke="#10eea2"/><polygon points="137,93.5 137.9,93.6 135.3,92.7 134.9,92.6" fill="#0eec40" stroke="#0eec40"/><polygon points="140.5,94.5 140.7,94.5 138.6,93.6 137.9,93.6" fill="#10eea2" stroke="#10eea2"/><polygon points="139.1,94.3 140.5,94.5 137.9,93.6 137,93.5" fill="#0eec40" stroke="#0eec40"/><polygon points="141.2,94.7 140.7,94.5 140.5,94.5" fill="#10eea2" stroke="#10eea2"/><polygon points="141.2,95.2 142.8,95.3 141.2,94.7 140.5,94.5 139.1,94.3" fill="#0eec40" stroke="#0eec40"/><polygon points="143.4,96.1 145,96.2 142.8,95.3 141.2,95.2" fill="#0eec40" stroke="#0eec40"/><polygon points="145.7,97.1 147.2,97.1 145,96.2 143.4,96.1" fill="#0eec40" stroke="#0eec40"/><polygon points="147.9,98 149.5,98 147.2,97.1 145.7,97.1" fill="#0eec40" stroke="#0eec40"/><polygon points="150.3,99 151.8,98.9 149.5,98 147.9,98" fill="#0eec40" stroke="#0eec40"/><polygon points="152.6,100 154.1,99.8 151.8,98.9 150.3,99" fill="#0eec40" stroke="#0eec40"/><polygon points="107.7,81.3 107.9,81.4 107,81" fill="#0a9d6a" stroke="#0a9d6a"/><polygon points="109.3,82 109.9,82.2 107.9,81.4 107.7,81.3" fill="#0a9d6a" stroke="#0a9d6a"/><polygon points="111,82.7 112,83.1 109.9,82.2 109.3,82" fill="#0a9d6a" stroke="#0a9d6a"/><polygon points="112.7,83.5 114.1,84 112,83.1 111,82.7" fill="#10eea2" stroke="#10eea2"/><polygon points="114.4,84.2 116.1,84.8 115.6,84.6 114.1,84 112.7,83.5" fill="#10eea2" stroke="#10eea2"/><polygon points="116.1,85 117.9,85.5 116.1,84.8 114.4,84.2" fill="#10eea2" stroke="#10eea2"/><polygon points="117.9,85.7 119.6,86.2 117.9,85.5 116.1,85" fill="#10eea2" stroke="#10eea2"/><polygon points="119.7,86.5 121.4,87 119.6,86.2 117.9,85.7" fill="#10eea2" stroke="#10eea2"/><polygon points="121.6,87.3 123.3,87.8 121.4,87 119.7,86.5" fill="#10eea2" stroke="#10eea2"/><polygon points="123.4,88.1 125.1,88.5 123.3,87.8 121.6,87.3" fill="#10eea2" stroke="#10eea2"/><polygon points="125.5,89 127,89.3 125.1,88.5 123.4,88.1 124.7,88.7" fill="#10eea2" stroke="#10eea2"/><polygon points="125.3,88.9 125.5,89 124.7,88.7" fill="#0eec40" stroke="#0eec40"/><polygon points="127.9,89.9 128.9,90.1 127,89.3 125.5,89" fill="#10eea2" stroke="#10eea2"/><polygon points="127.3,89.8 127.9,89.9 125.5,89 125.3,88.9" fill="#0eec40" stroke="#0eec40"/><polygon points="130.3,90.8 130.9,90.9 128.9,90.1 127.9,89.9" fill="#10eea2" stroke="#10eea2"/><polygon points="129.2,90.6 130.3,90.8 127.9,89.9 127.3,89.8" fill="#0eec40" stroke="#0eec40"/><polygon points="132.8,91.7 132.9,91.8 130.9,90.9 130.3,90.8" fill="#10eea2" stroke="#10eea2"/><polygon points="131.2,91.5 132.8,91.7 130.3,90.8 129.2,90.6" fill="#0eec40" stroke="#0eec40"/><polygon points="133.2,91.9 132.9,91.8 132.8,91.7" fill="#10eea2" stroke="#10eea2"/><polygon points="133.3,92.4 134.9,92.6 133.2,91.9 132.8,91.7 131.2,91.5" fill="#0eec40" stroke="#0eec40"/><polygon points="135.4,93.3 137,93.5 134.9,92.6 133.3,92.4" fill="#0eec40" stroke="#0eec40"/><polygon points="137.5,94.2 139.1,94.3 137,93.5 135.4,93.3" fill="#0eec40" stroke="#0eec40"/><polygon points="139.7,95.2 141.2,95.2 139.1,94.3 137.5,94.2" fill="#0eec40" stroke="#0eec40"/><polygon points="141.9,96.1 143.4,96.1 141.2,95.2 139.7,95.2" fill="#0eec40" stroke="#0eec40"/><polygon points="144.1,97.1 145.7,97.1 143.4,96.1 141.9,96.1" fill="#0eec40" stroke="#0eec40"/><polygon points="146.5,98.1 147.9,98 145.7,97.1 144.1,97.1 145.9,97.9" fill="#0eec40" stroke="#0eec40"/><polygon points="146.4,98.1 146.5,98.1 145.9,97.9" fill="#2cec1c" stroke="#2cec1c"/><polygon points="149.3,99 150.3,99 147.9,98 146.5,98.1" fill="#0eec40" stroke="#0eec40"/><polygon points="148.7,99.1 149.3,99 146.5,98.1 146.4,98.1" fill="#2cec1c" stroke="#2cec1c"/><polygon points="152.2,100 152.6,100 150.3,99 149.3,99" fill="#0eec40" stroke="#0eec40"/><polygon points="151.1,100.1 152.2,100 149.3,99 148.7,99.1" fill="#2cec1c" stroke="#2cec1c"/><polygon points="104.2,79.8 105.8,80.5 103.8,79.6 102.6,79.1" fill="#0a9d6a" stroke="#0a9d6a"/><polygon points="105.8,80.6 107.7,81.3 107,81 105.8,80.5 104.2,79.8" fill="#0a9d6a" stroke="#0a9d6a"/><polygon points="107.5,81.3 109.3,82 107.7,81.3 105.8,80.6" fill="#0a9d6a" stroke="#0a9d6a"/><polygon points="109.2,82.1 111,82.7 109.3,82 107.5,81.3" fill="#10eea2" stroke="#10eea2"/><polygon points="110.9,82.8 112.7,83.5 111,82.7 109.2,82.1" fill="#10eea2" stroke="#10eea2"/><polygon points="112.6,83.6 114.4,84.2 112.7,83.5 110.9,82.8" fill="#10eea2" stroke="#10eea2"/><polygon points="114.3,84.4 116.1,85 114.4,84.2 112.6,83.6" fill="#10eea2" stroke="#10eea2"/><polygon points="116.3,85.2 117.9,85.7 116.1,85 114.3,84.4 115.6,85" fill="#10eea2" stroke="#10eea2"/><polygon points="116.1,85.2 116.3,85.2 115.6,85" fill="#0eec40" stroke="#0eec40"/><polygon points="118.5,86.2 119.7,86.5 117.9,85.7 116.3,85.2" fill="#10eea2" stroke="#10eea2"/><polygon points="118,86 118.5,86.2 116.3,85.2 116.1,85.2" fill="#0eec40" stroke="#0eec40"/><polygon points="120.8,87.1 121.6,87.3 119.7,86.5 118.5,86.2" fill="#10eea2" stroke="#10eea2"/><polygon points="119.8,86.9 120.8,87.1 118.5,86.2 118,86" fill="#0eec40" stroke="#0eec40"/><polygon points="123.1,88 123.4,88.1 121.6,87.3 120.8,87.1" fill="#10eea2" stroke="#10eea2"/><polygon points="121.7,87.7 123.1,88 120.8,87.1 119.8,86.9" fill="#0eec40" stroke="#0eec40"/><polygon points="124.7,88.7 123.4,88.1 123.1,88" fill="#10eea2" stroke="#10eea2"/><polygon points="123.6,88.6 125.3,88.9 124.7,88.7 123.1,88 121.7,87.7" fill="#0eec40" stroke="#0eec40"/><polygon points="125.5,89.5 127.3,89.8 125.3,88.9 123.6,88.6" fill="#0eec40" stroke="#0eec40"/><polygon points="127.5,90.3 129.2,90.6 127.3,89.8 125.5,89.5" fill="#0eec40" stroke="#0eec40"/><polygon points="129.6,91.3 131.2,91.5 129.2,90.6 127.5,90.3" fill="#0eec40" stroke="#0eec40"/><polygon points="131.6,92.2 133.3,92.4 131.2,91.5 129.6,91.3" fill="#0eec40" stroke="#0eec40"/><polygon points="133.7,93.1 135.4,93.3 133.3,92.4 131.6,92.2" fill="#0eec40" stroke="#0eec40"/><polygon points="135.8,94.1 137.5,94.2 135.4,93.3 133.7,93.1" fill="#0eec40" stroke="#0eec40"/><polygon points="138.2,95.1 139.7,95.2 137.5,94.2 135.8,94.1 137,94.6" fill="#0eec40" stroke="#0eec40"/><polygon points="138,95.1 138.2,95.1 137,94.6" fill="#2cec1c" stroke="#2cec1c"/><polygon points="140.9,96.1 141.9,96.1 139.7,95.2 138.2,95.1" fill="#0eec40" stroke="#0eec40"/><polygon points="140.2,96.1 140.9,96.1 138.2,95.1 138,95.1" fill="#2cec1c" stroke="#2cec1c"/><polygon points="143.7,97.1 144.1,97.1 141.9,96.1 140.9,96.1" fill="#0eec40" stroke="#0eec40"/><polygon points="142.5,97.1 143.7,97.1 140.9,96.1 140.2,96.1" fill="#2cec1c" stroke="#2cec1c"/><polygon points="145.9,97.9 144.1,97.1 143.7,97.1" fill="#0eec40" stroke="#0eec40"/><polygon points="144.8,98.1 146.4,98.1 145.9,97.9 143.7,97.1 142.5,97.1" fill="#2cec1c" stroke="#2cec1c"/><polygon points="147.1,99.2 148.7,99.1 146.4,98.1 144.8,98.1" fill="#2cec1c" stroke="#2cec1c"/><polygon points="149.5,100.2 151.1,100.1 148.7,99.1 147.1,99.2" fill="#2cec1c" stroke="#2cec1c"/><polygon points="102.3,79 104.2,79.8 102.6,79.1 100.7,78.3" fill="#0a9d6a" stroke="#0a9d6a"/><polygon points="103.9,79.8 105.8,80.6 104.2,79.8 102.3,79" fill="#0a9d6a" stroke="#0a9d6a"/><polygon points="105.6,80.6 107.5,81.3 105.8,80.6 103.9,79.8" fill="#10eea2" stroke="#10eea2"/><polygon points="107.6,81.5 109.2,82.1 107.5,81.3 105.6,80.6 105.9,80.7" fill="#10eea2" stroke="#10eea2"/><polygon points="107.3,81.4 107.6,81.5 105.9,80.7" fill="#0eec40" stroke="#0eec40"/><polygon points="109.7,82.4 110.9,82.8 109.2,82.1 107.6,81.5" fill="#10eea2" stroke="#10eea2"/><polygon points="109,82.2 109.7,82.4 107.6,81.5 107.3,81.4" fill="#0eec40" stroke="#0eec40"/><polygon points="111.9,83.4 112.6,83.6 110.9,82.8 109.7,82.4" fill="#10eea2" stroke="#10eea2"/><polygon points="110.7,83 111.9,83.4 109.7,82.4 109,82.2" fill="#0eec40" stroke="#0eec40"/><polygon points="114,84.3 114.3,84.4 112.6,83.6 111.9,83.4" fill="#10eea2" stroke="#10eea2"/><polygon points="112.5,83.8 114,84.3 111.9,83.4 110.7,83" fill="#0eec40" stroke="#0eec40"/><polygon points="115.6,85 114.3,84.4 114,84.3" fill="#10eea2" stroke="#10eea2"/><polygon points="114.3,84.7 116.1,85.2 115.6,85 114,84.3 112.5,83.8" fill="#0eec40" stroke="#0eec40"/><polygon points="116.1,85.5 118,86 116.1,85.2 114.3,84.7" fill="#0eec40" stroke="#0eec40"/><polygon points="118,86.4 119.8,86.9 118,86 116.1,85.5" fill="#0eec40" stroke="#0eec40"/><polygon points="119.9,87.3 121.7,87.7 119.8,86.9 118,86.4" fill="#0eec40" stroke="#0eec40"/><polygon points="121.8,88.2 123.6,88.6 121.7,87.7 119.9,87.3" fill="#0eec40" stroke="#0eec40"/><polygon points="123.8,89.1 125.5,89.5 123.6,88.6 121.8,88.2" fill="#0eec40" stroke="#0eec40"/><polygon points="125.8,90 127.5,90.3 125.5,89.5 123.8,89.1" fill="#0eec40" stroke="#0eec40"/><polygon points="127.9,91 129.6,91.3 127.5,90.3 125.8,90 127.4,90.8" fill="#0eec40" stroke="#0eec40"/><polygon points="127.8,91 127.9,91 127.4,90.8" fill="#2cec1c" stroke="#2cec1c"/><polygon points="130.4,92 131.6,92.2 129.6,91.3 127.9,91" fill="#0eec40" stroke="#0eec40"/><polygon points="129.9,92 130.4,92 127.9,91 127.8,91" fill="#2cec1c" stroke="#2cec1c"/><polygon points="133,93 133.7,93.1 131.6,92.2 130.4,92" fill="#0eec40" stroke="#0eec40"/><polygon points="132,92.9 133,93 130.4,92 129.9,92" fill="#2cec1c" stroke="#2cec1c"/><polygon points="135.6,94.1 135.8,94.1 133.7,93.1 133,93" fill="#0eec40" stroke="#0eec40"/><polygon points="134.1,94 135.6,94.1 133,93 132,92.9" fill="#2cec1c" stroke="#2cec1c"/><polygon points="137,94.6 135.8,94.1 135.6,94.1" fill="#0eec40" stroke="#0eec40"/><polygon points="136.3,95 138,95.1 137,94.6 135.6,94.1 134.1,94" fill="#2cec1c" stroke="#2cec1c"/><polygon points="138.5,96 140.2,96.1 138,95.1 136.3,95" fill="#2cec1c" stroke="#2cec1c"/><polygon points="140.8,97.1 142.5,97.1 140.2,96.1 138.5,96" fill="#2cec1c" stroke="#2cec1c"/><polygon points="143.1,98.2 144.8,98.1 142.5,97.1 140.8,97.1" fill="#2cec1c" stroke="#2cec1c"/><polygon points="145.5,99.3 147.1,99.2 144.8,98.1 143.1,98.2" fill="#2cec1c" stroke="#2cec1c"/><polygon points="147.9,100.4 149.5,100.2 147.1,99.2 145.5,99.3" fill="#2cec1c" stroke="#2cec1c"/><polygon points="101.5,78.7 102.3,79 100.7,78.3 99.5,77.8" fill="#0a9d6a" stroke="#0a9d6a"/><polygon points="100.3,78.2 101.5,78.7 99.5,77.8 98.7,77.4" fill="#099b2a" stroke="#099b2a"/><polygon points="103.5,79.6 103.9,79.8 102.3,79 101.5,78.7" fill="#10eea2" stroke="#10eea2"/><polygon points="102,79 103.5,79.6 101.5,78.7 100.3,78.2" fill="#0eec40" stroke="#0eec40"/><polygon points="105.5,80.6 105.6,80.6 103.9,79.8 103.5,79.6" fill="#10eea2" stroke="#10eea2"/><polygon points="103.7,79.8 105.5,80.6 103.5,79.6 102,79" fill="#0eec40" stroke="#0eec40"/><polygon points="105.9,80.7 105.6,80.6 105.5,80.6" fill="#10eea2" stroke="#10eea2"/><polygon points="105.3,80.7 107.3,81.4 105.9,80.7 105.5,80.6 103.7,79.8" fill="#0eec40" stroke="#0eec40"/><polygon points="107.1,81.5 109,82.2 107.3,81.4 105.3,80.7" fill="#0eec40" stroke="#0eec40"/><polygon points="108.8,82.4 110.7,83 109,82.2 107.1,81.5" fill="#0eec40" stroke="#0eec40"/><polygon points="110.6,83.2 112.5,83.8 110.7,83 108.8,82.4" fill="#0eec40" stroke="#0eec40"/><polygon points="112.4,84.1 114.3,84.7 112.5,83.8 110.6,83.2" fill="#0eec40" stroke="#0eec40"/><polygon points="114.3,85 116.1,85.5 114.3,84.7 112.4,84.1" fill="#0eec40" stroke="#0eec40"/><polygon points="116.1,85.9 118,86.4 116.1,85.5 114.3,85" fill="#0eec40" stroke="#0eec40"/><polygon points="118.3,86.9 119.9,87.3 118,86.4 116.1,85.9 117,86.3" fill="#0eec40" stroke="#0eec40"/><polygon points="118,86.8 118.3,86.9 117,86.3" fill="#2cec1c" stroke="#2cec1c"/><polygon points="120.6,87.9 121.8,88.2 119.9,87.3 118.3,86.9" fill="#0eec40" stroke="#0eec40"/><polygon points="120,87.8 120.6,87.9 118.3,86.9 118,86.8" fill="#2cec1c" stroke="#2cec1c"/><polygon points="123,88.9 123.8,89.1 121.8,88.2 120.6,87.9" fill="#0eec40" stroke="#0eec40"/><polygon points="122,88.7 123,88.9 120.6,87.9 120,87.8" fill="#2cec1c" stroke="#2cec1c"/><polygon points="125.4,90 125.8,90 123.8,89.1 123,88.9" fill="#0eec40" stroke="#0eec40"/><polygon points="124,89.7 125.4,90 123,88.9 122,88.7" fill="#2cec1c" stroke="#2cec1c"/><polygon points="127.4,90.8 125.8,90 125.4,90" fill="#0eec40" stroke="#0eec40"/><polygon points="126,90.7 127.8,91 127.4,90.8 125.4,90 124,89.7" fill="#2cec1c" stroke="#2cec1c"/><polygon points="128.1,91.7 129.9,92 127.8,91 126,90.7" fill="#2cec1c" stroke="#2cec1c"/><polygon points="130.2,92.8 132,92.9 129.9,92 128.1,91.7" fill="#2cec1c" stroke="#2cec1c"/><polygon points="132.4,93.8 134.1,94 132,92.9 130.2,92.8" fill="#2cec1c" stroke="#2cec1c"/><polygon points="134.6,94.9 136.3,95 134.1,94 132.4,93.8" fill="#2cec1c" stroke="#2cec1c"/><polygon points="136.8,96 138.5,96 136.3,95 134.6,94.9" fill="#2cec1c" stroke="#2cec1c"/><polygon points="139.1,97.1 140.8,97.1 138.5,96 136.8,96" fill="#2cec1c" stroke="#2cec1c"/><polygon points="141.4,98.2 143.1,98.2 140.8,97.1 139.1,97.1" fill="#2cec1c" stroke="#2cec1c"/><polygon points="143.8,99.4 145.5,99.3 143.1,98.2 141.4,98.2" fill="#2cec1c" stroke="#2cec1c"/><polygon points="146.7,100.5 147.9,100.4 145.5,99.3 143.8,99.4 143.9,99.4" fill="#2cec1c" stroke="#2cec1c"/><polygon points="146.2,100.5 146.7,100.5 143.9,99.4" fill="#a4f618" stroke="#a4f618"/><polygon points="98.3,77.4 100.3,78.2 98.7,77.4 96.7,76.6" fill="#0eec40" stroke="#0eec40"/><polygon points="100,78.2 102,79 100.3,78.2 98.3,77.4" fill="#0eec40" stroke="#0eec40"/><polygon points="101.6,79.1 103.7,79.8 102,79 100,78.2" fill="#0eec40" stroke="#0eec40"/><polygon points="103.4,79.9 105.3,80.7 103.7,79.8 101.6,79.1" fill="#0eec40" stroke="#0eec40"/><polygon points="105.1,80.8 107.1,81.5 105.3,80.7 103.4,79.9" fill="#0eec40" stroke="#0eec40"/><polygon points="107.1,81.8 108.8,82.4 107.1,81.5 105.1,80.8 105.6,81.1" fill="#0eec40" stroke="#0eec40"/><polygon points="106.9,81.7 107.1,81.8 105.6,81.1" fill="#2cec1c" stroke="#2cec1c"/><polygon points="109.3,82.8 110.6,83.2 108.8,82.4 107.1,81.8" fill="#0eec40" stroke="#0eec40"/><polygon points="108.6,82.6 109.3,82.8 107.1,81.8 106.9,81.7" fill="#2cec1c" stroke="#2cec1c"/><polygon points="111.5,83.8 112.4,84.1 110.6,83.2 109.3,82.8" fill="#0eec40" stroke="#0eec40"/><polygon points="110.5,83.5 111.5,83.8 109.3,82.8 108.6,82.6" fill="#2cec1c" stroke="#2cec1c"/><polygon points="113.7,84.8 114.3,85 112.4,84.1 111.5,83.8" fill="#0eec40" stroke="#0eec40"/><polygon points="112.3,84.5 113.7,84.8 111.5,83.8 110.5,83.5" fill="#2cec1c" stroke="#2cec1c"/><polygon points="116,85.9 116.1,85.9 114.3,85 113.7,84.8" fill="#0eec40" stroke="#0eec40"/><polygon points="114.2,85.4 116,85.9 113.7,84.8 112.3,84.5" fill="#2cec1c" stroke="#2cec1c"/><polygon points="117,86.3 116.1,85.9 116,85.9" fill="#0eec40" stroke="#0eec40"/><polygon points="116.1,86.4 118,86.8 117,86.3 116,85.9 114.2,85.4" fill="#2cec1c" stroke="#2cec1c"/><polygon points="118.1,87.4 120,87.8 118,86.8 116.1,86.4" fill="#2cec1c" stroke="#2cec1c"/><polygon points="120.1,88.4 122,88.7 120,87.8 118.1,87.4" fill="#2cec1c" stroke="#2cec1c"/><polygon points="122.1,89.4 124,89.7 122,88.7 120.1,88.4" fill="#2cec1c" stroke="#2cec1c"/><polygon points="124.2,90.4 126,90.7 124,89.7 122.1,89.4" fill="#2cec1c" stroke="#2cec1c"/><polygon points="126.3,91.5 128.1,91.7 126,90.7 124.2,90.4" fill="#2cec1c" stroke="#2cec1c"/><polygon points="128.4,92.6 130.2,92.8 128.1,91.7 126.3,91.5" fill="#2cec1c" stroke="#2cec1c"/><polygon points="130.6,93.7 132.4,93.8 130.2,92.8 128.4,92.6" fill="#2cec1c" stroke="#2cec1c"/><polygon points="132.8,94.8 134.6,94.9 132.4,93.8 130.6,93.7" fill="#2cec1c" stroke="#2cec1c"/><polygon points="135.4,95.9 136.8,96 134.6,94.9 132.8,94.8 132.8,94.8" fill="#2cec1c" stroke="#2cec1c"/><polygon points="135,95.9 135.4,95.9 132.8,94.8" fill="#a4f618" stroke="#a4f618"/><polygon points="138.2,97.1 139.1,97.1 136.8,96 135.4,95.9" fill="#2cec1c" stroke="#2cec1c"/><polygon points="137.3,97.1 138.2,97.1 135.4,95.9 135,95.9" fill="#a4f618" stroke="#a4f618"/><polygon points="140.9,98.2 141.4,98.2 139.1,97.1 138.2,97.1" fill="#2cec1c" stroke="#2cec1c"/><polygon points="139.7,98.3 140.9,98.2 138.2,97.1 137.3,97.1" fill="#a4f618" stroke="#a4f618"/><polygon points="143.8,99.4 143.8,99.4 141.4,98.2 140.9,98.2" fill="#2cec1c" stroke="#2cec1c"/><polygon points="142.1,99.5 143.8,99.4 140.9,98.2 139.7,98.3" fill="#a4f618" stroke="#a4f618"/><polygon points="143.9,99.4 143.8,99.4 143.8,99.4" fill="#2cec1c" stroke="#2cec1c"/><polygon points="144.5,100.7 146.2,100.5 143.9,99.4 143.8,99.4 142.1,99.5" fill="#a4f618" stroke="#a4f618"/><polygon points="96.8,76.8 98.3,77.4 96.7,76.6 94.9,75.8" fill="#0eec40" stroke="#0eec40"/><polygon points="96.2,76.5 96.8,76.8 94.9,75.8 94.6,75.7" fill="#2cec1c" stroke="#2cec1c"/><polygon points="98.8,77.8 100,78.2 98.3,77.4 96.8,76.8" fill="#0eec40" stroke="#0eec40"/><polygon points="97.9,77.4 98.8,77.8 96.8,76.8 96.2,76.5" fill="#2cec1c" stroke="#2cec1c"/><polygon points="100.8,78.8 101.6,79.1 100,78.2 98.8,77.8" fill="#0eec40" stroke="#0eec40"/><polygon points="99.6,78.3 100.8,78.8 98.8,77.8 97.9,77.4" fill="#2cec1c" stroke="#2cec1c"/><polygon points="102.9,79.8 103.4,79.9 101.6,79.1 100.8,78.8" fill="#0eec40" stroke="#0eec40"/><polygon points="101.3,79.2 102.9,79.8 100.8,78.8 99.6,78.3" fill="#2cec1c" stroke="#2cec1c"/><polygon points="105,80.8 105.1,80.8 103.4,79.9 102.9,79.8" fill="#0eec40" stroke="#0eec40"/><polygon points="103,80.1 105,80.8 102.9,79.8 101.3,79.2" fill="#2cec1c" stroke="#2cec1c"/><polygon points="105.6,81.1 105.1,80.8 105,80.8" fill="#0eec40" stroke="#0eec40"/><polygon points="104.8,81 106.9,81.7 105.6,81.1 105,80.8 103,80.1" fill="#2cec1c" stroke="#2cec1c"/><polygon points="106.6,82 108.6,82.6 106.9,81.7 104.8,81" fill="#2cec1c" stroke="#2cec1c"/><polygon points="108.5,82.9 110.5,83.5 108.6,82.6 106.6,82" fill="#2cec1c" stroke="#2cec1c"/><polygon points="110.3,83.9 112.3,84.5 110.5,83.5 108.5,82.9" fill="#2cec1c" stroke="#2cec1c"/><polygon points="112.2,84.9 114.2,85.4 112.3,84.5 110.3,83.9" fill="#2cec1c" stroke="#2cec1c"/><polygon points="114.2,85.9 116.1,86.4 114.2,85.4 112.2,84.9" fill="#2cec1c" stroke="#2cec1c"/><polygon points="116.1,86.9 118.1,87.4 116.1,86.4 114.2,85.9" fill="#2cec1c" stroke="#2cec1c"/><polygon points="118.1,88 120.1,88.4 118.1,87.4 116.1,86.9" fill="#2cec1c" stroke="#2cec1c"/><polygon points="120.2,89.1 122.1,89.4 120.1,88.4 118.1,88" fill="#2cec1c" stroke="#2cec1c"/><polygon points="122.5,90.2 124.2,90.4 122.1,89.4 120.2,89.1 120.6,89.3" fill="#2cec1c" stroke="#2cec1c"/><polygon points="122.2,90.1 122.5,90.2 120.6,89.3" fill="#a4f618" stroke="#a4f618"/><polygon points="125,91.3 126.3,91.5 124.2,90.4 122.5,90.2" fill="#2cec1c" stroke="#2cec1c"/><polygon points="124.4,91.3 125,91.3 122.5,90.2 122.2,90.1" fill="#a4f618" stroke="#a4f618"/><polygon points="127.6,92.5 128.4,92.6 126.3,91.5 125,91.3" fill="#2cec1c" stroke="#2cec1c"/><polygon points="126.5,92.4 127.6,92.5 125,91.3 124.4,91.3" fill="#a4f618" stroke="#a4f618"/><polygon points="130.1,93.6 130.6,93.7 128.4,92.6 127.6,92.5" fill="#2cec1c" stroke="#2cec1c"/><polygon points="128.7,93.5 130.1,93.6 127.6,92.5 126.5,92.4" fill="#a4f618" stroke="#a4f618"/><polygon points="132.8,94.8 132.8,94.8 130.6,93.7 130.1,93.6" fill="#2cec1c" stroke="#2cec1c"/><polygon points="130.9,94.7 132.8,94.8 130.1,93.6 128.7,93.5" fill="#a4f618" stroke="#a4f618"/><polygon points="132.8,94.8 132.8,94.8 132.8,94.8" fill="#2cec1c" stroke="#2cec1c"/><polygon points="133.2,95.9 135,95.9 132.8,94.8 132.8,94.8 130.9,94.7" fill="#a4f618" stroke="#a4f618"/><polygon points="135.5,97.1 137.3,97.1 135,95.9 133.2,95.9" fill="#a4f618" stroke="#a4f618"/><polygon points="137.9,98.3 139.7,98.3 137.3,97.1 135.5,97.1" fill="#a4f618" stroke="#a4f618"/><polygon points="140.3,99.6 142.1,99.5 139.7,98.3 137.9,98.3" fill="#a4f618" stroke="#a4f618"/><polygon points="142.7,100.9 144.5,100.7 142.1,99.5 140.3,99.6" fill="#a4f618" stroke="#a4f618"/><polygon points="94.1,75.6 96.2,76.5 94.6,75.7 92.4,74.7" fill="#2cec1c" stroke="#2cec1c"/><polygon points="95.7,76.5 97.9,77.4 96.2,76.5 94.1,75.6" fill="#2cec1c" stroke="#2cec1c"/><polygon points="97.4,77.5 99.6,78.3 97.9,77.4 95.7,76.5" fill="#2cec1c" stroke="#2cec1c"/><polygon points="99.2,78.4 101.3,79.2 99.6,78.3 97.4,77.5" fill="#2cec1c" stroke="#2cec1c"/><polygon points="100.9,79.4 103,80.1 101.3,79.2 99.2,78.4" fill="#2cec1c" stroke="#2cec1c"/><polygon points="102.7,80.3 104.8,81 103,80.1 100.9,79.4" fill="#2cec1c" stroke="#2cec1c"/><polygon points="104.5,81.3 106.6,82 104.8,81 102.7,80.3" fill="#2cec1c" stroke="#2cec1c"/><polygon points="106.4,82.3 108.5,82.9 106.6,82 104.5,81.3" fill="#2cec1c" stroke="#2cec1c"/><polygon points="108.5,83.4 110.3,83.9 108.5,82.9 106.4,82.3 107.1,82.7" fill="#2cec1c" stroke="#2cec1c"/><polygon points="108.3,83.3 108.5,83.4 107.1,82.7" fill="#a4f618" stroke="#a4f618"/><polygon points="110.7,84.5 112.2,84.9 110.3,83.9 108.5,83.4" fill="#2cec1c" stroke="#2cec1c"/><polygon points="110.2,84.4 110.7,84.5 108.5,83.4 108.3,83.3" fill="#a4f618" stroke="#a4f618"/><polygon points="113,85.6 114.2,85.9 112.2,84.9 110.7,84.5" fill="#2cec1c" stroke="#2cec1c"/><polygon points="112.1,85.4 113,85.6 110.7,84.5 110.2,84.4" fill="#a4f618" stroke="#a4f618"/><polygon points="115.3,86.8 116.1,86.9 114.2,85.9 113,85.6" fill="#2cec1c" stroke="#2cec1c"/><polygon points="114.1,86.5 115.3,86.8 113,85.6 112.1,85.4" fill="#a4f618" stroke="#a4f618"/><polygon points="117.7,87.9 118.1,88 116.1,86.9 115.3,86.8" fill="#2cec1c" stroke="#2cec1c"/><polygon points="116.1,87.6 117.7,87.9 115.3,86.8 114.1,86.5" fill="#a4f618" stroke="#a4f618"/><polygon points="120.1,89 120.2,89.1 118.1,88 117.7,87.9" fill="#2cec1c" stroke="#2cec1c"/><polygon points="118.2,88.7 120.1,89 117.7,87.9 116.1,87.6" fill="#a4f618" stroke="#a4f618"/><polygon points="120.6,89.3 120.2,89.1 120.1,89" fill="#2cec1c" stroke="#2cec1c"/><polygon points="120.3,89.8 122.2,90.1 120.6,89.3 120.1,89 118.2,88.7" fill="#a4f618" stroke="#a4f618"/><polygon points="122.4,91 124.4,91.3 122.2,90.1 120.3,89.8" fill="#a4f618" stroke="#a4f618"/><polygon points="124.6,92.2 126.5,92.4 124.4,91.3 122.4,91" fill="#a4f618" stroke="#a4f618"/><polygon points="126.8,93.4 128.7,93.5 126.5,92.4 124.6,92.2" fill="#a4f618" stroke="#a4f618"/><polygon points="129,94.6 130.9,94.7 128.7,93.5 126.8,93.4" fill="#a4f618" stroke="#a4f618"/><polygon points="131.3,95.8 133.2,95.9 130.9,94.7 129,94.6" fill="#a4f618" stroke="#a4f618"/><polygon points="133.6,97.1 135.5,97.1 133.2,95.9 131.3,95.8" fill="#a4f618" stroke="#a4f618"/><polygon points="136,98.4 137.9,98.3 135.5,97.1 133.6,97.1" fill="#a4f618" stroke="#a4f618"/><polygon points="138.4,99.7 140.3,99.6 137.9,98.3 136,98.4" fill="#a4f618" stroke="#a4f618"/><polygon points="140.9,101 142.7,100.9 140.3,99.6 138.4,99.7" fill="#a4f618" stroke="#a4f618"/><polygon points="91.8,74.7 94.1,75.6 92.4,74.7 90.2,73.8" fill="#2cec1c" stroke="#2cec1c"/><polygon points="93.8,75.8 95.7,76.5 94.1,75.6 91.8,74.7 92,74.8" fill="#2cec1c" stroke="#2cec1c"/><polygon points="93.5,75.7 93.8,75.8 92,74.8" fill="#a4f618" stroke="#a4f618"/><polygon points="95.8,76.8 97.4,77.5 95.7,76.5 93.8,75.8" fill="#2cec1c" stroke="#2cec1c"/><polygon points="95.2,76.6 95.8,76.8 93.8,75.8 93.5,75.7" fill="#a4f618" stroke="#a4f618"/><polygon points="97.8,77.9 99.2,78.4 97.4,77.5 95.8,76.8" fill="#2cec1c" stroke="#2cec1c"/><polygon points="97,77.6 97.8,77.9 95.8,76.8 95.2,76.6" fill="#a4f618" stroke="#a4f618"/><polygon points="99.9,79 100.9,79.4 99.2,78.4 97.8,77.9" fill="#2cec1c" stroke="#2cec1c"/><polygon points="98.8,78.6 99.9,79 97.8,77.9 97,77.6" fill="#a4f618" stroke="#a4f618"/><polygon points="102,80.1 102.7,80.3 100.9,79.4 99.9,79" fill="#2cec1c" stroke="#2cec1c"/><polygon points="100.6,79.6 102,80.1 99.9,79 98.8,78.6" fill="#a4f618" stroke="#a4f618"/><polygon points="104.1,81.2 104.5,81.3 102.7,80.3 102,80.1" fill="#2cec1c" stroke="#2cec1c"/><polygon points="102.4,80.6 104.1,81.2 102,80.1 100.6,79.6" fill="#a4f618" stroke="#a4f618"/><polygon points="106.3,82.3 106.4,82.3 104.5,81.3 104.1,81.2" fill="#2cec1c" stroke="#2cec1c"/><polygon points="104.3,81.7 106.3,82.3 104.1,81.2 102.4,80.6" fill="#a4f618" stroke="#a4f618"/><polygon points="107.1,82.7 106.4,82.3 106.3,82.3" fill="#2cec1c" stroke="#2cec1c"/><polygon points="106.2,82.8 108.3,83.3 107.1,82.7 106.3,82.3 104.3,81.7" fill="#a4f618" stroke="#a4f618"/><polygon points="108.1,83.8 110.2,84.4 108.3,83.3 106.2,82.8" fill="#a4f618" stroke="#a4f618"/><polygon points="110,84.9 112.1,85.4 110.2,84.4 108.1,83.8" fill="#a4f618" stroke="#a4f618"/><polygon points="112,86.1 114.1,86.5 112.1,85.4 110,84.9" fill="#a4f618" stroke="#a4f618"/><polygon points="114.1,87.2 116.1,87.6 114.1,86.5 112,86.1" fill="#a4f618" stroke="#a4f618"/><polygon points="116.1,88.4 118.2,88.7 116.1,87.6 114.1,87.2" fill="#a4f618" stroke="#a4f618"/><polygon points="118.2,89.5 120.3,89.8 118.2,88.7 116.1,88.4" fill="#a4f618" stroke="#a4f618"/><polygon points="120.4,90.7 122.4,91 120.3,89.8 118.2,89.5" fill="#a4f618" stroke="#a4f618"/><polygon points="122.6,92 124.6,92.2 122.4,91 120.4,90.7" fill="#a4f618" stroke="#a4f618"/><polygon points="124.8,93.2 126.8,93.4 124.6,92.2 122.6,92" fill="#a4f618" stroke="#a4f618"/><polygon points="127,94.5 129,94.6 126.8,93.4 124.8,93.2" fill="#a4f618" stroke="#a4f618"/><polygon points="129.4,95.8 131.3,95.8 129,94.6 127,94.5 129,95.6" fill="#a4f618" stroke="#a4f618"/><polygon points="129.3,95.8 129.4,95.8 129,95.6" fill="#fcd816" stroke="#fcd816"/><polygon points="132.1,97.1 133.6,97.1 131.3,95.8 129.4,95.8" fill="#a4f618" stroke="#a4f618"/><polygon points="131.7,97.1 132.1,97.1 129.4,95.8 129.3,95.8" fill="#fcd816" stroke="#fcd816"/><polygon points="134.8,98.4 136,98.4 133.6,97.1 132.1,97.1" fill="#a4f618" stroke="#a4f618"/><polygon points="134.1,98.4 134.8,98.4 132.1,97.1 131.7,97.1" fill="#fcd816" stroke="#fcd816"/><polygon points="137.6,99.7 138.4,99.7 136,98.4 134.8,98.4" fill="#a4f618" stroke="#a4f618"/><polygon points="136.5,99.8 137.6,99.7 134.8,98.4 134.1,98.4" fill="#fcd816" stroke="#fcd816"/><polygon points="140.4,101.1 140.9,101 138.4,99.7 137.6,99.7" fill="#a4f618" stroke="#a4f618"/><polygon points="139,101.2 140.4,101.1 137.6,99.7 136.5,99.8" fill="#fcd816" stroke="#fcd816"/><polygon points="91.8,74.7 91.8,74.7 90.2,73.8 89.9,73.6" fill="#2cec1c" stroke="#2cec1c"/><polygon points="89.5,73.8 91.8,74.7 89.9,73.6 87.9,72.8" fill="#a4f618" stroke="#a4f618"/><polygon points="92,74.8 91.8,74.7 91.8,74.7" fill="#2cec1c" stroke="#2cec1c"/><polygon points="91.2,74.8 93.5,75.7 92,74.8 91.8,74.7 89.5,73.8" fill="#a4f618" stroke="#a4f618"/><polygon points="93,75.8 95.2,76.6 93.5,75.7 91.2,74.8" fill="#a4f618" stroke="#a4f618"/><polygon points="94.7,76.8 97,77.6 95.2,76.6 93,75.8" fill="#a4f618" stroke="#a4f618"/><polygon points="96.5,77.8 98.8,78.6 97,77.6 94.7,76.8" fill="#a4f618" stroke="#a4f618"/><polygon points="98.3,78.9 100.6,79.6 98.8,78.6 96.5,77.8" fill="#a4f618" stroke="#a4f618"/><polygon points="100.2,79.9 102.4,80.6 100.6,79.6 98.3,78.9" fill="#a4f618" stroke="#a4f618"/><polygon points="102.1,81 104.3,81.7 102.4,80.6 100.2,79.9" fill="#a4f618" stroke="#a4f618"/><polygon points="104,82.1 106.2,82.8 104.3,81.7 102.1,81" fill="#a4f618" stroke="#a4f618"/><polygon points="105.9,83.3 108.1,83.8 106.2,82.8 104,82.1" fill="#a4f618" stroke="#a4f618"/><polygon points="107.9,84.4 110,84.9 108.1,83.8 105.9,83.3" fill="#a4f618" stroke="#a4f618"/><polygon points="109.9,85.6 112,86.1 110,84.9 107.9,84.4" fill="#a4f618" stroke="#a4f618"/><polygon points="111.9,86.8 114.1,87.2 112,86.1 109.9,85.6" fill="#a4f618" stroke="#a4f618"/><polygon points="114.3,88 116.1,88.4 114.1,87.2 111.9,86.8 112.3,87" fill="#a4f618" stroke="#a4f618"/><polygon points="114,88 114.3,88 112.3,87" fill="#fcd816" stroke="#fcd816"/><polygon points="116.7,89.3 118.2,89.5 116.1,88.4 114.3,88" fill="#a4f618" stroke="#a4f618"/><polygon points="116.1,89.2 116.7,89.3 114.3,88 114,88" fill="#fcd816" stroke="#fcd816"/><polygon points="119.1,90.6 120.4,90.7 118.2,89.5 116.7,89.3" fill="#a4f618" stroke="#a4f618"/><polygon points="118.3,90.5 119.1,90.6 116.7,89.3 116.1,89.2" fill="#fcd816" stroke="#fcd816"/><polygon points="121.6,91.9 122.6,92 120.4,90.7 119.1,90.6" fill="#a4f618" stroke="#a4f618"/><polygon points="120.5,91.8 121.6,91.9 119.1,90.6 118.3,90.5" fill="#fcd816" stroke="#fcd816"/><polygon points="124.2,93.2 124.8,93.2 122.6,92 121.6,91.9" fill="#a4f618" stroke="#a4f618"/><polygon points="122.7,93 124.2,93.2 121.6,91.9 120.5,91.8" fill="#fcd816" stroke="#fcd816"/><polygon points="126.7,94.5 127,94.5 124.8,93.2 124.2,93.2" fill="#a4f618" stroke="#a4f618"/><polygon points="125,94.4 126.7,94.5 124.2,93.2 122.7,93" fill="#fcd816" stroke="#fcd816"/><polygon points="129,95.6 127,94.5 126.7,94.5" fill="#a4f618" stroke="#a4f618"/><polygon points="127.3,95.7 129.3,95.8 129,95.6 126.7,94.5 125,94.4" fill="#fcd816" stroke="#fcd816"/><polygon points="129.7,97.1 131.7,97.1 129.3,95.8 127.3,95.7" fill="#fcd816" stroke="#fcd816"/><polygon points="132.1,98.5 134.1,98.4 131.7,97.1 129.7,97.1" fill="#fcd816" stroke="#fcd816"/><polygon points="134.5,99.9 136.5,99.8 134.1,98.4 132.1,98.5" fill="#fcd816" stroke="#fcd816"/><polygon points="137,101.4 139,101.2 136.5,99.8 134.5,99.9" fill="#fcd816" stroke="#fcd816"/><polygon points="87.2,72.8 89.5,73.8 87.9,72.8 85.5,71.8" fill="#a4f618" stroke="#a4f618"/><polygon points="88.9,73.8 91.2,74.8 89.5,73.8 87.2,72.8" fill="#a4f618" stroke="#a4f618"/><polygon points="90.6,74.9 93,75.8 91.2,74.8 88.9,73.8" fill="#a4f618" stroke="#a4f618"/><polygon points="92.4,75.9 94.7,76.8 93,75.8 90.6,74.9" fill="#a4f618" stroke="#a4f618"/><polygon points="94.3,77.1 96.5,77.8 94.7,76.8 92.4,75.9 93,76.3" fill="#a4f618" stroke="#a4f618"/><polygon points="94.2,77 94.3,77.1 93,76.3" fill="#fcd816" stroke="#fcd816"/><polygon points="96.4,78.2 98.3,78.9 96.5,77.8 94.3,77.1" fill="#a4f618" stroke="#a4f618"/><polygon points="96,78.1 96.4,78.2 94.3,77.1 94.2,77" fill="#fcd816" stroke="#fcd816"/><polygon points="98.5,79.4 100.2,79.9 98.3,78.9 96.4,78.2" fill="#a4f618" stroke="#a4f618"/><polygon points="97.9,79.2 98.5,79.4 96.4,78.2 96,78.1" fill="#fcd816" stroke="#fcd816"/><polygon points="100.6,80.6 102.1,81 100.2,79.9 98.5,79.4" fill="#a4f618" stroke="#a4f618"/><polygon points="99.8,80.4 100.6,80.6 98.5,79.4 97.9,79.2" fill="#fcd816" stroke="#fcd816"/><polygon points="102.8,81.8 104,82.1 102.1,81 100.6,80.6" fill="#a4f618" stroke="#a4f618"/><polygon points="101.7,81.5 102.8,81.8 100.6,80.6 99.8,80.4" fill="#fcd816" stroke="#fcd816"/><polygon points="105,83.1 105.9,83.3 104,82.1 102.8,81.8" fill="#a4f618" stroke="#a4f618"/><polygon points="103.7,82.7 105,83.1 102.8,81.8 101.7,81.5" fill="#fcd816" stroke="#fcd816"/><polygon points="107.3,84.3 107.9,84.4 105.9,83.3 105,83.1" fill="#a4f618" stroke="#a4f618"/><polygon points="105.6,83.9 107.3,84.3 105,83.1 103.7,82.7" fill="#fcd816" stroke="#fcd816"/><polygon points="109.6,85.5 109.9,85.6 107.9,84.4 107.3,84.3" fill="#a4f618" stroke="#a4f618"/><polygon points="107.7,85.1 109.6,85.5 107.3,84.3 105.6,83.9" fill="#fcd816" stroke="#fcd816"/><polygon points="111.9,86.8 111.9,86.8 109.9,85.6 109.6,85.5" fill="#a4f618" stroke="#a4f618"/><polygon points="109.7,86.3 111.9,86.8 109.6,85.5 107.7,85.1" fill="#fcd816" stroke="#fcd816"/><polygon points="112.3,87 111.9,86.8 111.9,86.8" fill="#a4f618" stroke="#a4f618"/><polygon points="111.8,87.6 114,88 112.3,87 111.9,86.8 109.7,86.3" fill="#fcd816" stroke="#fcd816"/><polygon points="114,88.9 116.1,89.2 114,88 111.8,87.6" fill="#fcd816" stroke="#fcd816"/><polygon points="116.1,90.2 118.3,90.5 116.1,89.2 114,88.9" fill="#fcd816" stroke="#fcd816"/><polygon points="118.3,91.5 120.5,91.8 118.3,90.5 116.1,90.2" fill="#fcd816" stroke="#fcd816"/><polygon points="120.6,92.9 122.7,93 120.5,91.8 118.3,91.5" fill="#fcd816" stroke="#fcd816"/><polygon points="122.9,94.3 125,94.4 122.7,93 120.6,92.9" fill="#fcd816" stroke="#fcd816"/><polygon points="125.2,95.7 127.3,95.7 125,94.4 122.9,94.3" fill="#fcd816" stroke="#fcd816"/><polygon points="127.6,97.1 129.7,97.1 127.3,95.7 125.2,95.7" fill="#fcd816" stroke="#fcd816"/><polygon points="130,98.6 132.1,98.5 129.7,97.1 127.6,97.1" fill="#fcd816" stroke="#fcd816"/><polygon points="132.5,100 134.5,99.9 132.1,98.5 130,98.6" fill="#fcd816" stroke="#fcd816"/><polygon points="135,101.6 137,101.4 134.5,99.9 132.5,100" fill="#fcd816" stroke="#fcd816"/><polygon points="86.4,72.5 87.2,72.8 85.5,71.8 84.5,71.3" fill="#a4f618" stroke="#a4f618"/><polygon points="84.7,71.8 86.4,72.5 84.5,71.3 83,70.7" fill="#fcd816" stroke="#fcd816"/><polygon points="88.3,73.6 88.9,73.8 87.2,72.8 86.4,72.5" fill="#a4f618" stroke="#a4f618"/><polygon points="86.4,72.8 88.3,73.6 86.4,72.5 84.7,71.8" fill="#fcd816" stroke="#fcd816"/><polygon points="90.3,74.7 90.6,74.9 88.9,73.8 88.3,73.6" fill="#a4f618" stroke="#a4f618"/><polygon points="88.2,73.9 90.3,74.7 88.3,73.6 86.4,72.8" fill="#fcd816" stroke="#fcd816"/><polygon points="92.3,75.9 92.4,75.9 90.6,74.9 90.3,74.7" fill="#a4f618" stroke="#a4f618"/><polygon points="90,75 92.3,75.9 90.3,74.7 88.2,73.9" fill="#fcd816" stroke="#fcd816"/><polygon points="93,76.3 92.4,75.9 92.3,75.9" fill="#a4f618" stroke="#a4f618"/><polygon points="91.8,76.2 94.2,77 93,76.3 92.3,75.9 90,75" fill="#fcd816" stroke="#fcd816"/><polygon points="93.6,77.3 96,78.1 94.2,77 91.8,76.2" fill="#fcd816" stroke="#fcd816"/><polygon points="95.5,78.5 97.9,79.2 96,78.1 93.6,77.3" fill="#fcd816" stroke="#fcd816"/><polygon points="97.4,79.7 99.8,80.4 97.9,79.2 95.5,78.5" fill="#fcd816" stroke="#fcd816"/><polygon points="99.4,80.9 101.7,81.5 99.8,80.4 97.4,79.7" fill="#fcd816" stroke="#fcd816"/><polygon points="101.3,82.1 103.7,82.7 101.7,81.5 99.4,80.9" fill="#fcd816" stroke="#fcd816"/><polygon points="103.3,83.3 105.6,83.9 103.7,82.7 101.3,82.1" fill="#fcd816" stroke="#fcd816"/><polygon points="105.4,84.6 107.7,85.1 105.6,83.9 103.3,83.3" fill="#fcd816" stroke="#fcd816"/><polygon points="107.5,85.9 109.7,86.3 107.7,85.1 105.4,84.6" fill="#fcd816" stroke="#fcd816"/><polygon points="109.6,87.2 111.8,87.6 109.7,86.3 107.5,85.9" fill="#fcd816" stroke="#fcd816"/><polygon points="111.7,88.6 114,88.9 111.8,87.6 109.6,87.2" fill="#fcd816" stroke="#fcd816"/><polygon points="113.9,89.9 116.1,90.2 114,88.9 111.7,88.6" fill="#fcd816" stroke="#fcd816"/><polygon points="116.1,91.3 118.3,91.5 116.1,90.2 113.9,89.9" fill="#fcd816" stroke="#fcd816"/><polygon points="118.4,92.7 120.6,92.9 118.3,91.5 116.1,91.3" fill="#fcd816" stroke="#fcd816"/><polygon points="120.7,94.1 122.9,94.3 120.6,92.9 118.4,92.7" fill="#fcd816" stroke="#fcd816"/><polygon points="123.1,95.6 125.2,95.7 122.9,94.3 120.7,94.1" fill="#fcd816" stroke="#fcd816"/><polygon points="125.5,97.1 127.6,97.1 125.2,95.7 123.1,95.6" fill="#fcd816" stroke="#fcd816"/><polygon points="128,98.6 130,98.6 127.6,97.1 125.5,97.1 127,98.1" fill="#fcd816" stroke="#fcd816"/><polygon points="127.9,98.6 128,98.6 127,98.1" fill="#f57612" stroke="#f57612"/><polygon points="130.7,100.1 132.5,100 130,98.6 128,98.6" fill="#fcd816" stroke="#fcd816"/><polygon points="130.4,100.2 130.7,100.1 128,98.6 127.9,98.6" fill="#f57612" stroke="#f57612"/><polygon points="133.5,101.7 135,101.6 132.5,100 130.7,100.1" fill="#fcd816" stroke="#fcd816"/><polygon points="132.9,101.7 133.5,101.7 130.7,100.1 130.4,100.2" fill="#f57612" stroke="#f57612"/><polygon points="82.1,70.7 84.7,71.8 83,70.7 80.4,69.6" fill="#fcd816" stroke="#fcd816"/><polygon points="83.9,71.8 86.4,72.8 84.7,71.8 82.1,70.7" fill="#fcd816" stroke="#fcd816"/><polygon points="85.7,73 88.2,73.9 86.4,72.8 83.9,71.8" fill="#fcd816" stroke="#fcd816"/><polygon points="87.5,74.1 90,75 88.2,73.9 85.7,73" fill="#fcd816" stroke="#fcd816"/><polygon points="89.3,75.3 91.8,76.2 90,75 87.5,74.1" fill="#fcd816" stroke="#fcd816"/><polygon points="91.2,76.5 93.6,77.3 91.8,76.2 89.3,75.3" fill="#fcd816" stroke="#fcd816"/><polygon points="93.1,77.7 95.5,78.5 93.6,77.3 91.2,76.5" fill="#fcd816" stroke="#fcd816"/><polygon points="95,78.9 97.4,79.7 95.5,78.5 93.1,77.7" fill="#fcd816" stroke="#fcd816"/><polygon points="96.9,80.2 99.4,80.9 97.4,79.7 95,78.9" fill="#fcd816" stroke="#fcd816"/><polygon points="98.9,81.5 101.3,82.1 99.4,80.9 96.9,80.2" fill="#fcd816" stroke="#fcd816"/><polygon points="101,82.8 103.3,83.3 101.3,82.1 98.9,81.5 100.2,82.3" fill="#fcd816" stroke="#fcd816"/><polygon points="100.9,82.8 101,82.8 100.2,82.3" fill="#f57612" stroke="#f57612"/><polygon points="103.3,84.1 105.4,84.6 103.3,83.3 101,82.8" fill="#fcd816" stroke="#fcd816"/><polygon points="103,84.1 103.3,84.1 101,82.8 100.9,82.8" fill="#f57612" stroke="#f57612"/><polygon points="105.5,85.5 107.5,85.9 105.4,84.6 103.3,84.1" fill="#fcd816" stroke="#fcd816"/><polygon points="105.1,85.4 105.5,85.5 103.3,84.1 103,84.1" fill="#f57612" stroke="#f57612"/><polygon points="107.8,86.9 109.6,87.2 107.5,85.9 105.5,85.5" fill="#fcd816" stroke="#fcd816"/><polygon points="107.2,86.8 107.8,86.9 105.5,85.5 105.1,85.4" fill="#f57612" stroke="#f57612"/><polygon points="110.2,88.3 111.7,88.6 109.6,87.2 107.8,86.9" fill="#fcd816" stroke="#fcd816"/><polygon points="109.4,88.2 110.2,88.3 107.8,86.9 107.2,86.8" fill="#f57612" stroke="#f57612"/><polygon points="112.6,89.7 113.9,89.9 111.7,88.6 110.2,88.3" fill="#fcd816" stroke="#fcd816"/><polygon points="111.6,89.6 112.6,89.7 110.2,88.3 109.4,88.2" fill="#f57612" stroke="#f57612"/><polygon points="115.1,91.2 116.1,91.3 113.9,89.9 112.6,89.7" fill="#fcd816" stroke="#fcd816"/><polygon points="113.8,91.1 115.1,91.2 112.6,89.7 111.6,89.6" fill="#f57612" stroke="#f57612"/><polygon points="117.6,92.6 118.4,92.7 116.1,91.3 115.1,91.2" fill="#fcd816" stroke="#fcd816"/><polygon points="116.1,92.5 117.6,92.6 115.1,91.2 113.8,91.1" fill="#f57612" stroke="#f57612"/><polygon points="120.1,94.1 120.7,94.1 118.4,92.7 117.6,92.6" fill="#fcd816" stroke="#fcd816"/><polygon points="118.5,94 120.1,94.1 117.6,92.6 116.1,92.5" fill="#f57612" stroke="#f57612"/><polygon points="122.7,95.6 123.1,95.6 120.7,94.1 120.1,94.1" fill="#fcd816" stroke="#fcd816"/><polygon points="120.8,95.5 122.7,95.6 120.1,94.1 118.5,94" fill="#f57612" stroke="#f57612"/><polygon points="125.3,97.1 125.5,97.1 123.1,95.6 122.7,95.6" fill="#fcd816" stroke="#fcd816"/><polygon points="123.3,97.1 125.3,97.1 122.7,95.6 120.8,95.5" fill="#f57612" stroke="#f57612"/><polygon points="127,98.1 125.5,97.1 125.3,97.1" fill="#fcd816" stroke="#fcd816"/><polygon points="125.7,98.7 127.9,98.6 127,98.1 125.3,97.1 123.3,97.1" fill="#f57612" stroke="#f57612"/><polygon points="128.2,100.3 130.4,100.2 127.9,98.6 125.7,98.7" fill="#f57612" stroke="#f57612"/><polygon points="130.8,101.9 132.9,101.7 130.4,100.2 128.2,100.3" fill="#f57612" stroke="#f57612"/><polygon points="80.6,70 82.1,70.7 80.4,69.6 78.7,68.9" fill="#fcd816" stroke="#fcd816"/><polygon points="79.5,69.6 80.6,70 78.7,68.9 77.8,68.5" fill="#f57612" stroke="#f57612"/><polygon points="82.5,71.3 83.9,71.8 82.1,70.7 80.6,70" fill="#fcd816" stroke="#fcd816"/><polygon points="81.3,70.8 82.5,71.3 80.6,70 79.5,69.6" fill="#f57612" stroke="#f57612"/><polygon points="84.4,72.5 85.7,73 83.9,71.8 82.5,71.3" fill="#fcd816" stroke="#fcd816"/><polygon points="83.1,72 84.4,72.5 82.5,71.3 81.3,70.8" fill="#f57612" stroke="#f57612"/><polygon points="86.4,73.7 87.5,74.1 85.7,73 84.4,72.5" fill="#fcd816" stroke="#fcd816"/><polygon points="84.9,73.2 86.4,73.7 84.4,72.5 83.1,72" fill="#f57612" stroke="#f57612"/><polygon points="88.3,75 89.3,75.3 87.5,74.1 86.4,73.7" fill="#fcd816" stroke="#fcd816"/><polygon points="86.7,74.4 88.3,75 86.4,73.7 84.9,73.2" fill="#f57612" stroke="#f57612"/><polygon points="90.4,76.2 91.2,76.5 89.3,75.3 88.3,75" fill="#fcd816" stroke="#fcd816"/><polygon points="88.6,75.6 90.4,76.2 88.3,75 86.7,74.4" fill="#f57612" stroke="#f57612"/><polygon points="92.4,77.5 93.1,77.7 91.2,76.5 90.4,76.2" fill="#fcd816" stroke="#fcd816"/><polygon points="90.5,76.9 92.4,77.5 90.4,76.2 88.6,75.6" fill="#f57612" stroke="#f57612"/><polygon points="94.5,78.8 95,78.9 93.1,77.7 92.4,77.5" fill="#fcd816" stroke="#fcd816"/><polygon points="92.4,78.2 94.5,78.8 92.4,77.5 90.5,76.9" fill="#f57612" stroke="#f57612"/><polygon points="96.6,80.1 96.9,80.2 95,78.9 94.5,78.8" fill="#fcd816" stroke="#fcd816"/><polygon points="94.4,79.5 96.6,80.1 94.5,78.8 92.4,78.2" fill="#f57612" stroke="#f57612"/><polygon points="98.8,81.4 98.9,81.5 96.9,80.2 96.6,80.1" fill="#fcd816" stroke="#fcd816"/><polygon points="96.4,80.8 98.8,81.4 96.6,80.1 94.4,79.5" fill="#f57612" stroke="#f57612"/><polygon points="100.2,82.3 98.9,81.5 98.8,81.4" fill="#fcd816" stroke="#fcd816"/><polygon points="98.5,82.2 100.9,82.8 100.2,82.3 98.8,81.4 96.4,80.8" fill="#f57612" stroke="#f57612"/><polygon points="100.5,83.6 103,84.1 100.9,82.8 98.5,82.2" fill="#f57612" stroke="#f57612"/><polygon points="102.7,85 105.1,85.4 103,84.1 100.5,83.6" fill="#f57612" stroke="#f57612"/><polygon points="104.8,86.4 107.2,86.8 105.1,85.4 102.7,85" fill="#f57612" stroke="#f57612"/><polygon points="107,87.8 109.4,88.2 107.2,86.8 104.8,86.4" fill="#f57612" stroke="#f57612"/><polygon points="109.2,89.3 111.6,89.6 109.4,88.2 107,87.8" fill="#f57612" stroke="#f57612"/><polygon points="111.5,90.8 113.8,91.1 111.6,89.6 109.2,89.3" fill="#f57612" stroke="#f57612"/><polygon points="113.8,92.3 116.1,92.5 113.8,91.1 111.5,90.8" fill="#f57612" stroke="#f57612"/><polygon points="116.1,93.9 118.5,94 116.1,92.5 113.8,92.3" fill="#f57612" stroke="#f57612"/><polygon points="118.5,95.5 120.8,95.5 118.5,94 116.1,93.9" fill="#f57612" stroke="#f57612"/><polygon points="121,97.1 123.3,97.1 120.8,95.5 118.5,95.5" fill="#f57612" stroke="#f57612"/><polygon points="123.4,98.7 125.7,98.7 123.3,97.1 121,97.1" fill="#f57612" stroke="#f57612"/><polygon points="126,100.4 128.2,100.3 125.7,98.7 123.4,98.7" fill="#f57612" stroke="#f57612"/><polygon points="128.5,102.1 130.8,101.9 128.2,100.3 126,100.4" fill="#f57612" stroke="#f57612"/><polygon points="76.8,68.5 79.5,69.6 77.8,68.5 75,67.3" fill="#f57612" stroke="#f57612"/><polygon points="78.6,69.7 81.3,70.8 79.5,69.6 76.8,68.5" fill="#f57612" stroke="#f57612"/><polygon points="80.4,70.9 83.1,72 81.3,70.8 78.6,69.7" fill="#f57612" stroke="#f57612"/><polygon points="82.2,72.2 84.9,73.2 83.1,72 80.4,70.9" fill="#f57612" stroke="#f57612"/><polygon points="84.1,73.5 86.7,74.4 84.9,73.2 82.2,72.2" fill="#f57612" stroke="#f57612"/><polygon points="85.9,74.8 88.6,75.6 86.7,74.4 84.1,73.5" fill="#f57612" stroke="#f57612"/><polygon points="87.9,76.1 90.5,76.9 88.6,75.6 85.9,74.8" fill="#f57612" stroke="#f57612"/><polygon points="89.8,77.4 92.4,78.2 90.5,76.9 87.9,76.1" fill="#f57612" stroke="#f57612"/><polygon points="91.8,78.8 94.4,79.5 92.4,78.2 89.8,77.4" fill="#f57612" stroke="#f57612"/><polygon points="93.8,80.2 96.4,80.8 94.4,79.5 91.8,78.8" fill="#f57612" stroke="#f57612"/><polygon points="95.9,81.6 98.5,82.2 96.4,80.8 93.8,80.2" fill="#f57612" stroke="#f57612"/><polygon points="98,83 100.5,83.6 98.5,82.2 95.9,81.6" fill="#f57612" stroke="#f57612"/><polygon points="100.1,84.5 102.7,85 100.5,83.6 98,83" fill="#f57612" stroke="#f57612"/><polygon points="102.3,85.9 104.8,86.4 102.7,85 100.1,84.5" fill="#f57612" stroke="#f57612"/><polygon points="104.5,87.5 107,87.8 104.8,86.4 102.3,85.9" fill="#f57612" stroke="#f57612"/><polygon points="106.7,89 109.2,89.3 107,87.8 104.5,87.5" fill="#f57612" stroke="#f57612"/><polygon points="109,90.6 111.5,90.8 109.2,89.3 106.7,89" fill="#f57612" stroke="#f57612"/><polygon points="111.4,92.2 113.8,92.3 111.5,90.8 109,90.6" fill="#f57612" stroke="#f57612"/><polygon points="113.7,93.8 116.1,93.9 113.8,92.3 111.4,92.2" fill="#f57612" stroke="#f57612"/><polygon points="116.1,95.4 118.5,95.5 116.1,93.9 113.7,93.8" fill="#f57612" stroke="#f57612"/><polygon points="118.6,97.1 121,97.1 118.5,95.5 116.1,95.4" fill="#f57612" stroke="#f57612"/><polygon points="121.1,98.8 123.4,98.7 121,97.1 118.6,97.1" fill="#f57612" stroke="#f57612"/><polygon points="123.6,100.6 126,100.4 123.4,98.7 121.1,98.8" fill="#f57612" stroke="#f57612"/><polygon points="126.2,102.3 128.5,102.1 126,100.4 123.6,100.6" fill="#f57612" stroke="#f57612"/><polygon points="74.2,67.4 76.8,68.5 75,67.3 72.4,66.2" fill="#f57612" stroke="#f57612"/><polygon points="73.9,67.3 74.2,67.4 72.4,66.2 72.2,66.1" fill="#ee0a12" stroke="#ee0a12"/><polygon points="76.1,68.7 78.6,69.7 76.8,68.5 74.2,67.4" fill="#f57612" stroke="#f57612"/><polygon points="75.7,68.6 76.1,68.7 74.2,67.4 73.9,67.3" fill="#ee0a12" stroke="#ee0a12"/><polygon points="78,70 80.4,70.9 78.6,69.7 76.1,68.7" fill="#f57612" stroke="#f57612"/><polygon points="77.6,69.9 78,70 76.1,68.7 75.7,68.6" fill="#ee0a12" stroke="#ee0a12"/><polygon points="79.9,71.3 82.2,72.2 80.4,70.9 78,70" fill="#f57612" stroke="#f57612"/><polygon points="79.4,71.2 79.9,71.3 78,70 77.6,69.9" fill="#ee0a12" stroke="#ee0a12"/><polygon points="81.8,72.7 84.1,73.5 82.2,72.2 79.9,71.3" fill="#f57612" stroke="#f57612"/><polygon points="81.3,72.5 81.8,72.7 79.9,71.3 79.4,71.2" fill="#ee0a12" stroke="#ee0a12"/><polygon points="83.8,74 85.9,74.8 84.1,73.5 81.8,72.7" fill="#f57612" stroke="#f57612"/><polygon points="83.2,73.8 83.8,74 81.8,72.7 81.3,72.5" fill="#ee0a12" stroke="#ee0a12"/><polygon points="85.8,75.4 87.9,76.1 85.9,74.8 83.8,74" fill="#f57612" stroke="#f57612"/><polygon points="85.1,75.2 85.8,75.4 83.8,74 83.2,73.8" fill="#ee0a12" stroke="#ee0a12"/><polygon points="87.8,76.8 89.8,77.4 87.9,76.1 85.8,75.4" fill="#f57612" stroke="#f57612"/><polygon points="87.1,76.6 87.8,76.8 85.8,75.4 85.1,75.2" fill="#ee0a12" stroke="#ee0a12"/><polygon points="89.9,78.2 91.8,78.8 89.8,77.4 87.8,76.8" fill="#f57612" stroke="#f57612"/><polygon points="89.1,78 89.9,78.2 87.8,76.8 87.1,76.6" fill="#ee0a12" stroke="#ee0a12"/><polygon points="92,79.7 93.8,80.2 91.8,78.8 89.9,78.2" fill="#f57612" stroke="#f57612"/><polygon points="91.2,79.5 92,79.7 89.9,78.2 89.1,78" fill="#ee0a12" stroke="#ee0a12"/><polygon points="94.1,81.2 95.9,81.6 93.8,80.2 92,79.7" fill="#f57612" stroke="#f57612"/><polygon points="93.2,80.9 94.1,81.2 92,79.7 91.2,79.5" fill="#ee0a12" stroke="#ee0a12"/><polygon points="96.3,82.6 98,83 95.9,81.6 94.1,81.2" fill="#f57612" stroke="#f57612"/><polygon points="95.4,82.4 96.3,82.6 94.1,81.2 93.2,80.9" fill="#ee0a12" stroke="#ee0a12"/><polygon points="98.5,84.2 100.1,84.5 98,83 96.3,82.6" fill="#f57612" stroke="#f57612"/><polygon points="97.5,84 98.5,84.2 96.3,82.6 95.4,82.4" fill="#ee0a12" stroke="#ee0a12"/><polygon points="100.8,85.7 102.3,85.9 100.1,84.5 98.5,84.2" fill="#f57612" stroke="#f57612"/><polygon points="99.7,85.5 100.8,85.7 98.5,84.2 97.5,84" fill="#ee0a12" stroke="#ee0a12"/><polygon points="103.1,87.2 104.5,87.5 102.3,85.9 100.8,85.7" fill="#f57612" stroke="#f57612"/><polygon points="101.9,87.1 103.1,87.2 100.8,85.7 99.7,85.5" fill="#ee0a12" stroke="#ee0a12"/><polygon points="105.4,88.8 106.7,89 104.5,87.5 103.1,87.2" fill="#f57612" stroke="#f57612"/><polygon points="104.2,88.7 105.4,88.8 103.1,87.2 101.9,87.1" fill="#ee0a12" stroke="#ee0a12"/><polygon points="107.8,90.4 109,90.6 106.7,89 105.4,88.8" fill="#f57612" stroke="#f57612"/><polygon points="106.5,90.3 107.8,90.4 105.4,88.8 104.2,88.7" fill="#ee0a12" stroke="#ee0a12"/><polygon points="110.2,92.1 111.4,92.2 109,90.6 107.8,90.4" fill="#f57612" stroke="#f57612"/><polygon points="108.8,92 110.2,92.1 107.8,90.4 106.5,90.3" fill="#ee0a12" stroke="#ee0a12"/><polygon points="112.7,93.7 113.7,93.8 111.4,92.2 110.2,92.1" fill="#f57612" stroke="#f57612"/><polygon points="111.2,93.6 112.7,93.7 110.2,92.1 108.8,92" fill="#ee0a12" stroke="#ee0a12"/><polygon points="115.2,95.4 116.1,95.4 113.7,93.8 112.7,93.7" fill="#f57612" stroke="#f57612"/><polygon points="113.7,95.4 115.2,95.4 112.7,93.7 111.2,93.6" fill="#ee0a12" stroke="#ee0a12"/><polygon points="117.8,97.1 118.6,97.1 116.1,95.4 115.2,95.4" fill="#f57612" stroke="#f57612"/><polygon points="116.1,97.1 117.8,97.1 115.2,95.4 113.7,95.4" fill="#ee0a12" stroke="#ee0a12"/><polygon points="120.4,98.8 121.1,98.8 118.6,97.1 117.8,97.1" fill="#f57612" stroke="#f57612"/><polygon points="118.7,98.9 120.4,98.8 117.8,97.1 116.1,97.1" fill="#ee0a12" stroke="#ee0a12"/><polygon points="123,100.6 123.6,100.6 121.1,98.8 120.4,98.8" fill="#f57612" stroke="#f57612"/><polygon points="121.2,100.7 123,100.6 120.4,98.8 118.7,98.9" fill="#ee0a12" stroke="#ee0a12"/><polygon points="125.7,102.4 126.2,102.3 123.6,100.6 123,100.6" fill="#f57612" stroke="#f57612"/><polygon points="123.8,102.6 125.7,102.4 123,100.6 121.2,100.7" fill="#ee0a12" stroke="#ee0a12"/><polygon points="71,66.1 73.9,67.3 72.2,66.1 69.2,64.8" fill="#ee0a12" stroke="#ee0a12"/><polygon points="72.8,67.4 75.7,68.6 73.9,67.3 71,66.1" fill="#ee0a12" stroke="#ee0a12"/><polygon points="74.7,68.7 77.6,69.9 75.7,68.6 72.8,67.4" fill="#ee0a12" stroke="#ee0a12"/><polygon points="76.5,70.1 79.4,71.2 77.6,69.9 74.7,68.7" fill="#ee0a12" stroke="#ee0a12"/><polygon points="78.4,71.5 81.3,72.5 79.4,71.2 76.5,70.1" fill="#ee0a12" stroke="#ee0a12"/><polygon points="80.4,72.9 83.2,73.8 81.3,72.5 78.4,71.5" fill="#ee0a12" stroke="#ee0a12"/><polygon points="82.3,74.3 85.1,75.2 83.2,73.8 80.4,72.9" fill="#ee0a12" stroke="#ee0a12"/><polygon points="84.3,75.8 87.1,76.6 85.1,75.2 82.3,74.3" fill="#ee0a12" stroke="#ee0a12"/><polygon points="86.3,77.3 89.1,78 87.1,76.6 84.3,75.8" fill="#ee0a12" stroke="#ee0a12"/><polygon points="88.4,78.8 91.2,79.5 89.1,78 86.3,77.3" fill="#ee0a12" stroke="#ee0a12"/><polygon points="90.5,80.3 93.2,80.9 91.2,79.5 88.4,78.8" fill="#ee0a12" stroke="#ee0a12"/><polygon points="92.6,81.8 95.4,82.4 93.2,80.9 90.5,80.3" fill="#ee0a12" stroke="#ee0a12"/><polygon points="94.8,83.4 97.5,84 95.4,82.4 92.6,81.8" fill="#ee0a12" stroke="#ee0a12"/><polygon points="97,85 99.7,85.5 97.5,84 94.8,83.4" fill="#ee0a12" stroke="#ee0a12"/><polygon points="99.2,86.7 101.9,87.1 99.7,85.5 97,85" fill="#ee0a12" stroke="#ee0a12"/><polygon points="101.5,88.3 104.2,88.7 101.9,87.1 99.2,86.7" fill="#ee0a12" stroke="#ee0a12"/><polygon points="103.9,90 106.5,90.3 104.2,88.7 101.5,88.3" fill="#ee0a12" stroke="#ee0a12"/><polygon points="106.2,91.7 108.8,92 106.5,90.3 103.9,90" fill="#ee0a12" stroke="#ee0a12"/><polygon points="108.6,93.5 111.2,93.6 108.8,92 106.2,91.7" fill="#ee0a12" stroke="#ee0a12"/><polygon points="111.1,95.3 113.7,95.4 111.2,93.6 108.6,93.5" fill="#ee0a12" stroke="#ee0a12"/><polygon points="113.6,97.1 116.1,97.1 113.7,95.4 111.1,95.3" fill="#ee0a12" stroke="#ee0a12"/><polygon points="116.1,99 118.7,98.9 116.1,97.1 113.6,97.1" fill="#ee0a12" stroke="#ee0a12"/><polygon points="118.7,100.9 121.2,100.7 118.7,98.9 116.1,99" fill="#ee0a12" stroke="#ee0a12"/><polygon points="121.4,102.8 123.8,102.6 121.2,100.7 118.7,100.9" fill="#ee0a12" stroke="#ee0a12"/><polygon points="67.9,64.8 71,66.1 69.2,64.8 66.1,63.5" fill="#ee0a12" stroke="#ee0a12"/><polygon points="69.8,66.2 72.8,67.4 71,66.1 67.9,64.8" fill="#ee0a12" stroke="#ee0a12"/><polygon points="71.6,67.6 74.7,68.7 72.8,67.4 69.8,66.2" fill="#ee0a12" stroke="#ee0a12"/><polygon points="73.5,69 76.5,70.1 74.7,68.7 71.6,67.6" fill="#ee0a12" stroke="#ee0a12"/><polygon points="75.4,70.5 78.4,71.5 76.5,70.1 73.5,69" fill="#ee0a12" stroke="#ee0a12"/><polygon points="77.4,71.9 80.4,72.9 78.4,71.5 75.4,70.5" fill="#ee0a12" stroke="#ee0a12"/><polygon points="79.4,73.4 82.3,74.3 80.4,72.9 77.4,71.9" fill="#ee0a12" stroke="#ee0a12"/><polygon points="81.4,74.9 84.3,75.8 82.3,74.3 79.4,73.4" fill="#ee0a12" stroke="#ee0a12"/><polygon points="83.4,76.5 86.3,77.3 84.3,75.8 81.4,74.9" fill="#ee0a12" stroke="#ee0a12"/><polygon points="85.5,78 88.4,78.8 86.3,77.3 83.4,76.5" fill="#ee0a12" stroke="#ee0a12"/><polygon points="87.6,79.6 90.5,80.3 88.4,78.8 85.5,78" fill="#ee0a12" stroke="#ee0a12"/><polygon points="89.8,81.2 92.6,81.8 90.5,80.3 87.6,79.6" fill="#ee0a12" stroke="#ee0a12"/><polygon points="92,82.9 94.8,83.4 92.6,81.8 89.8,81.2" fill="#ee0a12" stroke="#ee0a12"/><polygon points="94.2,84.5 97,85 94.8,83.4 92,82.9" fill="#ee0a12" stroke="#ee0a12"/><polygon points="96.5,86.2 99.2,86.7 97,85 94.2,84.5" fill="#ee0a12" stroke="#ee0a12"/><polygon points="98.8,88 101.5,88.3 99.2,86.7 96.5,86.2" fill="#ee0a12" stroke="#ee0a12"/><polygon points="101.1,89.7 103.9,90 101.5,88.3 98.8,88" fill="#ee0a12" stroke="#ee0a12"/><polygon points="103.5,91.5 106.2,91.7 103.9,90 101.1,89.7" fill="#ee0a12" stroke="#ee0a12"/><polygon points="105.9,93.4 108.6,93.5 106.2,91.7 103.5,91.5" fill="#ee0a12" stroke="#ee0a12"/><polygon points="108.4,95.2 111.1,95.3 108.6,93.5 105.9,93.4" fill="#ee0a12" stroke="#ee0a12"/><polygon points="110.9,97.1 113.6,97.1 111.1,95.3 108.4,95.2" fill="#ee0a12" stroke="#ee0a12"/><polygon points="113.5,99 116.1,99 113.6,97.1 110.9,97.1" fill="#ee0a12" stroke="#ee0a12"/><polygon points="116.1,101 118.7,100.9 116.1,99 113.5,99" fill="#ee0a12" stroke="#ee0a12"/><polygon points="118.8,103 121.4,102.8 118.7,100.9 116.1,101" fill="#ee0a12" stroke="#ee0a12"/><polygon points="64.8,63.5 67.9,64.8 66.1,63.5 63,62.1" fill="#ee0a12" stroke="#ee0a12"/><polygon points="66.6,64.9 69.8,66.2 67.9,64.8 64.8,63.5" fill="#ee0a12" stroke="#ee0a12"/><polygon points="68.5,66.4 71.6,67.6 69.8,66.2 66.6,64.9" fill="#ee0a12" stroke="#ee0a12"/><polygon points="70.4,67.9 73.5,69 71.6,67.6 68.5,66.4" fill="#ee0a12" stroke="#ee0a12"/><polygon points="72.3,69.4 75.4,70.5 73.5,69 70.4,67.9" fill="#ee0a12" stroke="#ee0a12"/><polygon points="74.3,70.9 77.4,71.9 75.4,70.5 72.3,69.4" fill="#ee0a12" stroke="#ee0a12"/><polygon points="76.3,72.4 79.4,73.4 77.4,71.9 74.3,70.9" fill="#ee0a12" stroke="#ee0a12"/><polygon points="78.4,74 81.4,74.9 79.4,73.4 76.3,72.4" fill="#ee0a12" stroke="#ee0a12"/><polygon points="80.4,75.6 83.4,76.5 81.4,74.9 78.4,74" fill="#ee0a12" stroke="#ee0a12"/><polygon points="82.5,77.2 85.5,78 83.4,76.5 80.4,75.6" fill="#ee0a12" stroke="#ee0a12"/><polygon points="84.7,78.9 87.6,79.6 85.5,78 82.5,77.2" fill="#ee0a12" stroke="#ee0a12"/><polygon points="86.8,80.6 89.8,81.2 87.6,79.6 84.7,78.9" fill="#ee0a12" stroke="#ee0a12"/><polygon points="89,82.3 92,82.9 89.8,81.2 86.8,80.6" fill="#ee0a12" stroke="#ee0a12"/><polygon points="91.3,84 94.2,84.5 92,82.9 89,82.3" fill="#ee0a12" stroke="#ee0a12"/><polygon points="93.6,85.8 96.5,86.2 94.2,84.5 91.3,84" fill="#ee0a12" stroke="#ee0a12"/><polygon points="95.9,87.6 98.8,88 96.5,86.2 93.6,85.8" fill="#ee0a12" stroke="#ee0a12"/><polygon points="98.3,89.4 101.1,89.7 98.8,88 95.9,87.6" fill="#ee0a12" stroke="#ee0a12"/><polygon points="100.7,91.3 103.5,91.5 101.1,89.7 98.3,89.4" fill="#ee0a12" stroke="#ee0a12"/><polygon points="103.2,93.2 105.9,93.4 103.5,91.5 100.7,91.3" fill="#ee0a12" stroke="#ee0a12"/><polygon points="105.7,95.1 108.4,95.2 105.9,93.4 103.2,93.2" fill="#ee0a12" stroke="#ee0a12"/><polygon points="108.2,97.1 110.9,97.1 108.4,95.2 105.7,95.1" fill="#ee0a12" stroke="#ee0a12"/><polygon points="110.8,99.1 113.5,99 110.9,97.1 108.2,97.1" fill="#ee0a12" stroke="#ee0a12"/><polygon points="113.4,101.2 116.1,101 113.5,99 110.8,99.1" fill="#ee0a12" stroke="#ee0a12"/><polygon points="116.1,103.3 118.8,103 116.1,101 113.4,101.2" fill="#ee0a12" stroke="#ee0a12"/></g>
<g fill="#222" stroke="#222" stroke-width="0.28" font-size="10" dominant-baseline="central"><text transform="matrix(0.535 -0.340 0.132 0.468 61.8 107.3)" text-anchor="end">40000</text><text transform="matrix(0.535 0.340 -0.132 0.468 170.4 107.3)" text-anchor="start">40000</text><text transform="matrix(0.609 -0.360 0.160 0.560 57.6 94.6)" text-anchor="end">45000</text><text transform="matrix(0.609 0.360 -0.160 0.560 174.6 94.6)" text-anchor="start">45000</text><text transform="matrix(0.696 -0.375 0.196 0.676 52.8 80)" text-anchor="end">50000</text><text transform="matrix(0.696 0.375 -0.196 0.676 179.5 80)" text-anchor="start">50000</text><text transform="matrix(0.799 -0.385 0.241 0.824 47.2 63.1)" text-anchor="end">55000</text><text transform="matrix(0.799 0.385 -0.241 0.824 185.1 63.1)" text-anchor="start">55000</text><text transform="matrix(0.218 0.488 -0.718 0.415 30 106.3)" text-anchor="middle">DPPH</text><text transform="matrix(0.218 -0.488 0.718 0.415 202.3 106.3)" text-anchor="middle">DPPH</text><text transform="matrix(0.752 -0.333 0.125 0.480 50.9 48.1)" text-anchor="middle">-1.0</text><text transform="matrix(0.752 0.333 -0.125 0.480 181.4 48.1)" text-anchor="middle">-1.0</text><text transform="matrix(0.685 -0.305 0.091 0.470 66.2 41.7)" text-anchor="middle">-0.5</text><text transform="matrix(0.685 0.305 -0.091 0.470 166.1 41.7)" text-anchor="middle">-0.5</text><text transform="matrix(0.624 -0.278 0.061 0.459 81 35.5)" text-anchor="middle">0.0</text><text transform="matrix(0.624 0.278 -0.061 0.459 151.3 35.5)" text-anchor="middle">0.0</text><text transform="matrix(0.573 -0.254 0.036 0.451 94.4 28.8)" text-anchor="middle">0.5</text><text transform="matrix(0.573 0.254 -0.036 0.451 137.9 28.8)" text-anchor="middle">0.5</text><text transform="matrix(0.528 -0.233 0.015 0.443 106.5 22.9)" text-anchor="middle">1.0</text><text transform="matrix(0.528 0.233 -0.015 0.443 125.8 22.9)" text-anchor="middle">1.0</text><text transform="matrix(0.617 -0.259 0.073 0.467 74.3 30.1)" text-anchor="middle">Time</text><text transform="matrix(0.624 0.262 -0.073 0.472 158 30.1)" text-anchor="middle">s:l ratio</text><text transform="matrix(0.362 0.362 -0.531 0.362 63.8 120.6)" text-anchor="middle">1.0</text><text transform="matrix(0.391 0.390 -0.538 0.390 72.3 129.3)" text-anchor="middle">0.5</text><text transform="matrix(0.424 0.425 -0.544 0.425 82 139.3)" text-anchor="middle">0.0</text><text transform="matrix(0.464 0.465 -0.548 0.465 93.2 150.5)" text-anchor="middle">-0.5</text><text transform="matrix(0.506 0.505 -0.550 0.505 104.8 161.4)" text-anchor="middle">-1.0</text><text transform="matrix(0.359 -0.356 0.527 0.356 168.6 118.8)" text-anchor="middle">1.0</text><text transform="matrix(0.390 -0.390 0.538 0.390 160 129.3)" text-anchor="middle">0.5</text><text transform="matrix(0.425 -0.425 0.543 0.425 149.8 139.4)" text-anchor="middle">0.0</text><text transform="matrix(0.464 -0.466 0.549 0.466 139.3 150.8)" text-anchor="middle">-0.5</text><text transform="matrix(0.507 -0.508 0.552 0.508 127.9 162)" text-anchor="middle">-1.0</text><text transform="matrix(0.434 0.469 -0.600 0.469 71.8 147.3)" text-anchor="middle">s:l ratio</text><text transform="matrix(0.437 -0.467 0.595 0.467 158.7 146.7)" text-anchor="middle">Time</text></g>
</g>
<text x="243" y="367.7" font-size="11.4" font-weight="bold" fill="#111">H</text>
<g transform="translate(473.2 354.4)">
<g fill="none" stroke="#efefef" stroke-width="0.6"><path d="M120.7 153.9L70.8 108.3"/><path d="M111.6 153.9L161.5 108.3"/><path d="M70.8 108.3L57.5 52.2"/><path d="M161.5 108.3L174.8 52.2"/><path d="M132.6 142.7L82.5 100.6"/><path d="M99.7 142.7L149.8 100.6"/><path d="M82.5 100.6L73 45"/><path d="M149.8 100.6L159.2 45"/><path d="M143.5 132.4L93.3 93.5"/><path d="M88.8 132.4L139 93.5"/><path d="M93.3 93.5L87.2 38.4"/><path d="M139 93.5L145.1 38.4"/><path d="M153.5 122.9L103.4 86.8"/><path d="M78.8 122.9L128.8 86.8"/><path d="M103.4 86.8L100.2 32.4"/><path d="M128.8 86.8L132.1 32.4"/><path d="M162.7 114.1L112.9 80.6"/><path d="M69.5 114.1L119.4 80.6"/><path d="M112.9 80.6L112.1 26.9"/><path d="M119.4 80.6L120.2 26.9"/><path d="M65.7 108.8L116.1 76.1"/><path d="M116.1 76.1L166.5 108.8"/><path d="M64 102.2L116.1 69.6"/><path d="M116.1 69.6L168.3 102.2"/><path d="M62.1 95.1L116.1 62.7"/><path d="M116.1 62.7L170.1 95.1"/><path d="M60.1 87.6L116.1 55.4"/><path d="M116.1 55.4L172.1 87.6"/><path d="M58 79.4L116.1 47.6"/><path d="M116.1 47.6L174.3 79.4"/><path d="M55.6 70.6L116.1 39.4"/><path d="M116.1 39.4L176.6 70.6"/><path d="M53.1 61.1L116.1 30.5"/><path d="M116.1 30.5L179.2 61.1"/></g><g fill="none" stroke="#e5e5e5" stroke-width="0.7"><path d="M66.4 111.2L116.1 158.2"/><path d="M116.1 158.2L165.9 111.2"/><path d="M165.9 111.2L116.1 78.5"/><path d="M116.1 78.5L66.4 111.2"/><path d="M66.4 111.2L51.5 55"/><path d="M165.9 111.2L180.8 55"/><path d="M116.1 78.5L116.1 25"/><path d="M51.5 55L116.1 25"/><path d="M116.1 25L180.8 55"/></g>
<g stroke-width="0.3" stroke-linejoin="round"><polygon points="85.1,99.7 74.2,112.2 83.5,117 83.7,112.8 84.1,107.8 84.4,104.9" fill="#1266ec" stroke="#1266ec"/><polygon points="85.1,99.7 84.3,104.9 84,107.8 83.6,112.8 83.5,117 95.9,123.3 95.4,117.5 95.2,112.4 95.1,109.1 95.2,103.9 95.5,98.6 95.8,94.9 96.4,90.9 97.3,85.9" fill="#14dcf6" stroke="#14dcf6"/><polygon points="97.2,85.9 96.4,90.1 95.8,94.9 95.4,98.6 95.1,103.9 95.1,109.1 95.1,112.4 95.4,117.5 95.8,123.3 110.6,130.8 108.8,121.8 107.7,114.3 106.9,106.8 106.5,100.4 106.4,97.5 106.5,92.5 106.8,86.9 107.3,82.3 107.6,79.8 108.3,75.8 109,72.4" fill="#10eea2" stroke="#10eea2"/><polygon points="108.4,74.9 107.5,79.8 106.9,84.5 106.6,89.3 106.4,94.6 106.4,97.7 106.6,103.6 107,108.6 107.6,114.3 108.8,121.8 109.6,126.2 110.6,130.8 116.1,133.6 124.3,122.1 122.1,112.9 121,107.8 120.4,104.2 119.4,97.4 118.7,90.4 118.5,85.7 118.4,83.1 118.4,80.1 118.6,75.9 118.8,72.6 119.2,69.5 120.1,63.8 116.1,64.2 108.9,72.4" fill="#0eec40" stroke="#0eec40"/><polygon points="119.4,67.5 119,70.2 118.7,73.7 118.4,80.1 118.4,85.7 118.5,88.4 118.9,93.1 119.3,97.4 119.8,100.7 120.8,107.1 121.8,111.7 122.7,115.8 124.3,122.1 134.7,107.5 133.1,101.6 131.8,95.8 130.7,90.1 129.8,84 129.2,78.6 128.9,73.6 128.8,69 129,62.7 120.1,63.8" fill="#2cec1c" stroke="#2cec1c"/><polygon points="129,62.6 128.8,67.1 128.8,73.6 129.1,78.6 129.7,84.1 130.6,90.1 131.7,95.8 133.1,101.6 134.7,107.6 145.1,93 143.7,88.4 142.7,84.5 142,81.8 140.9,76.5 140.4,73.4 139.7,68.8 139.4,65.9 139.1,61.4" fill="#a4f618" stroke="#a4f618"/><polygon points="139.1,61.4 139.2,63.8 139.7,68.8 140.3,73.4 140.9,76.5 142,81.8 142.6,84.6 143.7,88.5 145,93.1 155.3,78.6 153.6,73.2 152.2,67.9 151.5,64.9 150.5,60" fill="#fcd816" stroke="#fcd816"/><polygon points="150.4,60 151,62.9 152.1,68 153.6,73.3 155.3,78.7 165.1,65 162.8,58.4" fill="#f57612" stroke="#f57612"/><polygon points="163.2,59.8 165,65 170.4,57.5 162.8,58.4" fill="#ee0a12" stroke="#ee0a12"/></g>
<g fill="#222" stroke="#222" stroke-width="0.28" font-size="10" dominant-baseline="central"><text transform="matrix(0.516 -0.335 0.126 0.445 62.9 110.6)" text-anchor="end">35000</text><text transform="matrix(0.516 0.335 -0.126 0.445 169.3 110.6)" text-anchor="start">35000</text><text transform="matrix(0.553 -0.346 0.139 0.490 60.8 104.2)" text-anchor="end">40000</text><text transform="matrix(0.553 0.346 -0.139 0.490 171.5 104.2)" text-anchor="start">40000</text><text transform="matrix(0.593 -0.356 0.154 0.540 58.5 97.3)" text-anchor="end">45000</text><text transform="matrix(0.593 0.356 -0.154 0.540 173.7 97.3)" text-anchor="start">45000</text><text transform="matrix(0.636 -0.365 0.171 0.597 56.1 89.9)" text-anchor="end">50000</text><text transform="matrix(0.636 0.365 -0.171 0.597 176.2 89.9)" text-anchor="start">50000</text><text transform="matrix(0.684 -0.374 0.191 0.661 53.4 81.9)" text-anchor="end">55000</text><text transform="matrix(0.684 0.374 -0.191 0.661 178.9 81.9)" text-anchor="start">55000</text><text transform="matrix(0.737 -0.381 0.213 0.734 50.5 73.2)" text-anchor="end">60000</text><text transform="matrix(0.737 0.381 -0.213 0.734 181.7 73.2)" text-anchor="start">60000</text><text transform="matrix(0.795 -0.385 0.239 0.817 47.4 63.8)" text-anchor="end">65000</text><text transform="matrix(0.795 0.385 -0.239 0.817 184.9 63.8)" text-anchor="start">65000</text><text transform="matrix(0.218 0.488 -0.718 0.415 30 106.3)" text-anchor="middle">DPPH</text><text transform="matrix(0.218 -0.488 0.718 0.415 202.3 106.3)" text-anchor="middle">DPPH</text><text transform="matrix(0.752 -0.333 0.125 0.480 50.9 48.1)" text-anchor="middle">-1.0</text><text transform="matrix(0.752 0.333 -0.125 0.480 181.4 48.1)" text-anchor="middle">-1.0</text><text transform="matrix(0.685 -0.305 0.091 0.470 66.2 41.7)" text-anchor="middle">-0.5</text><text transform="matrix(0.685 0.305 -0.091 0.470 166.1 41.7)" text-anchor="middle">-0.5</text><text transform="matrix(0.624 -0.278 0.061 0.459 81 35.5)" text-anchor="middle">0.0</text><text transform="matrix(0.624 0.278 -0.061 0.459 151.3 35.5)" text-anchor="middle">0.0</text><text transform="matrix(0.573 -0.254 0.036 0.451 94.4 28.8)" text-anchor="middle">0.5</text><text transform="matrix(0.573 0.254 -0.036 0.451 137.9 28.8)" text-anchor="middle">0.5</text><text transform="matrix(0.528 -0.233 0.015 0.443 106.5 22.9)" text-anchor="middle">1.0</text><text transform="matrix(0.528 0.233 -0.015 0.443 125.8 22.9)" text-anchor="middle">1.0</text><text transform="matrix(0.617 -0.259 0.073 0.467 74.3 30.1)" text-anchor="middle">Time</text><text transform="matrix(0.624 0.262 -0.073 0.472 158 30.1)" text-anchor="middle">s:l ratio</text><text transform="matrix(0.362 0.362 -0.531 0.362 63.8 120.6)" text-anchor="middle">1.0</text><text transform="matrix(0.391 0.390 -0.538 0.390 72.3 129.3)" text-anchor="middle">0.5</text><text transform="matrix(0.424 0.425 -0.544 0.425 82 139.3)" text-anchor="middle">0.0</text><text transform="matrix(0.464 0.465 -0.548 0.465 93.2 150.5)" text-anchor="middle">-0.5</text><text transform="matrix(0.506 0.505 -0.550 0.505 104.8 161.4)" text-anchor="middle">-1.0</text><text transform="matrix(0.359 -0.356 0.527 0.356 168.6 118.8)" text-anchor="middle">1.0</text><text transform="matrix(0.390 -0.390 0.538 0.390 160 129.3)" text-anchor="middle">0.5</text><text transform="matrix(0.425 -0.425 0.543 0.425 149.8 139.4)" text-anchor="middle">0.0</text><text transform="matrix(0.464 -0.466 0.549 0.466 139.3 150.8)" text-anchor="middle">-0.5</text><text transform="matrix(0.507 -0.508 0.552 0.508 127.9 162)" text-anchor="middle">-1.0</text><text transform="matrix(0.434 0.469 -0.600 0.469 71.8 147.3)" text-anchor="middle">s:l ratio</text><text transform="matrix(0.437 -0.467 0.595 0.467 158.7 146.7)" text-anchor="middle">Time</text></g>
</g>
<text x="483.9" y="367.7" font-size="11.4" font-weight="bold" fill="#111">I</text>
<circle cx="706.4" cy="11.3" r="0.7" fill="#dcdcdc"/><circle cx="706" cy="185.5" r="0.7" fill="#ebebeb"/><circle cx="706" cy="188.8" r="0.7" fill="#ededed"/><circle cx="706" cy="363.4" r="0.7" fill="#e8e8e8"/><circle cx="706.4" cy="366.6" r="0.7" fill="#dedede"/>
</svg>
</body></html>
